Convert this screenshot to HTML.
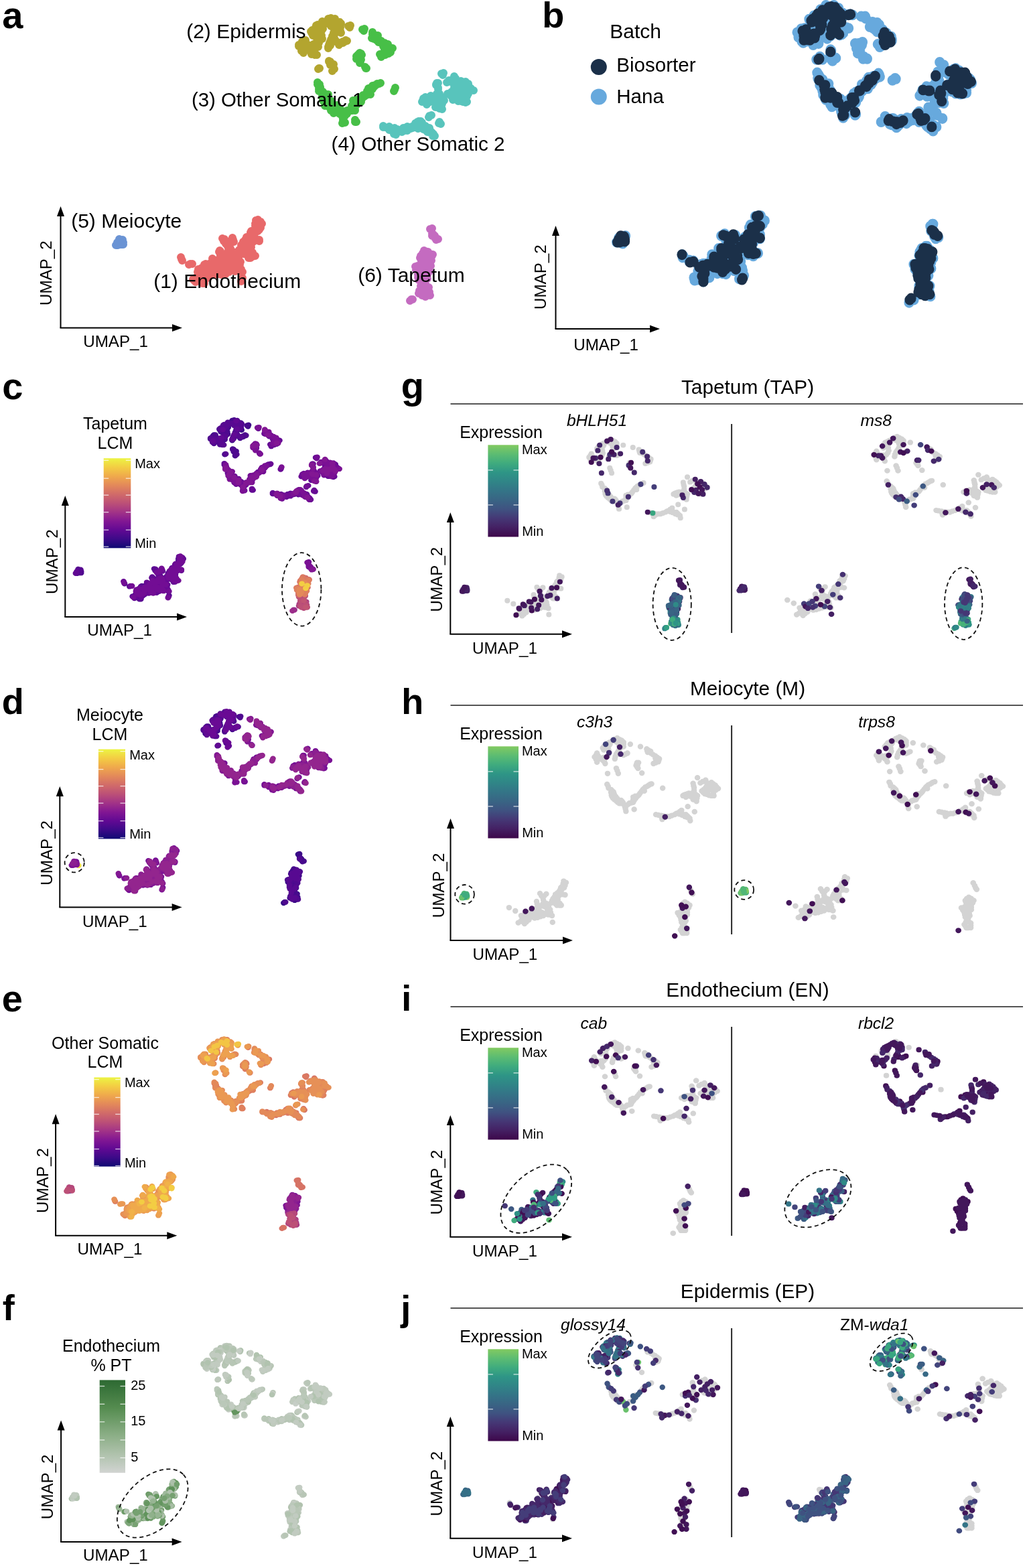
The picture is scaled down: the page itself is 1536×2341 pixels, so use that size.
<!DOCTYPE html>
<html><head><meta charset="utf-8"><title>Figure</title>
<style>html,body{margin:0;padding:0;background:#fff;}svg{display:block;}text{font-family:"Liberation Sans", sans-serif;fill:#000;}</style>
</head><body>
<svg width="1536" height="2341" viewBox="0 0 1536 2341">
<rect width="1536" height="2341" fill="#fff"/>
<g transform="matrix(1 0 0 1 0 0)" stroke-width="12" stroke-linecap="round" fill="none">
<path stroke="#b3a52f" d="M522 41h0M470 82h0M475 103h0M493 92h0M497 103h0M490 72h0M495 28h0M504 33h0M508 37h0M508 46h0M500 47h0M487 32h0M479 37h0M471 41h0M465 49h0M467 53h0M476 47h0M493 36h0M478 59h0M473 68h0M493 62h0M502 62h0M508 64h0M516 60h0M497 56h0M453 60h0M448 68h0M457 70h0M453 79h0M462 70h0M480 41h0M498 40h0M465 75h0M468 78h0M495 97h0M491 67h0M500 31h0M491 30h0M494 32h0M497 34h0M506 35h0M501 36h0M508 41h0M503 38h0M504 47h0M503 43h0M499 52h0M499 44h0M483 35h0M490 34h0M475 39h0M468 45h0M474 44h0M471 48h0M477 53h0M478 44h0M496 38h0M476 64h0M467 69h0M469 72h0M498 62h0M495 59h0M500 59h0M512 62h0M451 64h0M455 65h0M453 69h0M451 73h0M455 74h0M463 72h0M520 39h0M523 38h0M470 79h0M473 82h0M477 102h0M476 102h0M491 92h0M491 91h0M499 103h0M496 106h0M490 70h0M490 70h0M494 27h0M498 29h0M504 35h0M507 33h0M508 40h0M506 36h0M509 49h0M507 43h0M502 46h0M499 49h0M488 34h0M486 35h0M482 37h0M478 39h0M472 38h0M470 43h0M464 47h0M467 48h0M467 50h0M470 54h0M475 49h0M478 47h0M494 39h0M494 39h0M481 58h0M477 61h0M470 68h0M475 70h0M494 59h0M496 62h0M504 63h0M500 60h0M506 67h0M505 64h0M515 62h0M518 61h0M496 54h0M498 58h0M456 60h0M451 62h0M446 67h0M446 69h0M460 71h0M459 70h0M454 77h0M453 75h0M460 67h0M463 71h0M482 43h0M479 43h0M501 40h0M500 40h0M462 75h0M463 75h0M466 80h0M465 81h0M498 96h0M493 97h0M493 68h0M492 64h0M498 33h0M500 28h0M490 28h0M489 33h0M494 35h0M494 29h0M496 37h0M495 32h0M509 35h0M506 38h0M498 37h0M499 34h0M506 44h0M508 38h0M501 41h0M505 36h0M507 46h0M502 46h0M504 46h0M505 42h0M498 49h0M499 50h0M500 41h0M498 42h0M481 33h0M481 32h0M492 35h0M487 35h0M476 42h0M474 37h0M466 45h0M470 45h0M473 46h0M475 46h0M468 48h0M469 46h0M478 56h0M480 53h0M478 47h0M480 46h0M494 39h0M494 37h0M473 63h0M473 62h0M468 67h0M468 66h0M467 73h0M467 70h0M501 61h0M496 60h0M497 58h0M497 61h0M498 58h0M498 57h0M510 64h0M512 64h0M453 64h0M454 64h0M453 64h0M457 65h0M451 70h0M455 69h0M450 76h0M453 75h0M453 75h0M456 71h0M466 72h0M463 75h0"/>
<path stroke="#6a93d4" d="M175 362h0M183 358h0M180 365h0M178 357h0M173 366h0M184 365h0M179 360h0M184 362h0M176 366h0"/>
<path stroke="#c46bc0" d="M644 344h0M649 355h0M651 358h0M635 375h0M628 382h0M645 382h0M637 385h0M620 398h0M632 395h0M640 402h0M626 408h0M637 415h0M632 424h0M639 431h0M630 441h0M639 441h0M614 447h0M626 434h0M630 388h0M628 418h0M635 407h0M640 392h0M647 350h0M631 378h0M640 378h0M636 380h0M632 384h0M629 385h0M641 384h0M643 387h0M635 390h0M634 387h0M639 389h0M626 396h0M623 403h0M636 398h0M631 392h0M634 401h0M636 394h0M637 404h0M640 397h0M627 413h0M630 408h0M634 420h0M632 416h0M636 411h0M635 428h0M629 429h0M630 421h0M639 436h0M634 441h0M628 437h0M642 342h0M645 341h0M649 352h0M651 355h0M654 357h0M653 357h0M633 375h0M633 374h0M630 382h0M627 385h0M645 380h0M646 380h0M636 384h0M640 385h0M621 400h0M623 397h0M631 398h0M629 394h0M641 405h0M639 399h0M627 407h0M624 410h0M638 416h0M636 417h0M635 424h0M631 426h0M640 429h0M638 433h0M629 439h0M631 440h0M639 438h0M642 441h0M612 449h0M616 447h0M627 437h0M627 437h0M633 387h0M629 390h0M625 418h0M630 420h0M636 404h0M638 408h0M642 393h0M638 390h0M645 352h0M645 349h0M631 380h0M633 379h0M639 376h0M641 380h0M639 380h0M634 381h0M630 382h0M630 384h0M632 386h0M631 386h0M642 382h0M641 381h0M641 385h0M644 389h0M636 393h0M634 393h0M637 387h0M636 386h0M636 389h0M636 389h0M625 398h0M624 399h0M626 402h0M621 403h0M638 400h0M637 395h0M629 394h0M631 389h0M632 399h0M632 403h0M636 396h0M636 391h0M637 407h0M636 402h0M643 397h0M640 400h0M624 414h0M625 411h0M629 410h0M630 405h0M633 422h0M636 417h0M635 416h0M630 416h0M637 413h0M638 410h0M634 425h0M635 426h0M629 427h0M628 427h0M628 419h0M628 419h0M641 436h0M636 437h0M635 443h0M633 439h0M625 438h0M630 438h0"/>
<path stroke="#e8696a" d="M384 331h0M389 334h0M383 342h0M385 345h0M375 352h0M387 360h0M367 359h0M372 365h0M335 357h0M348 358h0M341 366h0M328 374h0M343 376h0M339 382h0M358 377h0M364 375h0M379 382h0M370 382h0M353 390h0M358 403h0M339 397h0M322 390h0M308 398h0M296 404h0M271 387h0M284 394h0M328 400h0M372 375h0M297 405h0M290 419h0M303 421h0M308 401h0M323 403h0M339 397h0M356 391h0M360 404h0M361 418h0M315 395h0M345 385h0M362 368h0M378 358h0M300 412h0M313 405h0M330 390h0M378 345h0M305 395h0M318 389h0M330 384h0M312 413h0M324 409h0M336 406h0M347 401h0M353 380h0M383 336h0M387 340h0M380 343h0M380 349h0M371 356h0M377 355h0M377 349h0M382 359h0M370 362h0M365 364h0M373 359h0M372 370h0M367 366h0M375 361h0M338 362h0M344 362h0M342 371h0M329 379h0M341 379h0M344 380h0M348 378h0M342 384h0M334 386h0M361 376h0M360 372h0M367 379h0M368 375h0M363 371h0M375 382h0M376 378h0M371 379h0M349 388h0M350 396h0M353 385h0M357 397h0M352 402h0M334 399h0M334 394h0M338 402h0M343 399h0M325 395h0M319 393h0M326 390h0M311 397h0M310 402h0M302 402h0M298 408h0M329 395h0M326 405h0M332 403h0M367 371h0M295 416h0M301 416h0M307 417h0M319 399h0M318 404h0M314 400h0M349 382h0M306 412h0M312 409h0M318 407h0M330 408h0M342 404h0M382 329h0M385 328h0M389 331h0M391 334h0M385 341h0M385 340h0M383 346h0M382 345h0M377 352h0M375 355h0M387 358h0M387 358h0M366 358h0M370 359h0M373 367h0M375 365h0M334 360h0M332 356h0M349 361h0M347 355h0M343 364h0M340 368h0M329 375h0M327 376h0M346 376h0M342 378h0M340 380h0M338 385h0M357 375h0M359 376h0M364 372h0M367 375h0M377 383h0M381 382h0M372 385h0M371 385h0M356 389h0M351 392h0M355 403h0M360 405h0M340 394h0M342 398h0M324 392h0M320 388h0M306 401h0M305 397h0M295 406h0M298 405h0M270 384h0M272 389h0M287 394h0M282 395h0M326 398h0M326 401h0M375 376h0M375 375h0M298 404h0M296 402h0M288 417h0M292 421h0M305 423h0M302 423h0M311 401h0M310 400h0M320 403h0M321 403h0M337 398h0M337 399h0M359 391h0M354 391h0M362 406h0M360 402h0M360 420h0M362 415h0M314 393h0M313 397h0M345 387h0M345 382h0M361 371h0M360 366h0M381 358h0M378 361h0M297 413h0M298 410h0M311 407h0M313 402h0M328 392h0M332 388h0M381 345h0M375 345h0M307 398h0M307 394h0M317 386h0M318 387h0M331 381h0M329 382h0M310 411h0M310 411h0M326 409h0M321 410h0M337 409h0M335 405h0M345 401h0M349 402h0M352 382h0M354 382h0M381 337h0M381 334h0M387 343h0M389 340h0M380 346h0M383 345h0M379 350h0M378 347h0M369 355h0M368 354h0M378 353h0M378 353h0M375 350h0M374 347h0M385 358h0M381 358h0M371 361h0M372 364h0M363 362h0M363 361h0M371 360h0M373 361h0M375 369h0M375 369h0M365 365h0M370 366h0M373 363h0M378 361h0M337 364h0M340 363h0M342 363h0M345 359h0M344 371h0M341 374h0M329 377h0M329 381h0M343 379h0M339 378h0M342 378h0M344 378h0M348 376h0M346 377h0M341 386h0M340 384h0M334 384h0M337 387h0M358 377h0M363 374h0M363 373h0M357 373h0M367 376h0M364 379h0M366 376h0M370 373h0M362 374h0M366 373h0M374 380h0M374 385h0M377 377h0M373 378h0M369 379h0M373 381h0M350 386h0M349 391h0M351 393h0M353 396h0M356 385h0M352 383h0M358 395h0M355 395h0M352 400h0M351 405h0M335 401h0M332 400h0M333 392h0M336 395h0M339 402h0M335 400h0M345 398h0M341 400h0M323 394h0M328 394h0M321 394h0M320 395h0M323 390h0M324 389h0M311 399h0M311 399h0M308 401h0M311 404h0M302 400h0M301 400h0M300 409h0M300 409h0M327 394h0M331 393h0M325 407h0M329 405h0M334 404h0M335 402h0M367 373h0M370 371h0M296 414h0M293 414h0M302 419h0M300 415h0M306 418h0M309 415h0M320 397h0M321 397h0M316 403h0M318 402h0M316 401h0M315 402h0M351 381h0M349 381h0M303 413h0M304 411h0M311 409h0M314 411h0M317 409h0M320 406h0M330 410h0M331 409h0M342 406h0M345 404h0"/>
<path stroke="#58c4bc" d="M661 112h0M678 117h0M667 123h0M690 122h0M652 124h0M654 133h0M704 135h0M678 133h0M688 134h0M676 146h0M685 149h0M695 150h0M693 140h0M631 150h0M643 145h0M650 152h0M661 150h0M659 160h0M641 173h0M628 181h0M655 184h0M637 190h0M643 196h0M614 190h0M603 194h0M586 192h0M575 190h0M588 200h0M629 191h0M635 194h0M645 198h0M646 203h0M659 162h0M683 127h0M670 140h0M698 128h0M680 141h0M594 195h0M620 187h0M637 147h0M637 153h0M645 151h0M652 158h0M655 145h0M672 120h0M680 122h0M687 124h0M694 125h0M653 129h0M654 139h0M699 138h0M701 132h0M683 134h0M680 130h0M674 137h0M679 137h0M691 137h0M686 131h0M693 131h0M684 138h0M680 147h0M673 143h0M678 143h0M690 150h0M682 145h0M694 145h0M634 148h0M640 146h0M644 148h0M649 145h0M655 151h0M651 155h0M652 149h0M660 155h0M656 154h0M658 148h0M656 159h0M628 186h0M624 184h0M640 193h0M633 190h0M608 192h0M617 188h0M598 194h0M580 191h0M587 196h0M590 193h0M591 197h0M624 189h0M640 196h0M675 140h0M641 149h0M659 110h0M662 109h0M678 114h0M680 117h0M670 122h0M669 122h0M688 122h0M688 121h0M654 124h0M651 127h0M654 131h0M654 131h0M702 134h0M707 135h0M678 135h0M681 133h0M687 137h0M685 134h0M676 149h0M674 143h0M687 148h0M684 151h0M697 152h0M695 153h0M696 140h0M692 142h0M632 147h0M630 152h0M643 143h0M645 144h0M650 149h0M653 152h0M659 152h0M663 150h0M660 163h0M660 163h0M644 172h0M640 175h0M625 181h0M630 183h0M656 182h0M658 185h0M639 191h0M635 188h0M642 198h0M641 195h0M613 192h0M616 191h0M602 191h0M604 195h0M589 191h0M584 193h0M572 188h0M572 190h0M591 201h0M591 200h0M630 190h0M628 188h0M633 192h0M637 196h0M647 200h0M645 200h0M649 203h0M648 203h0M656 162h0M657 162h0M681 128h0M681 129h0M673 139h0M668 140h0M700 129h0M699 125h0M678 143h0M680 138h0M593 193h0M592 197h0M620 189h0M620 184h0M636 150h0M635 145h0M640 153h0M637 156h0M642 152h0M643 149h0M650 160h0M652 155h0M653 147h0M657 143h0M676 119h0M670 120h0M682 124h0M683 121h0M686 122h0M686 122h0M695 122h0M693 123h0M651 127h0M651 126h0M656 140h0M652 140h0M699 140h0M697 136h0M699 132h0M703 132h0M682 136h0M684 136h0M678 131h0M678 128h0M674 140h0M676 137h0M678 140h0M681 139h0M689 138h0M689 136h0M683 130h0M683 129h0M694 129h0M694 129h0M683 139h0M682 136h0M683 147h0M678 146h0M674 142h0M675 145h0M676 142h0M676 141h0M688 151h0M691 152h0M685 145h0M685 144h0M692 144h0M697 144h0M632 149h0M636 148h0M640 148h0M642 148h0M642 149h0M645 145h0M652 145h0M649 148h0M656 149h0M655 153h0M653 155h0M649 153h0M651 146h0M652 146h0M660 153h0M658 155h0M656 156h0M654 155h0M658 145h0M660 148h0M653 160h0M657 158h0M631 187h0M626 187h0M623 182h0M621 185h0M638 194h0M641 191h0M632 193h0M636 192h0M608 189h0M608 195h0M619 187h0M615 189h0M596 194h0M600 197h0M581 189h0M581 194h0M588 193h0M590 196h0M593 193h0M589 191h0M592 196h0M589 195h0M624 187h0M624 192h0M642 198h0M638 197h0M674 139h0M677 142h0M643 150h0M638 148h0"/>
<path stroke="#47bf47" d="M543 46h0M556 51h0M558 58h0M564 56h0M565 60h0M574 66h0M582 72h0M580 78h0M570 82h0M575 76h0M536 80h0M539 80h0M534 86h0M538 92h0M546 102h0M474 126h0M477 134h0M482 137h0M487 142h0M489 148h0M483 149h0M493 161h0M499 166h0M507 165h0M511 174h0M513 183h0M520 166h0M528 164h0M528 153h0M538 150h0M530 179h0M548 137h0M553 132h0M560 128h0M566 125h0M551 140h0M589 134h0M495 156h0M503 160h0M486 155h0M515 170h0M533 156h0M542 145h0M557 55h0M560 54h0M561 57h0M569 63h0M578 69h0M574 71h0M581 75h0M575 80h0M535 83h0M537 86h0M536 89h0M476 130h0M485 140h0M482 143h0M488 145h0M485 146h0M486 149h0M492 152h0M488 152h0M484 152h0M496 164h0M498 160h0M489 158h0M503 166h0M501 163h0M509 169h0M505 162h0M512 178h0M524 165h0M518 168h0M528 158h0M530 160h0M532 151h0M530 154h0M535 153h0M540 148h0M550 135h0M545 141h0M557 130h0M563 126h0M541 44h0M544 43h0M556 48h0M559 52h0M560 57h0M559 57h0M562 56h0M562 55h0M567 60h0M565 63h0M574 64h0M574 64h0M581 70h0M586 72h0M580 80h0M583 78h0M569 85h0M567 81h0M576 79h0M574 73h0M537 79h0M534 82h0M540 82h0M538 83h0M536 86h0M532 88h0M539 89h0M537 94h0M545 100h0M547 102h0M474 123h0M477 126h0M476 136h0M479 134h0M483 140h0M483 140h0M490 141h0M486 144h0M486 148h0M491 150h0M484 146h0M486 150h0M495 162h0M490 159h0M498 169h0M497 166h0M507 167h0M509 166h0M510 171h0M512 175h0M515 183h0M511 184h0M518 165h0M518 167h0M530 165h0M530 164h0M529 151h0M527 150h0M536 148h0M539 152h0M532 182h0M530 182h0M551 137h0M550 137h0M550 132h0M551 132h0M559 129h0M558 130h0M568 124h0M563 125h0M553 141h0M552 137h0M588 136h0M590 131h0M494 154h0M493 158h0M503 162h0M503 157h0M485 158h0M484 153h0M518 170h0M515 173h0M530 157h0M531 154h0M540 147h0M542 142h0M555 57h0M559 53h0M564 53h0M558 53h0M562 60h0M563 56h0M568 61h0M569 61h0M579 66h0M577 67h0M572 69h0M572 69h0M583 75h0M579 76h0M575 82h0M573 78h0M532 84h0M537 84h0M536 88h0M538 88h0M534 89h0M534 87h0M476 133h0M478 130h0M484 142h0M487 142h0M481 145h0M481 142h0M486 144h0M486 144h0M486 143h0M486 143h0M485 150h0M484 147h0M495 151h0M490 151h0M489 150h0M490 153h0M483 151h0M482 150h0M494 165h0M496 166h0M500 160h0M501 160h0M488 157h0M492 158h0M501 167h0M506 165h0M501 166h0M503 165h0M507 170h0M510 166h0M508 163h0M505 165h0M512 176h0M512 180h0M526 165h0M522 164h0M516 166h0M518 166h0M528 156h0M525 158h0M529 162h0M528 160h0M532 149h0M535 152h0M527 155h0M532 153h0M538 153h0M533 154h0M539 145h0M537 148h0M548 136h0M552 133h0M544 144h0M547 142h0M556 128h0M556 133h0M565 125h0M560 127h0"/>
</g>
<text x="278.2" y="57.0" font-size="30">(2) Epidermis</text>
<text x="285.9" y="159.2" font-size="29.4">(3) Other Somatic 1</text>
<text x="494.6" y="225.1" font-size="29.7">(4) Other Somatic 2</text>
<text x="106.2" y="340.0" font-size="30">(5) Meiocyte</text>
<text x="229.2" y="430.0" font-size="30">(1) Endothecium</text>
<text x="534.2" y="421.0" font-size="30">(6) Tapetum</text>
<line x1="90.5" y1="489.4" x2="90.5" y2="322.0" stroke="#000" stroke-width="2"/>
<line x1="89.5" y1="489.4" x2="258.0" y2="489.4" stroke="#000" stroke-width="2"/>
<path d="M90.5,308.0 L85.0,323.0 L96.0,323.0 Z" fill="#000"/>
<path d="M272.0,489.4 L257.0,483.9 L257.0,494.9 Z" fill="#000"/>
<text x="124.2" y="518.0" font-size="24.2">UMAP_1</text>
<text x="76.7" y="456.0" font-size="24.2" transform="rotate(-90 76.7 456.0)">UMAP_2</text>
<g transform="matrix(0.994 0 0 1.037 749.7 -18)" stroke-width="15.29" stroke-linecap="round" fill="none">
<path stroke="#67a9dd" d="M521 38h0M467 82h0M472 103h0M493 89h0M496 105h0M488 73h0M496 28h0M501 36h0M506 34h0M510 44h0M501 46h0M484 29h0M480 36h0M472 40h0M467 50h0M468 53h0M478 46h0M490 35h0M476 59h0M474 70h0M496 60h0M503 62h0M510 67h0M517 57h0M498 60h0M451 60h0M445 68h0M454 66h0M450 77h0M464 67h0M480 44h0M501 38h0M464 78h0M465 76h0M493 97h0M490 63h0M499 31h0M492 31h0M495 29h0M499 37h0M505 34h0M502 33h0M506 39h0M500 35h0M501 46h0M505 44h0M497 51h0M497 46h0M483 35h0M487 33h0M478 36h0M471 45h0M474 41h0M474 50h0M476 52h0M480 44h0M494 36h0M479 66h0M469 71h0M469 71h0M495 60h0M497 62h0M503 63h0M511 60h0M449 62h0M458 67h0M454 71h0M452 76h0M457 74h0M465 71h0M523 38h0M526 39h0M467 76h0M475 80h0M481 103h0M477 99h0M494 93h0M494 90h0M501 101h0M495 104h0M488 69h0M493 69h0M494 30h0M501 29h0M505 32h0M505 29h0M505 40h0M506 35h0M509 51h0M507 41h0M504 46h0M501 52h0M489 34h0M487 35h0M482 40h0M481 42h0M473 42h0M468 40h0M461 45h0M468 50h0M465 52h0M468 56h0M473 52h0M478 51h0M492 38h0M493 37h0M483 54h0M477 58h0M471 68h0M478 72h0M492 57h0M498 61h0M504 66h0M498 57h0M507 68h0M502 65h0M512 65h0M520 58h0M493 56h0M497 59h0M454 58h0M449 59h0M443 64h0M445 71h0M460 68h0M456 68h0M456 77h0M452 79h0M462 67h0M466 70h0M483 47h0M482 45h0M500 39h0M498 37h0M460 73h0M465 78h0M464 78h0M465 78h0M496 100h0M493 95h0M492 67h0M491 64h0M496 33h0M498 25h0M486 25h0M487 33h0M495 36h0M497 29h0M499 35h0M496 29h0M511 36h0M508 35h0M498 40h0M501 35h0M508 45h0M505 36h0M499 43h0M506 37h0M507 43h0M503 46h0M505 43h0M503 39h0M499 47h0M502 50h0M500 42h0M499 43h0M478 31h0M480 33h0M489 33h0M489 36h0M476 41h0M471 40h0M469 48h0M470 48h0M473 44h0M478 44h0M466 49h0M466 48h0M480 58h0M483 53h0M474 46h0M479 44h0M493 42h0M496 39h0M476 64h0M471 61h0M472 67h0M468 65h0M465 75h0M470 68h0M501 59h0M499 63h0M498 61h0M498 62h0M500 57h0M499 55h0M513 61h0M511 63h0M456 62h0M452 64h0M451 61h0M460 65h0M454 74h0M453 66h0M449 73h0M451 76h0M455 74h0M456 70h0M463 71h0M460 75h0M546 44h0M555 51h0M561 61h0M561 53h0M568 60h0M570 66h0M585 74h0M578 75h0M570 83h0M576 77h0M535 80h0M541 78h0M535 85h0M536 92h0M543 99h0M475 125h0M478 130h0M482 141h0M490 142h0M487 152h0M481 146h0M494 160h0M500 169h0M504 164h0M512 172h0M515 183h0M523 165h0M526 162h0M526 156h0M535 148h0M531 182h0M547 135h0M550 129h0M560 131h0M567 128h0M550 138h0M591 131h0M494 155h0M501 157h0M485 158h0M518 168h0M535 158h0M539 145h0M560 53h0M563 50h0M563 59h0M566 60h0M576 71h0M573 70h0M582 73h0M573 78h0M536 86h0M540 82h0M536 92h0M475 128h0M485 143h0M484 145h0M490 146h0M484 145h0M483 147h0M490 149h0M488 150h0M487 156h0M493 161h0M499 160h0M489 159h0M505 168h0M498 166h0M510 168h0M503 161h0M510 181h0M523 164h0M518 166h0M529 162h0M530 162h0M535 148h0M528 152h0M536 156h0M542 147h0M552 138h0M545 142h0M556 128h0M561 127h0M539 41h0M545 41h0M554 50h0M556 49h0M560 58h0M557 58h0M561 55h0M560 56h0M567 63h0M564 61h0M572 61h0M574 67h0M584 70h0M582 72h0M583 77h0M582 78h0M567 85h0M564 81h0M579 77h0M577 76h0M534 82h0M537 82h0M538 84h0M537 85h0M534 84h0M532 87h0M537 91h0M534 94h0M542 102h0M548 102h0M473 122h0M476 127h0M475 132h0M479 132h0M485 140h0M483 137h0M490 138h0M486 141h0M483 149h0M492 147h0M483 149h0M488 153h0M497 160h0M490 162h0M495 171h0M494 165h0M504 169h0M511 163h0M513 169h0M512 174h0M513 180h0M512 187h0M520 162h0M519 166h0M531 165h0M527 168h0M528 153h0M531 150h0M537 148h0M541 148h0M530 183h0M530 183h0M547 134h0M551 136h0M553 130h0M552 129h0M558 127h0M556 131h0M566 125h0M561 128h0M551 138h0M554 139h0M586 133h0M590 130h0M493 157h0M491 161h0M503 162h0M500 159h0M486 161h0M482 154h0M519 172h0M514 171h0M533 159h0M528 156h0M540 149h0M540 139h0M552 56h0M560 55h0M562 54h0M560 54h0M563 63h0M566 53h0M567 62h0M571 60h0M577 65h0M578 68h0M575 69h0M574 71h0M585 76h0M577 77h0M578 80h0M571 81h0M530 80h0M538 85h0M538 85h0M537 90h0M536 86h0M537 90h0M474 130h0M481 132h0M486 143h0M484 139h0M479 143h0M477 140h0M488 144h0M489 144h0M487 140h0M486 145h0M486 151h0M486 144h0M493 148h0M492 154h0M489 150h0M487 153h0M485 149h0M481 148h0M494 163h0M493 168h0M502 161h0M500 159h0M485 159h0M490 156h0M501 166h0M504 165h0M502 167h0M502 164h0M509 171h0M507 166h0M508 160h0M507 164h0M511 178h0M509 178h0M525 165h0M521 161h0M518 163h0M515 165h0M530 158h0M523 159h0M527 162h0M527 162h0M532 150h0M532 153h0M529 158h0M533 154h0M536 155h0M535 156h0M540 146h0M535 149h0M548 138h0M552 131h0M544 145h0M549 145h0M557 130h0M556 136h0M565 123h0M563 127h0M662 112h0M678 118h0M667 122h0M688 123h0M654 121h0M653 130h0M703 132h0M677 135h0M686 132h0M679 146h0M687 148h0M693 152h0M694 139h0M629 153h0M644 147h0M649 151h0M658 152h0M661 159h0M640 172h0M624 183h0M653 183h0M637 191h0M642 199h0M611 192h0M605 191h0M587 188h0M578 191h0M585 197h0M631 190h0M638 196h0M648 198h0M647 206h0M662 159h0M683 129h0M673 140h0M696 125h0M677 141h0M594 195h0M623 184h0M637 147h0M639 152h0M648 148h0M653 155h0M656 148h0M676 120h0M683 119h0M687 123h0M693 125h0M655 127h0M654 140h0M697 140h0M701 130h0M686 135h0M679 129h0M674 138h0M676 139h0M691 134h0M682 129h0M694 132h0M687 138h0M681 149h0M674 141h0M678 145h0M688 146h0M685 146h0M697 147h0M632 147h0M639 145h0M647 145h0M646 142h0M656 154h0M647 154h0M655 152h0M659 152h0M654 152h0M655 149h0M659 156h0M626 183h0M622 186h0M637 195h0M635 192h0M609 193h0M620 187h0M600 191h0M581 193h0M586 197h0M593 193h0M590 198h0M626 187h0M639 197h0M674 140h0M644 151h0M657 107h0M663 111h0M678 117h0M681 116h0M673 121h0M670 124h0M686 119h0M687 122h0M657 121h0M653 130h0M652 134h0M656 134h0M699 134h0M705 137h0M676 136h0M680 131h0M689 139h0M683 136h0M675 149h0M677 143h0M687 145h0M681 152h0M697 151h0M692 149h0M695 137h0M694 139h0M631 147h0M627 155h0M643 143h0M647 144h0M651 151h0M651 149h0M657 149h0M663 153h0M663 166h0M661 162h0M647 170h0M641 178h0M624 180h0M633 187h0M652 180h0M661 188h0M636 193h0M636 191h0M639 200h0M642 194h0M615 189h0M614 188h0M599 189h0M605 192h0M586 188h0M582 196h0M575 185h0M569 193h0M592 201h0M593 200h0M627 188h0M630 189h0M636 191h0M635 194h0M646 198h0M643 203h0M652 200h0M650 201h0M655 160h0M656 165h0M684 125h0M683 126h0M671 143h0M670 139h0M696 132h0M696 125h0M676 144h0M678 140h0M590 190h0M593 197h0M617 190h0M623 185h0M633 152h0M637 142h0M638 156h0M637 152h0M642 154h0M641 151h0M648 159h0M648 155h0M653 145h0M659 146h0M677 118h0M667 122h0M682 125h0M683 118h0M684 120h0M685 125h0M692 124h0M689 124h0M651 128h0M653 128h0M654 139h0M650 138h0M697 141h0M695 137h0M696 134h0M702 132h0M682 135h0M686 135h0M677 130h0M680 131h0M677 137h0M679 140h0M678 140h0M681 136h0M689 135h0M692 138h0M684 132h0M685 126h0M692 130h0M694 132h0M681 139h0M685 135h0M684 144h0M682 146h0M674 142h0M672 142h0M676 141h0M673 142h0M689 152h0M688 153h0M685 145h0M684 142h0M693 143h0M693 143h0M630 150h0M635 151h0M641 146h0M645 147h0M641 148h0M642 143h0M653 143h0M648 149h0M658 151h0M657 155h0M653 157h0M652 151h0M647 148h0M652 150h0M660 155h0M658 154h0M655 158h0M653 155h0M657 147h0M660 148h0M651 158h0M658 155h0M630 189h0M629 185h0M626 178h0M621 184h0M640 195h0M642 191h0M631 192h0M635 195h0M608 187h0M607 195h0M622 190h0M614 190h0M595 195h0M598 195h0M583 189h0M583 195h0M591 196h0M587 195h0M593 191h0M590 192h0M596 197h0M589 197h0M625 184h0M626 193h0M640 198h0M637 198h0M677 140h0M674 140h0M640 147h0M639 150h0M177 359h0M185 357h0M179 363h0M175 360h0M172 366h0M181 368h0M182 360h0M182 358h0M179 364h0M386 329h0M392 334h0M381 341h0M383 344h0M375 354h0M385 359h0M371 358h0M370 365h0M334 354h0M350 357h0M339 364h0M325 375h0M340 377h0M337 385h0M357 379h0M362 374h0M378 385h0M373 383h0M352 388h0M356 406h0M338 395h0M320 393h0M308 398h0M298 403h0M272 386h0M281 392h0M327 401h0M373 374h0M295 402h0M288 417h0M301 420h0M309 403h0M321 401h0M340 398h0M355 392h0M358 407h0M362 416h0M318 397h0M342 382h0M360 367h0M375 357h0M298 414h0M315 403h0M331 389h0M380 347h0M302 397h0M315 387h0M332 382h0M314 410h0M323 411h0M334 403h0M346 404h0M355 382h0M383 333h0M386 340h0M378 345h0M381 351h0M372 359h0M377 353h0M376 348h0M381 356h0M371 360h0M365 363h0M372 357h0M370 370h0M369 367h0M373 363h0M338 363h0M342 361h0M340 368h0M327 380h0M338 378h0M343 378h0M345 381h0M339 385h0M335 384h0M360 373h0M356 375h0M368 382h0M367 373h0M360 373h0M373 380h0M378 381h0M373 381h0M348 385h0M349 395h0M352 387h0M353 398h0M354 403h0M337 399h0M332 392h0M335 403h0M343 402h0M322 395h0M320 389h0M329 392h0M310 398h0M310 400h0M303 405h0M296 407h0M330 394h0M323 403h0M335 406h0M370 375h0M297 413h0M302 415h0M311 417h0M318 398h0M315 402h0M314 397h0M348 383h0M306 413h0M310 407h0M319 404h0M328 405h0M340 403h0M380 329h0M385 328h0M388 328h0M394 335h0M387 338h0M386 338h0M382 344h0M383 347h0M379 349h0M374 352h0M385 356h0M387 361h0M368 358h0M373 357h0M372 369h0M377 362h0M336 363h0M329 357h0M349 363h0M350 356h0M341 364h0M340 365h0M326 377h0M327 375h0M345 373h0M342 379h0M343 377h0M336 385h0M359 371h0M362 378h0M364 369h0M367 378h0M374 382h0M384 382h0M369 384h0M372 384h0M352 390h0M348 392h0M351 400h0M358 403h0M338 395h0M345 401h0M325 393h0M322 389h0M305 399h0M308 401h0M294 408h0M298 406h0M270 384h0M271 388h0M287 393h0M281 394h0M322 401h0M325 401h0M373 373h0M373 377h0M301 402h0M297 399h0M289 421h0M294 420h0M302 423h0M301 422h0M308 399h0M308 400h0M321 406h0M319 405h0M338 395h0M339 398h0M356 391h0M355 394h0M361 407h0M360 403h0M356 419h0M363 414h0M314 391h0M310 400h0M348 384h0M347 381h0M359 369h0M358 368h0M381 359h0M379 361h0M299 411h0M300 412h0M313 411h0M311 402h0M326 389h0M333 390h0M385 343h0M373 341h0M303 398h0M305 397h0M315 384h0M321 385h0M332 380h0M329 383h0M312 411h0M313 408h0M323 410h0M324 407h0M336 412h0M336 403h0M343 401h0M347 404h0M351 385h0M354 379h0M384 335h0M384 333h0M387 345h0M391 340h0M381 348h0M385 344h0M381 348h0M382 346h0M366 358h0M371 352h0M375 351h0M375 351h0M377 353h0M371 345h0M387 355h0M379 357h0M368 364h0M374 361h0M361 362h0M364 359h0M371 358h0M373 364h0M373 373h0M377 367h0M364 362h0M370 366h0M372 359h0M379 362h0M339 367h0M341 363h0M342 366h0M344 358h0M348 368h0M344 372h0M328 375h0M326 383h0M346 376h0M338 379h0M341 382h0M346 381h0M349 379h0M347 379h0M343 385h0M340 386h0M335 384h0M337 385h0M358 378h0M363 372h0M366 373h0M358 376h0M364 378h0M365 381h0M369 373h0M372 375h0M360 372h0M365 375h0M373 377h0M377 386h0M377 379h0M371 380h0M369 377h0M372 380h0M348 386h0M347 392h0M349 391h0M350 397h0M354 384h0M353 382h0M358 394h0M353 394h0M354 399h0M352 408h0M338 402h0M333 399h0M335 391h0M336 398h0M336 403h0M335 403h0M344 400h0M341 400h0M324 395h0M324 396h0M323 396h0M318 392h0M320 387h0M324 386h0M313 399h0M313 399h0M312 404h0M308 403h0M298 404h0M299 398h0M303 410h0M299 406h0M330 396h0M329 391h0M325 406h0M329 406h0M336 402h0M335 399h0M368 373h0M369 369h0M295 415h0M294 414h0M301 421h0M299 416h0M308 415h0M307 418h0M322 397h0M322 395h0M318 400h0M316 399h0M318 404h0M316 400h0M352 378h0M350 377h0M302 411h0M303 411h0M313 408h0M311 413h0M316 405h0M321 404h0M327 410h0M331 411h0M344 403h0M348 407h0M643 343h0M649 358h0M651 361h0M636 372h0M626 385h0M643 385h0M638 389h0M624 399h0M631 395h0M642 399h0M624 405h0M634 415h0M633 424h0M639 428h0M627 441h0M638 442h0M612 450h0M628 437h0M628 385h0M625 418h0M632 407h0M640 392h0M645 349h0M629 377h0M640 381h0M639 380h0M633 385h0M631 383h0M638 383h0M641 390h0M635 388h0M636 388h0M637 389h0M623 397h0M625 402h0M636 401h0M634 391h0M631 399h0M637 391h0M635 402h0M639 400h0M629 413h0M632 410h0M635 417h0M635 418h0M637 410h0M639 429h0M626 432h0M633 423h0M641 436h0M636 443h0M626 441h0M646 340h0M647 340h0M647 349h0M650 355h0M655 359h0M655 359h0M636 378h0M630 375h0M629 383h0M629 382h0M642 377h0M645 381h0M635 382h0M643 386h0M618 398h0M623 398h0M629 399h0M632 392h0M644 404h0M641 399h0M627 407h0M624 413h0M640 414h0M632 415h0M635 427h0M630 424h0M642 429h0M641 436h0M626 440h0M635 439h0M640 437h0M643 444h0M611 453h0M618 449h0M627 439h0M628 439h0M632 384h0M631 387h0M626 414h0M632 421h0M638 403h0M637 411h0M644 395h0M641 391h0M644 350h0M647 351h0M628 381h0M631 381h0M638 372h0M640 383h0M637 379h0M632 380h0M627 380h0M629 388h0M630 389h0M634 387h0M641 379h0M641 381h0M642 383h0M647 389h0M637 391h0M631 395h0M636 390h0M634 383h0M638 390h0M639 386h0M626 401h0M625 401h0M629 404h0M620 405h0M636 402h0M637 397h0M627 393h0M631 389h0M633 399h0M632 402h0M638 398h0M638 393h0M639 410h0M638 403h0M640 398h0M641 398h0M625 416h0M623 409h0M630 413h0M629 406h0M635 421h0M637 415h0M632 415h0M632 413h0M635 411h0M637 409h0M632 427h0M637 428h0M626 429h0M628 427h0M629 421h0M627 419h0M639 439h0M638 440h0M638 440h0M630 439h0M627 438h0M627 437h0"/>
<path stroke="#1b3049" d="M475 103h0M493 92h0M504 33h0M508 37h0M500 47h0M487 32h0M479 37h0M471 41h0M465 49h0M478 59h0M502 62h0M498 40h0M506 35h0M501 36h0M508 41h0M503 38h0M504 47h0M503 43h0M499 52h0M483 35h0M490 34h0M475 39h0M468 45h0M474 44h0M477 53h0M469 72h0M498 62h0M495 59h0M453 69h0M520 39h0M523 38h0M476 102h0M494 27h0M498 29h0M504 35h0M506 36h0M509 49h0M507 43h0M499 49h0M488 34h0M486 35h0M478 39h0M470 43h0M464 47h0M475 49h0M494 39h0M494 39h0M477 61h0M470 68h0M494 59h0M506 67h0M496 54h0M456 60h0M451 62h0M459 70h0M453 75h0M482 43h0M501 40h0M462 75h0M493 68h0M498 33h0M500 28h0M490 28h0M489 33h0M494 29h0M506 38h0M506 44h0M508 38h0M502 46h0M505 42h0M499 50h0M498 42h0M481 32h0M487 35h0M476 42h0M474 37h0M466 45h0M473 46h0M469 46h0M478 56h0M480 53h0M478 47h0M480 46h0M494 39h0M494 37h0M468 66h0M501 61h0M497 61h0M498 57h0M455 69h0M580 78h0M513 183h0M530 179h0M553 132h0M486 155h0M575 80h0M485 140h0M492 152h0M528 158h0M550 135h0M545 141h0M557 130h0M574 64h0M581 70h0M583 78h0M576 79h0M574 73h0M483 140h0M483 140h0M484 146h0M512 175h0M511 184h0M536 148h0M551 137h0M551 132h0M493 158h0M503 157h0M485 158h0M518 170h0M515 173h0M572 69h0M583 75h0M579 76h0M575 82h0M573 78h0M476 133h0M485 150h0M495 151h0M490 151h0M488 157h0M503 165h0M505 165h0M526 165h0M525 158h0M529 162h0M537 148h0M547 142h0M556 133h0M560 127h0M690 122h0M704 135h0M678 133h0M676 146h0M685 149h0M586 192h0M629 191h0M683 127h0M670 140h0M698 128h0M680 141h0M672 120h0M699 138h0M680 130h0M691 137h0M678 143h0M682 145h0M656 154h0M658 148h0M633 190h0M598 194h0M580 191h0M590 193h0M680 117h0M688 122h0M681 133h0M687 137h0M674 143h0M687 148h0M684 151h0M632 147h0M659 152h0M660 163h0M660 163h0M625 181h0M635 188h0M602 191h0M630 190h0M628 188h0M645 200h0M681 128h0M673 139h0M668 140h0M678 143h0M593 193h0M686 122h0M686 122h0M695 122h0M651 127h0M651 126h0M684 136h0M676 137h0M678 140h0M681 139h0M689 138h0M694 129h0M683 139h0M682 136h0M678 146h0M674 142h0M675 145h0M676 142h0M691 152h0M685 145h0M685 144h0M640 148h0M642 148h0M623 182h0M581 189h0M592 196h0M674 139h0M175 362h0M183 358h0M180 365h0M178 357h0M173 366h0M184 365h0M179 360h0M184 362h0M176 366h0M375 352h0M387 360h0M335 357h0M348 358h0M341 366h0M343 376h0M339 382h0M379 382h0M370 382h0M322 390h0M308 398h0M328 400h0M323 403h0M361 418h0M345 385h0M330 390h0M378 345h0M318 389h0M380 343h0M380 349h0M377 355h0M377 349h0M370 362h0M342 371h0M344 380h0M368 375h0M376 378h0M353 385h0M338 402h0M343 399h0M325 395h0M329 395h0M382 329h0M385 328h0M382 345h0M377 352h0M332 356h0M349 361h0M347 355h0M340 368h0M329 375h0M357 375h0M377 383h0M381 382h0M342 398h0M270 384h0M287 394h0M282 395h0M296 402h0M302 423h0M310 400h0M337 399h0M354 391h0M360 420h0M345 382h0M375 345h0M318 387h0M335 405h0M345 401h0M352 382h0M387 343h0M380 346h0M378 347h0M369 355h0M381 358h0M363 362h0M375 369h0M365 365h0M345 359h0M329 377h0M342 378h0M348 376h0M334 384h0M363 374h0M357 373h0M370 373h0M362 374h0M373 381h0M350 386h0M349 391h0M352 383h0M351 405h0M332 400h0M321 394h0M311 399h0M302 400h0M301 400h0M331 393h0M302 419h0M300 415h0M321 397h0M318 402h0M351 381h0M304 411h0M331 409h0M649 355h0M635 375h0M645 382h0M637 385h0M620 398h0M632 395h0M632 424h0M630 441h0M639 441h0M614 447h0M626 434h0M635 407h0M640 392h0M647 350h0M640 378h0M632 384h0M629 385h0M643 387h0M634 387h0M636 398h0M631 392h0M636 394h0M637 404h0M627 413h0M632 416h0M636 411h0M639 436h0M649 352h0M654 357h0M633 375h0M627 385h0M646 380h0M636 384h0M640 385h0M631 398h0M629 394h0M641 405h0M624 410h0M635 424h0M640 429h0M629 439h0M642 441h0M612 449h0M627 437h0M625 418h0M630 420h0M642 393h0M645 349h0M633 379h0M639 376h0M634 381h0M630 382h0M630 384h0M632 386h0M641 385h0M644 389h0M637 387h0M636 389h0M636 389h0M624 399h0M626 402h0M621 403h0M629 394h0M632 399h0M636 396h0M640 400h0M624 414h0M625 411h0M630 405h0M633 422h0M636 417h0M634 425h0M629 427h0M628 427h0M636 437h0M635 443h0M625 438h0M630 438h0"/>
</g>
<text x="910.2" y="56.6" font-size="30">Batch</text>
<circle cx="893.8" cy="100" r="12" fill="#1b3049"/>
<circle cx="893.8" cy="144.5" r="12" fill="#67a9dd"/>
<text x="920.2" y="107.4" font-size="29.6">Biosorter</text>
<text x="920.2" y="154.3" font-size="29.6">Hana</text>
<line x1="829.5" y1="491.0" x2="829.5" y2="351.0" stroke="#000" stroke-width="2"/>
<line x1="828.5" y1="491.0" x2="971.0" y2="491.0" stroke="#000" stroke-width="2"/>
<path d="M829.5,337.0 L824.0,352.0 L835.0,352.0 Z" fill="#000"/>
<path d="M985.0,491.0 L970.0,485.5 L970.0,496.5 Z" fill="#000"/>
<text x="856.2" y="523.0" font-size="24.2">UMAP_1</text>
<text x="814.7" y="462.0" font-size="24.2" transform="rotate(-90 814.7 462.0)">UMAP_2</text>
<text x="3.2" y="42.0" font-size="56" font-weight="bold">a</text>
<text x="809.2" y="41.0" font-size="54" font-weight="bold">b</text>
<text x="3.2" y="595.5" font-size="56" font-weight="bold">c</text>
<text x="2.7" y="1066.0" font-size="54" font-weight="bold">d</text>
<text x="2.7" y="1509.5" font-size="56" font-weight="bold">e</text>
<text x="3.7" y="1971.0" font-size="54" font-weight="bold">f</text>
<text x="598.7" y="594.5" font-size="56" font-weight="bold">g</text>
<text x="599.2" y="1065.7" font-size="54" font-weight="bold">h</text>
<text x="599.2" y="1508.7" font-size="54" font-weight="bold">i</text>
<text x="598.2" y="1972.0" font-size="54" font-weight="bold">j</text>
<g transform="matrix(0.737 0 0 0.675 -14.5 608.9)" stroke-width="12" stroke-linecap="round" fill="none">
<path stroke="#330a84" d="M473 63h0M500 60h0M495 28h0M515 62h0M454 77h0M492 64h0M453 60h0M506 36h0M488 34h0M476 102h0M491 91h0M455 69h0M498 58h0M453 75h0M455 65h0M502 62h0M490 72h0M454 64h0"/>
<path stroke="#3c0a88" d="M507 33h0M455 74h0M491 30h0M506 38h0M499 50h0M473 46h0M494 32h0M467 53h0M523 38h0M494 37h0M499 49h0M478 44h0M505 36h0M492 35h0M496 37h0M498 42h0M509 49h0M495 59h0M497 34h0M496 60h0M489 33h0M498 49h0M453 64h0M508 46h0M470 68h0M522 41h0M494 29h0M482 43h0M508 37h0M469 46h0M487 35h0M451 64h0M457 65h0M510 64h0M475 46h0M176 366h0M470 79h0"/>
<path stroke="#460a8c" d="M498 96h0M503 38h0M475 70h0M497 56h0M504 35h0M490 28h0M463 75h0M482 37h0M500 40h0M498 37h0M496 106h0M499 34h0M507 46h0M512 64h0M470 45h0M478 56h0M499 52h0M446 69h0M462 75h0M466 80h0M475 103h0M493 97h0M470 43h0M503 43h0M465 75h0M507 43h0M480 46h0M520 39h0M506 67h0M480 53h0M478 47h0M481 58h0M467 73h0M495 32h0M501 36h0M508 38h0M495 97h0M505 42h0M479 43h0M464 47h0M451 62h0M487 32h0M457 70h0M471 41h0M494 27h0M494 39h0M504 47h0M498 57h0M467 48h0M496 62h0"/>
<path stroke="#4f098f" d="M478 59h0M184 365h0M500 41h0M470 82h0M504 63h0M475 49h0M469 72h0M498 33h0M512 62h0M463 75h0M505 64h0M483 35h0M499 44h0M453 64h0M516 60h0M501 40h0M465 81h0M470 54h0M508 40h0M493 92h0M502 46h0M491 92h0M518 61h0M478 47h0M497 103h0M508 41h0M456 60h0M184 362h0M496 54h0M476 47h0M465 49h0M362 415h0M474 37h0M467 50h0M375 382h0M326 390h0M502 46h0M348 376h0M385 340h0M381 358h0M498 58h0M318 402h0M371 385h0M477 53h0M493 62h0M325 395h0M460 67h0M312 413h0M446 67h0M307 417h0M475 39h0M378 361h0M310 411h0M353 385h0M302 402h0M329 381h0M307 394h0M453 75h0M323 390h0M509 35h0M323 394h0M345 387h0M460 71h0M341 366h0M380 346h0M372 365h0M498 62h0M377 349h0M480 41h0M320 403h0M337 399h0M320 397h0M499 103h0M453 79h0M477 61h0M322 390h0M363 374h0M329 395h0M330 390h0M500 28h0M459 70h0M324 392h0M380 349h0M473 68h0M335 405h0M497 58h0"/>
<path stroke="#570991" d="M344 378h0M320 406h0M508 64h0M353 396h0M381 334h0M354 382h0M376 378h0M302 423h0M473 82h0M318 407h0M493 68h0M309 415h0M307 398h0M311 407h0M381 337h0M293 414h0M367 376h0M179 360h0M382 359h0M338 385h0M468 48h0M183 358h0M338 362h0M463 72h0M468 78h0M296 404h0M350 396h0M494 35h0M344 371h0M385 341h0M466 45h0M481 33h0M334 360h0M476 42h0M451 70h0M318 387h0M328 392h0M340 363h0M282 395h0M332 356h0M313 405h0M319 393h0M180 365h0M331 381h0M383 345h0M272 389h0M500 59h0M506 44h0M337 398h0M479 37h0M497 61h0M370 366h0M504 33h0M481 32h0M329 377h0M357 397h0M385 345h0M379 382h0M311 404h0M453 69h0M308 398h0M501 41h0M302 419h0M474 44h0M496 38h0M448 68h0M321 403h0M486 35h0M493 36h0M297 413h0M477 102h0M462 70h0M500 31h0M368 375h0M468 67h0M490 70h0M368 354h0M332 403h0M312 409h0M504 46h0M311 401h0M456 71h0M472 38h0M301 416h0M466 72h0M341 374h0M450 76h0M345 382h0M490 34h0M360 366h0M467 69h0M351 393h0M375 375h0M336 406h0M391 334h0M360 405h0M352 382h0M305 423h0M314 393h0M352 400h0M316 403h0M494 39h0M498 40h0M342 384h0M350 386h0M380 343h0M453 75h0M501 61h0M378 358h0M468 45h0M305 395h0M367 379h0M491 67h0M371 356h0M325 407h0M494 39h0M178 357h0M473 62h0M326 405h0M344 362h0M385 358h0M467 70h0M357 375h0M375 376h0M288 417h0M366 373h0M321 397h0M478 39h0M366 376h0M463 71h0M476 64h0M506 35h0M358 403h0M310 402h0"/>
<path stroke="#610993" d="M358 395h0M494 59h0M490 70h0M353 380h0M371 361h0M335 357h0M370 382h0M468 66h0M329 375h0M387 343h0M451 73h0M378 353h0M471 48h0M374 380h0M500 47h0M344 380h0M331 393h0M498 29h0M560 128h0M651 155h0M658 185h0M308 401h0M676 119h0M565 63h0M501 160h0M300 415h0M507 165h0M306 401h0M335 402h0M375 361h0M362 374h0M175 362h0M608 189h0M543 46h0M331 409h0M337 409h0M326 398h0M311 399h0M630 190h0M640 148h0M530 157h0M567 81h0M624 192h0M345 401h0M648 203h0M584 193h0M292 421h0M691 137h0M670 120h0M699 132h0M334 404h0M539 89h0M686 122h0M640 193h0M603 194h0M687 148h0M315 395h0M581 70h0M340 368h0M339 378h0M377 355h0M364 372h0M638 194h0M520 166h0M640 196h0M373 367h0M647 200h0M678 143h0M173 366h0M686 122h0M295 416h0M566 125h0M308 401h0M339 382h0M591 200h0M479 134h0M328 394h0M319 399h0M339 397h0M300 409h0M495 156h0M650 152h0M311 397h0M347 401h0M518 168h0M654 155h0M357 373h0M314 411h0M659 110h0M345 398h0M684 151h0M375 369h0M592 196h0M476 130h0M626 187h0M509 166h0M677 142h0M489 150h0M515 170h0M678 131h0M342 378h0M335 401h0M682 124h0M327 376h0M586 72h0M490 153h0M650 160h0M681 128h0M530 182h0M516 166h0M652 145h0M580 80h0M342 371h0M334 386h0M594 195h0M371 360h0M387 360h0M334 399h0M562 55h0M375 355h0M653 160h0M474 123h0M674 143h0M572 188h0M631 187h0M342 406h0M698 128h0M512 180h0M624 187h0M620 187h0M548 136h0M332 400h0M676 137h0M508 163h0M361 371h0M360 404h0M348 358h0M574 73h0M375 350h0M652 124h0M563 126h0M575 80h0M699 125h0M355 403h0M589 134h0M551 140h0M688 122h0M590 193h0M356 385h0M704 135h0M329 405h0M370 373h0M642 198h0M574 64h0M558 53h0M382 329h0M653 129h0M532 182h0M305 397h0M641 191h0M632 149h0M375 365h0M318 389h0M359 376h0M518 165h0M695 153h0M337 387h0M329 379h0M359 391h0M673 139h0M335 400h0M371 379h0M333 392h0M572 190h0M589 191h0M688 151h0M683 121h0M351 381h0M602 191h0M375 369h0M321 410h0M487 142h0M558 58h0M303 421h0M349 388h0M542 142h0M373 361h0M683 130h0M316 401h0M375 352h0M643 145h0M363 373h0M589 191h0M341 379h0M485 140h0M678 117h0M569 85h0M486 148h0M663 150h0M565 125h0M298 408h0M381 358h0M343 364h0M645 151h0M302 400h0M558 130h0M351 392h0M481 142h0M593 193h0M389 331h0M328 374h0M652 158h0M487 142h0M574 71h0M628 186h0M699 138h0M613 192h0M474 126h0M563 125h0M638 197h0M697 152h0M651 127h0M680 130h0"/>
<path stroke="#690a94" d="M363 361h0M639 191h0M616 191h0M506 165h0M356 389h0M515 173h0M657 162h0M615 189h0M296 414h0M638 148h0M656 182h0M674 142h0M536 88h0M608 195h0M373 363h0M389 334h0M588 136h0M641 149h0M538 88h0M364 379h0M649 148h0M374 385h0M370 359h0M621 185h0M484 142h0M486 144h0M364 375h0M505 162h0M575 190h0M297 405h0M372 385h0M491 150h0M635 145h0M674 137h0M306 418h0M536 80h0M341 400h0M486 143h0M481 145h0M545 141h0M318 404h0M532 153h0M640 153h0M637 190h0M518 170h0M568 124h0M360 402h0M528 153h0M676 141h0M680 141h0M528 164h0M505 165h0M593 193h0M330 384h0M383 346h0M270 384h0M355 395h0M375 345h0M645 349h0M358 377h0M367 373h0M482 150h0M678 128h0M528 160h0M493 158h0M634 148h0M564 56h0M636 150h0M387 358h0M645 144h0M703 132h0M320 388h0M381 345h0M314 400h0M631 150h0M484 147h0M557 55h0M552 137h0M542 145h0M317 409h0M349 361h0M334 384h0M559 53h0M680 117h0M483 140h0M581 75h0M678 133h0M635 194h0M658 155h0M681 139h0M488 157h0M365 364h0M374 347h0M575 76h0M702 134h0M643 149h0M340 394h0M700 129h0M327 394h0M497 166h0M560 54h0M546 102h0M544 144h0M683 127h0M629 191h0M494 165h0M378 345h0M655 184h0M675 140h0M555 57h0M578 69h0M284 394h0M683 147h0M367 359h0M644 172h0M490 159h0M352 383h0M656 156h0M640 175h0M343 376h0M496 164h0M482 143h0M349 381h0M528 156h0M535 153h0M383 336h0M354 391h0M536 89h0M486 149h0M324 409h0M540 147h0M680 147h0M387 340h0M643 196h0M372 364h0M692 144h0M678 140h0M507 170h0M495 162h0M330 408h0M317 386h0M649 203h0M498 169h0M654 139h0M370 362h0M658 145h0M575 82h0M659 152h0M358 377h0M645 200h0M645 198h0M604 195h0M352 402h0M633 192h0M361 418h0M515 183h0M503 157h0M582 72h0M320 395h0M678 146h0M655 145h0M507 167h0M363 362h0M600 197h0M503 166h0M338 402h0M630 152h0M530 179h0M495 151h0M528 158h0M530 160h0M342 404h0M341 386h0M484 152h0"/>
<path stroke="#720d94" d="M492 158h0M687 137h0M367 371h0M346 376h0M363 371h0M551 132h0M360 372h0M617 188h0M306 412h0M628 188h0M651 146h0M645 341h0M366 358h0M383 342h0M360 420h0M693 140h0M329 382h0M641 195h0M656 159h0M509 169h0M649 355h0M377 383h0M557 130h0M650 149h0M326 401h0M303 413h0M643 150h0M620 189h0M642 148h0M385 328h0M537 84h0M569 61h0M365 365h0M373 381h0M384 331h0M548 137h0M304 411h0M681 129h0M362 406h0M345 359h0M656 140h0M534 86h0M531 154h0M563 56h0M676 142h0M572 69h0M527 150h0M321 394h0M644 148h0M337 364h0M676 149h0M501 167h0M697 144h0M367 375h0M348 378h0M591 201h0M324 389h0M656 154h0M552 133h0M498 160h0M696 140h0M369 379h0M510 171h0M633 190h0M533 156h0M300 409h0M586 192h0M346 377h0M342 378h0M328 400h0M310 411h0M336 395h0M545 100h0M370 371h0M367 366h0M330 410h0M529 151h0M550 132h0M301 400h0M361 376h0M649 352h0M658 148h0M574 66h0M345 404h0M538 150h0M701 132h0M625 181h0M624 184h0M295 406h0M382 345h0M477 134h0M590 196h0M512 178h0M651 355h0M537 148h0M632 147h0M662 109h0M339 397h0M646 203h0M313 402h0M377 352h0M641 173h0M510 166h0M342 398h0M349 382h0M311 409h0M389 340h0M673 143h0M683 139h0M685 149h0M535 83h0M362 368h0M287 394h0M572 69h0M315 402h0M644 344h0M596 194h0M562 56h0M483 140h0M645 352h0M387 358h0M598 194h0M556 133h0M271 387h0M381 382h0M290 419h0M683 134h0M657 158h0M378 361h0M300 412h0M373 378h0M379 350h0M536 86h0M296 402h0M496 166h0M678 143h0M323 403h0M484 153h0M501 166h0M636 192h0M553 141h0M356 391h0M298 404h0M569 63h0M378 353h0M567 60h0M694 125h0M657 143h0M298 410h0M340 380h0M630 183h0M298 405h0M326 409h0M676 146h0M313 397h0M568 61h0M342 363h0M654 124h0M649 145h0M351 405h0M581 194h0M488 145h0M685 145h0M682 136h0M570 82h0M373 359h0M653 357h0M349 391h0M343 379h0M343 399h0M334 394h0M484 146h0M372 370h0M369 355h0M310 400h0M377 377h0M311 399h0M668 140h0M339 402h0M488 152h0M372 375h0M624 189h0M349 402h0M340 384h0M347 355h0M511 174h0M642 152h0M332 388h0M661 112h0M353 390h0M378 347h0M690 150h0M345 385h0M655 153h0M536 148h0M632 193h0M560 127h0M608 192h0M561 57h0M695 150h0M623 182h0M643 143h0M535 152h0M695 122h0M690 122h0"/>
<path stroke="#7a1194" d="M642 342h0M660 155h0M544 43h0M565 60h0M512 176h0M560 57h0M539 145h0M534 82h0M530 164h0M534 87h0M500 160h0M532 149h0M645 145h0M556 128h0M689 138h0M652 155h0M694 145h0M518 167h0M590 131h0M501 163h0M669 122h0M524 165h0M692 142h0M489 158h0M637 196h0M486 144h0M503 162h0M685 144h0M636 148h0M547 102h0M661 150h0M654 131h0M537 86h0M534 89h0M547 142h0M559 129h0M660 163h0M688 134h0M691 152h0M583 75h0M655 151h0M637 153h0M680 138h0M490 151h0M660 153h0M573 78h0M559 57h0M694 129h0M628 181h0M654 131h0M683 129h0M672 120h0M556 51h0M511 184h0M551 137h0M687 124h0M477 126h0M486 150h0M538 153h0M659 160h0M530 165h0M685 134h0M653 152h0M529 162h0M642 149h0M537 94h0M588 200h0M652 149h0M659 162h0M525 158h0M564 53h0M574 64h0M553 132h0M637 147h0M675 145h0M581 189h0M679 137h0M538 92h0M485 146h0M635 188h0M592 197h0M588 193h0M550 135h0M489 148h0M591 197h0M559 52h0M532 88h0M492 152h0M686 131h0M652 140h0M493 161h0M527 155h0M707 135h0M541 44h0M637 156h0M680 122h0M482 137h0M577 67h0M499 166h0M589 195h0M490 141h0M483 151h0M579 66h0M694 129h0M540 82h0M576 79h0M656 149h0M537 79h0M670 140h0M674 140h0M485 158h0M478 130h0M486 155h0M647 350h0M579 76h0M688 121h0M486 144h0M640 146h0M681 133h0M539 80h0M513 183h0M485 150h0M670 122h0M649 153h0M614 190h0M653 155h0M532 151h0M583 78h0"/>
<path stroke="#821793" d="M526 165h0M556 48h0M667 123h0M693 131h0M587 196h0M674 139h0M652 146h0M539 152h0M540 148h0M660 163h0M486 143h0M693 123h0M522 164h0M550 137h0M699 140h0M483 149h0M682 136h0M651 127h0M689 136h0M678 114h0M678 135h0M654 133h0M620 184h0M476 136h0M530 154h0M580 78h0M697 136h0M518 166h0M684 136h0M684 138h0M538 83h0M494 154h0M503 165h0M660 148h0M476 133h0M580 191h0M532 84h0M533 154h0M656 162h0M642 198h0M654 357h0M619 187h0M653 147h0M512 175h0M651 126h0M503 160h0M682 145h0M562 60h0M651 358h0"/>
<path stroke="#9b2d8a" d="M614 447h0M612 449h0M616 447h0"/>
<path stroke="#a83a83" d="M630 416h0M634 441h0M626 434h0M632 424h0M640 429h0M625 438h0M628 419h0M634 425h0M633 439h0"/>
<path stroke="#af427f" d="M632 416h0M636 417h0M635 416h0M629 429h0M634 420h0M628 437h0M628 418h0"/>
<path stroke="#b5487b" d="M639 431h0M627 437h0M631 440h0M628 427h0M627 437h0M635 428h0M638 433h0M639 438h0M641 436h0M630 420h0M631 426h0M635 443h0M630 438h0M636 437h0"/>
<path stroke="#bc5077" d="M637 415h0M638 416h0M636 417h0M635 424h0M628 419h0M629 427h0M630 441h0M625 418h0M639 436h0M633 422h0M629 439h0M630 421h0M642 441h0"/>
<path stroke="#c15674" d="M635 426h0M639 441h0"/>
<path stroke="#cc646c" d="M636 380h0M636 411h0M624 414h0M631 386h0"/>
<path stroke="#d16b69" d="M635 375h0M629 385h0M640 378h0M629 390h0M638 400h0M639 380h0M626 396h0M641 381h0M630 382h0M645 380h0M624 410h0M637 404h0M630 384h0M624 399h0M642 382h0M631 378h0M638 410h0M634 401h0M640 397h0M633 375h0M639 376h0M643 397h0M631 398h0"/>
<path stroke="#d67365" d="M637 385h0M634 393h0M639 389h0M634 381h0M628 382h0M646 380h0M636 393h0M640 392h0M636 402h0M636 394h0M636 389h0M640 402h0M640 385h0M629 394h0M641 384h0M633 379h0"/>
<path stroke="#db7962" d="M630 388h0M623 397h0M637 407h0M636 396h0M620 398h0M632 384h0M634 387h0M641 385h0M643 387h0M638 408h0M641 380h0M633 374h0M625 398h0M632 386h0M640 400h0M636 384h0M623 403h0M632 395h0M625 411h0M632 403h0M627 385h0M629 394h0"/>
<path stroke="#df805e" d="M630 382h0M621 403h0M631 380h0M637 413h0M638 390h0M637 395h0M629 410h0M632 399h0M636 398h0M621 400h0M641 405h0M633 387h0M635 407h0M645 382h0M631 392h0M644 389h0M636 391h0M636 404h0"/>
<path stroke="#e3895a" d="M630 408h0M627 413h0M637 387h0M636 386h0M630 405h0M636 389h0M626 408h0M635 390h0M626 402h0M627 407h0"/>
<path stroke="#f3cd43" d="M639 399h0M642 393h0M631 389h0"/>
</g>
<defs><linearGradient id="cb1" x1="0" y1="1" x2="0" y2="0"><stop offset="0.0" stop-color="#0f0a73"/><stop offset="0.1" stop-color="#3c0a88"/><stop offset="0.2" stop-color="#610993"/><stop offset="0.3" stop-color="#821793"/><stop offset="0.4" stop-color="#a23387"/><stop offset="0.5" stop-color="#bc5077"/><stop offset="0.6" stop-color="#d16b69"/><stop offset="0.7" stop-color="#e3895a"/><stop offset="0.8" stop-color="#efa94c"/><stop offset="0.9" stop-color="#f3cd43"/><stop offset="1.0" stop-color="#ecf443"/></linearGradient></defs>
<rect x="154.7" y="684.2" width="40.6" height="134.1" fill="url(#cb1)"/>
<line x1="154.7" y1="687.3" x2="162.2" y2="687.3" stroke="rgba(255,255,255,0.75)" stroke-width="1.3"/>
<line x1="187.8" y1="687.3" x2="195.3" y2="687.3" stroke="rgba(255,255,255,0.75)" stroke-width="1.3"/>
<line x1="154.7" y1="714.2" x2="162.2" y2="714.2" stroke="rgba(255,255,255,0.75)" stroke-width="1.3"/>
<line x1="187.8" y1="714.2" x2="195.3" y2="714.2" stroke="rgba(255,255,255,0.75)" stroke-width="1.3"/>
<line x1="154.7" y1="739.2" x2="162.2" y2="739.2" stroke="rgba(255,255,255,0.75)" stroke-width="1.3"/>
<line x1="187.8" y1="739.2" x2="195.3" y2="739.2" stroke="rgba(255,255,255,0.75)" stroke-width="1.3"/>
<line x1="154.7" y1="764.7" x2="162.2" y2="764.7" stroke="rgba(255,255,255,0.75)" stroke-width="1.3"/>
<line x1="187.8" y1="764.7" x2="195.3" y2="764.7" stroke="rgba(255,255,255,0.75)" stroke-width="1.3"/>
<line x1="154.7" y1="791.2" x2="162.2" y2="791.2" stroke="rgba(255,255,255,0.75)" stroke-width="1.3"/>
<line x1="187.8" y1="791.2" x2="195.3" y2="791.2" stroke="rgba(255,255,255,0.75)" stroke-width="1.3"/>
<line x1="154.7" y1="816.2" x2="162.2" y2="816.2" stroke="rgba(255,255,255,0.75)" stroke-width="1.3"/>
<line x1="187.8" y1="816.2" x2="195.3" y2="816.2" stroke="rgba(255,255,255,0.75)" stroke-width="1.3"/>
<text x="172.0" y="640.7" font-size="25" text-anchor="middle">Tapetum</text>
<text x="172.0" y="670.4" font-size="25" text-anchor="middle">LCM</text>
<text x="201.2" y="698.5" font-size="20">Max</text>
<text x="201.2" y="818.0" font-size="20">Min</text>
<line x1="97.3" y1="921.0" x2="97.3" y2="754.0" stroke="#000" stroke-width="2"/>
<line x1="96.3" y1="921.0" x2="265.0" y2="921.0" stroke="#000" stroke-width="2"/>
<path d="M97.3,740.0 L91.8,755.0 L102.8,755.0 Z" fill="#000"/>
<path d="M279.0,921.0 L264.0,915.5 L264.0,926.5 Z" fill="#000"/>
<text x="130.2" y="949.0" font-size="24.2">UMAP_1</text>
<text x="86.2" y="887.0" font-size="24.2" transform="rotate(-90 86.2 887.0)">UMAP_2</text>
<ellipse cx="450.2" cy="879.9" rx="29.2" ry="54.7" fill="none" stroke="#111" stroke-width="1.8" stroke-dasharray="6 4.5"/>
<ellipse cx="117.3" cy="1292.2" rx="4.33" ry="4.07" fill="#f1e145"/>
<g transform="matrix(0.721 0 0 0.678 -17.9 1043.7)" stroke-width="12" stroke-linecap="round" fill="none">
<path stroke="#280a7f" d="M638 400h0"/>
<path stroke="#330a84" d="M638 433h0M630 420h0M621 403h0M637 407h0M625 411h0M633 379h0M632 386h0M639 436h0M639 380h0M640 397h0M645 380h0M640 429h0M621 400h0M634 381h0M630 382h0M636 411h0M637 387h0M612 449h0M630 408h0M629 439h0M642 342h0M641 381h0M631 380h0M637 404h0M645 349h0M635 443h0M640 392h0M638 416h0"/>
<path stroke="#3c0a88" d="M639 438h0M634 401h0M634 420h0M641 436h0M649 355h0M629 427h0M632 395h0M638 408h0M631 398h0M614 447h0M639 441h0M644 389h0M645 341h0M635 407h0M644 344h0M628 419h0M651 355h0M632 403h0M649 352h0M629 429h0M625 438h0M630 388h0M632 424h0M635 426h0M635 428h0M634 387h0M636 384h0M629 410h0M469 46h0M633 439h0M632 384h0M478 39h0M450 76h0M480 53h0M490 70h0"/>
<path stroke="#460a8c" d="M642 393h0M635 424h0M633 374h0M635 375h0M498 58h0M460 67h0M629 385h0M498 57h0M446 67h0M494 59h0M477 102h0M499 44h0M498 42h0M472 38h0M483 35h0M633 375h0M463 75h0M628 437h0M634 393h0M481 58h0M494 39h0M476 42h0M453 69h0M497 103h0M627 385h0M635 416h0M505 42h0M627 413h0M636 389h0M456 71h0M453 60h0M643 387h0M630 405h0M498 40h0M489 33h0M634 441h0M636 404h0M470 54h0M455 65h0M628 382h0M637 413h0M470 82h0M471 41h0M639 431h0M480 46h0M636 402h0M506 67h0M631 440h0M481 32h0M623 397h0M499 49h0M633 422h0M453 64h0M640 400h0M653 357h0M654 357h0M462 75h0M630 416h0M475 70h0M493 92h0M627 407h0M631 386h0M504 47h0M634 425h0M474 37h0M477 61h0M470 43h0M635 390h0M479 37h0M470 79h0M462 70h0M625 398h0M631 378h0M632 416h0M507 43h0M630 382h0M647 350h0M473 68h0M478 44h0M468 66h0M476 64h0M626 434h0M494 39h0M479 43h0M494 35h0M465 49h0M651 358h0M629 394h0M631 426h0M468 48h0M508 46h0M636 393h0M451 73h0"/>
<path stroke="#4f098f" d="M636 391h0M501 40h0M645 382h0M639 399h0M641 384h0M522 41h0M520 39h0M626 402h0M646 380h0M456 60h0M482 43h0M616 447h0M460 71h0M640 402h0M504 63h0M629 394h0M463 71h0M638 410h0M641 385h0M507 46h0M626 408h0M627 437h0M469 72h0M487 32h0M475 39h0M620 398h0M636 396h0M490 70h0M467 50h0M509 49h0M628 419h0M491 67h0M503 43h0M493 62h0M638 390h0M645 352h0M500 59h0M639 376h0M467 70h0M523 38h0M482 37h0M636 398h0M509 35h0M630 441h0M471 48h0M498 62h0M457 65h0M467 48h0M624 414h0M623 403h0M631 389h0M642 441h0M463 75h0M488 34h0M475 103h0M641 405h0M490 72h0M493 97h0M641 380h0M629 390h0M518 61h0M504 35h0M451 62h0M496 38h0M501 36h0M446 69h0M632 399h0M478 47h0M636 417h0M628 418h0M503 38h0M640 385h0"/>
<path stroke="#570991" d="M625 418h0M637 385h0M639 389h0M502 46h0M628 427h0M473 82h0M642 382h0M630 438h0M631 392h0M474 44h0M497 58h0M480 41h0M626 396h0M498 58h0M636 386h0M627 437h0M512 64h0M496 62h0M637 415h0M490 28h0M453 75h0M453 79h0M633 387h0M506 35h0M643 397h0M624 410h0M455 69h0M636 394h0M636 380h0M497 61h0M630 421h0M508 38h0M505 64h0M468 45h0M500 47h0M624 399h0M466 72h0M495 97h0M473 62h0M512 62h0M465 81h0M636 389h0M470 45h0M636 437h0M491 30h0M630 384h0M640 378h0M637 395h0M636 417h0M510 64h0M508 41h0M448 68h0M454 64h0M463 72h0M508 40h0M490 34h0M502 62h0M467 69h0M466 45h0M499 34h0"/>
<path stroke="#610993" d="M492 64h0M501 41h0M506 38h0M487 35h0M500 41h0M467 73h0M457 70h0M470 68h0M505 36h0M476 102h0M508 64h0M499 103h0M500 28h0M473 46h0M495 59h0M455 74h0M508 37h0M451 70h0M496 60h0M515 62h0M498 29h0M494 37h0M464 47h0M498 33h0M498 37h0M478 59h0M504 33h0M493 36h0M494 39h0M499 52h0M506 44h0M506 36h0M453 75h0M476 47h0M454 77h0M453 75h0M497 34h0"/>
<path stroke="#690a94" d="M516 60h0M453 64h0M468 78h0M500 40h0M494 29h0M478 47h0M473 63h0M468 67h0M497 56h0M494 32h0M459 70h0M501 61h0M491 92h0M481 33h0M496 37h0M493 68h0M451 64h0M500 31h0M495 28h0M478 56h0M502 46h0M495 32h0M467 53h0M475 46h0M466 80h0M465 75h0M507 33h0M491 91h0M504 46h0M496 106h0M499 50h0M486 35h0M494 27h0M492 35h0M498 49h0M475 49h0M496 54h0M498 96h0M477 53h0M500 60h0"/>
<path stroke="#720d94" d="M379 382h0M539 145h0M652 140h0M321 394h0M694 129h0M372 365h0M385 341h0M538 150h0M638 148h0M313 402h0M326 398h0M694 129h0M344 362h0M545 100h0M377 352h0M302 402h0M659 160h0M544 144h0M577 67h0M532 151h0M296 414h0M602 191h0M530 160h0M687 137h0M673 143h0M297 405h0M569 61h0M311 399h0M659 152h0M635 194h0M551 137h0M321 410h0M643 150h0M337 387h0M704 135h0M556 128h0M694 145h0M387 340h0M344 378h0M489 150h0M662 109h0M335 400h0M697 152h0M572 188h0M332 403h0M635 145h0M364 379h0M346 377h0M367 359h0M349 382h0M676 119h0M624 184h0M306 418h0M551 132h0M333 392h0M385 328h0M306 412h0M685 145h0M538 92h0M486 144h0M531 154h0M359 376h0M649 148h0M360 402h0M529 162h0M703 132h0M551 140h0M686 131h0M684 136h0M642 152h0M362 415h0M512 180h0M485 146h0M363 361h0M284 394h0M698 128h0M385 345h0M490 159h0M620 187h0M678 146h0M501 163h0M313 397h0M574 66h0M674 139h0M347 355h0M387 360h0M530 182h0M316 401h0M316 403h0M358 395h0M378 358h0M697 144h0M598 194h0M486 144h0M340 394h0M378 353h0M701 132h0M672 120h0M582 72h0M644 172h0M527 155h0M559 57h0M645 145h0M332 356h0M678 143h0M550 132h0M303 413h0M375 361h0M303 421h0M367 376h0M352 382h0M373 378h0M683 127h0M488 145h0M692 144h0M653 152h0M308 401h0M587 196h0M584 193h0M632 147h0M536 89h0M342 384h0M620 189h0M486 149h0M342 398h0M565 125h0M352 400h0M512 175h0M507 165h0M572 69h0M678 114h0M518 170h0M301 416h0M490 141h0M583 75h0M655 153h0M532 182h0M292 421h0M365 365h0M557 130h0M381 345h0M518 167h0M330 410h0M310 411h0M594 195h0M653 129h0M483 149h0M344 371h0M540 147h0M183 358h0M324 392h0M633 192h0M653 160h0M370 371h0M354 382h0M652 149h0M391 334h0M661 150h0M373 363h0M310 402h0M499 166h0M638 197h0M488 152h0M337 364h0M684 138h0M512 178h0M690 150h0M635 188h0M572 190h0M547 102h0M377 349h0M538 88h0M326 390h0"/>
<path stroke="#7a1194" d="M381 358h0M359 391h0M318 387h0M702 134h0M685 134h0M340 384h0M385 340h0M638 194h0M688 122h0M474 126h0M700 129h0M580 191h0M525 158h0M689 138h0M682 145h0M342 378h0M581 194h0M683 121h0M372 375h0M337 409h0M637 147h0M681 133h0M660 155h0M680 117h0M382 345h0M497 166h0M342 404h0M576 79h0M573 78h0M558 58h0M377 355h0M670 122h0M515 183h0M654 139h0M589 134h0M272 389h0M658 145h0M340 380h0M528 156h0M349 361h0M325 395h0M483 151h0M302 419h0M588 200h0M555 57h0M363 374h0M498 169h0M656 162h0M329 405h0M378 353h0M536 148h0M657 143h0M645 198h0M321 397h0M361 376h0M298 410h0M282 395h0M343 379h0M314 400h0M655 184h0M351 381h0M642 148h0M345 382h0M341 400h0M348 378h0M686 122h0M674 140h0M539 89h0M353 380h0M591 201h0M345 404h0M290 419h0M298 404h0M646 203h0M651 126h0M558 130h0M383 342h0M683 139h0M590 196h0M640 175h0M680 130h0M690 122h0M695 150h0M511 184h0M600 197h0M528 158h0M329 381h0M477 134h0M574 64h0M615 189h0M652 146h0M326 405h0M485 150h0M574 71h0M695 153h0M360 420h0M496 166h0M567 81h0M556 51h0M530 179h0M495 162h0M560 54h0M630 190h0M592 196h0M173 366h0M581 189h0M596 194h0M550 137h0M360 404h0M340 363h0M586 192h0M636 148h0M634 148h0M574 73h0M518 168h0M176 366h0M380 346h0M640 146h0M562 60h0M624 192h0M184 365h0M619 187h0M326 409h0M657 162h0M383 336h0M340 368h0M375 365h0M513 183h0M488 157h0M640 148h0M680 122h0M293 414h0M339 382h0M307 394h0M654 124h0M637 196h0M353 385h0M707 135h0M366 373h0M387 358h0M358 377h0M489 158h0M512 176h0M365 364h0M645 144h0M503 160h0M660 153h0M560 127h0M334 386h0M485 140h0M640 196h0M356 385h0M370 382h0M651 127h0M655 151h0M479 134h0M381 337h0M673 139h0M298 405h0M374 380h0M593 193h0M496 164h0M362 374h0M371 360h0M630 152h0M487 142h0M378 361h0M346 376h0M563 56h0M300 415h0M357 375h0M328 400h0M377 377h0M652 124h0M304 411h0M320 403h0M559 53h0M271 387h0M692 142h0"/>
<path stroke="#821793" d="M345 385h0M326 401h0M345 359h0M328 392h0M538 83h0M536 86h0M509 169h0M586 72h0M320 395h0M643 196h0M311 404h0M537 94h0M678 133h0M656 140h0M372 370h0M660 163h0M370 373h0M373 359h0M487 142h0M568 61h0M683 147h0M678 131h0M651 146h0M320 397h0M351 392h0M184 362h0M308 398h0M682 136h0M536 80h0M348 358h0M318 389h0M591 200h0M339 378h0M685 144h0M604 195h0M650 152h0M312 409h0M384 331h0M537 86h0M353 396h0M650 149h0M317 409h0M389 340h0M608 195h0M687 124h0M320 388h0M308 401h0M314 393h0M643 143h0M345 401h0M569 63h0M341 374h0M341 379h0M699 125h0M369 379h0M686 122h0M670 120h0M537 84h0M556 133h0M382 359h0M590 193h0M656 182h0M657 158h0M375 355h0M588 193h0M530 157h0M566 125h0M368 354h0M553 132h0M564 56h0M372 364h0M338 385h0M339 397h0M375 345h0M358 377h0M511 174h0M541 44h0M684 151h0M522 164h0M655 145h0M323 390h0M484 153h0M371 361h0M370 366h0M357 397h0M533 154h0M676 141h0M629 191h0M575 76h0M381 334h0M335 401h0M342 406h0M682 136h0M314 411h0M539 152h0M656 156h0M305 397h0M639 191h0M508 163h0M699 140h0M349 402h0M345 387h0M654 155h0M178 357h0M681 128h0M474 123h0M624 189h0M362 406h0M520 166h0M321 403h0M653 147h0M681 129h0M626 187h0M645 200h0M548 137h0M649 153h0M373 361h0M516 166h0M591 197h0M529 151h0M688 151h0M485 158h0M532 84h0M300 409h0M328 374h0M625 181h0M493 158h0M375 376h0M367 379h0M270 384h0M674 137h0M621 185h0M358 403h0M669 122h0M544 43h0M387 358h0M318 402h0M318 404h0M324 409h0M498 160h0M374 385h0M366 358h0M623 182h0M297 413h0M563 126h0M486 144h0M642 149h0M593 193h0M636 150h0M518 166h0M332 388h0M580 80h0M613 192h0M641 195h0M490 151h0M375 369h0M180 365h0M486 150h0"/>
<path stroke="#8b1f90" d="M652 155h0M510 166h0M654 133h0M649 145h0M557 55h0M309 415h0M375 369h0M535 83h0M337 399h0M389 331h0M476 136h0M642 198h0M565 63h0M486 143h0M575 190h0M503 166h0M580 78h0M319 393h0M336 406h0M552 133h0M483 140h0M351 405h0M548 136h0M688 121h0M660 148h0M501 160h0M533 156h0M537 79h0M342 363h0M614 190h0M380 349h0M676 142h0M490 153h0M325 407h0M628 188h0M334 360h0M330 408h0M367 375h0M287 394h0M674 142h0M652 145h0M484 147h0M311 397h0M337 398h0M631 187h0M562 56h0M524 165h0M552 137h0M375 350h0M503 165h0M679 137h0M368 375h0M494 165h0M482 143h0M589 191h0M675 145h0M608 192h0M645 151h0M343 399h0M361 418h0M329 377h0M336 395h0M371 356h0M348 376h0M562 55h0M647 200h0M542 145h0M530 164h0M564 53h0M364 375h0M345 398h0M632 193h0M656 159h0M691 152h0M379 350h0M693 140h0M695 122h0M310 400h0M477 126h0M503 162h0M342 378h0M535 152h0M507 170h0M342 371h0M563 125h0M569 85h0M356 389h0M633 190h0M643 145h0M476 133h0M370 359h0M654 131h0M317 386h0M528 153h0M329 375h0M305 395h0M620 184h0M526 165h0M560 128h0M335 402h0M360 372h0M330 384h0M680 147h0M349 391h0M536 88h0M696 140h0M494 154h0M318 407h0M503 157h0M616 191h0M372 385h0M636 192h0M335 405h0M366 376h0M296 404h0M674 143h0M553 141h0M389 334h0M660 163h0M547 142h0M334 404h0M341 366h0M323 403h0M350 396h0M344 380h0M338 402h0M675 140h0M323 394h0M175 362h0M567 60h0M678 117h0M374 347h0M676 146h0M352 402h0M637 190h0M378 347h0M339 397h0M670 140h0M659 110h0M658 155h0M353 390h0M559 52h0M632 149h0M329 379h0M310 411h0M355 395h0M678 143h0M486 155h0M350 386h0M653 155h0M360 366h0M357 373h0M476 130h0M295 416h0M332 400h0M375 382h0M363 373h0M534 86h0M510 171h0M311 409h0M305 423h0M528 160h0M663 150h0M650 160h0M334 399h0M575 80h0M543 46h0M631 150h0M301 400h0M530 165h0M375 352h0M376 378h0M352 383h0M383 346h0M624 187h0M382 329h0M489 148h0M589 191h0M540 148h0M302 400h0M369 355h0M550 135h0M492 152h0M179 360h0M378 361h0M288 417h0"/>
<path stroke="#93258e" d="M667 123h0M307 417h0M532 88h0M681 139h0M367 371h0M355 403h0M640 153h0M327 394h0M387 343h0M575 82h0M371 385h0M334 384h0M676 149h0M534 89h0M538 153h0M339 402h0M361 371h0M535 153h0M378 345h0M574 64h0M481 142h0M492 158h0M642 198h0M482 137h0M641 149h0M319 399h0M603 194h0M617 188h0M699 138h0M537 148h0M515 173h0M367 366h0M699 132h0M381 382h0M676 137h0M693 131h0M481 145h0M495 156h0M579 76h0M364 372h0M331 409h0M697 136h0M295 406h0M539 80h0M482 150h0M315 402h0M558 53h0M343 364h0M668 140h0M685 149h0M589 195h0M306 401h0M338 362h0M682 124h0M581 75h0M329 395h0M377 383h0M637 156h0M493 161h0M542 142h0M579 66h0M370 362h0M327 376h0M380 343h0M331 393h0M590 131h0M312 413h0M320 406h0M313 405h0M375 375h0M546 102h0M680 138h0M501 166h0M356 391h0M307 398h0M354 391h0M570 82h0M641 173h0M651 127h0M315 395h0M341 386h0M661 112h0M568 124h0M652 158h0M501 167h0M509 166h0M506 165h0M630 183h0M500 160h0M583 78h0M495 151h0M349 381h0M540 82h0M334 394h0M484 152h0M385 358h0M640 193h0M528 164h0M691 137h0M532 149h0M311 407h0M578 69h0M486 143h0M561 57h0M678 128h0M383 345h0M362 368h0M659 162h0M373 367h0M360 405h0M689 136h0M381 358h0M484 146h0M300 412h0M478 130h0M300 409h0M683 130h0M311 399h0M347 401h0M296 402h0M351 393h0M581 70h0M367 373h0M507 167h0M349 388h0M628 181h0M637 153h0M302 423h0M505 162h0M648 203h0M322 390h0M484 142h0M556 48h0M687 148h0M643 149h0M654 131h0M518 165h0M530 154h0M483 140h0M658 148h0M588 136h0M545 141h0M608 189h0M656 149h0M678 140h0M298 408h0M656 154h0M641 191h0M649 203h0M527 150h0M693 123h0M572 69h0M311 401h0M329 382h0M363 362h0M565 60h0M560 57h0M371 379h0M683 134h0M658 185h0M486 148h0M343 376h0M688 134h0M331 381h0M363 371h0M532 153h0M628 186h0M328 394h0M330 390h0M324 389h0M678 135h0M644 148h0M515 170h0M680 141h0M505 165h0M592 197h0M491 150h0M373 381h0M651 155h0M694 125h0M559 129h0M335 357h0M677 142h0M534 87h0M534 82h0M683 129h0"/>
</g>
<defs><linearGradient id="cb2" x1="0" y1="1" x2="0" y2="0"><stop offset="0.0" stop-color="#0f0a73"/><stop offset="0.1" stop-color="#3c0a88"/><stop offset="0.2" stop-color="#610993"/><stop offset="0.3" stop-color="#821793"/><stop offset="0.4" stop-color="#a23387"/><stop offset="0.5" stop-color="#bc5077"/><stop offset="0.6" stop-color="#d16b69"/><stop offset="0.7" stop-color="#e3895a"/><stop offset="0.8" stop-color="#efa94c"/><stop offset="0.9" stop-color="#f3cd43"/><stop offset="1.0" stop-color="#ecf443"/></linearGradient></defs>
<rect x="146.9" y="1118.6" width="40.1" height="133.8" fill="url(#cb2)"/>
<line x1="146.9" y1="1121.7" x2="154.4" y2="1121.7" stroke="rgba(255,255,255,0.75)" stroke-width="1.3"/>
<line x1="179.5" y1="1121.7" x2="187.0" y2="1121.7" stroke="rgba(255,255,255,0.75)" stroke-width="1.3"/>
<line x1="146.9" y1="1148.6" x2="154.4" y2="1148.6" stroke="rgba(255,255,255,0.75)" stroke-width="1.3"/>
<line x1="179.5" y1="1148.6" x2="187.0" y2="1148.6" stroke="rgba(255,255,255,0.75)" stroke-width="1.3"/>
<line x1="146.9" y1="1173.6" x2="154.4" y2="1173.6" stroke="rgba(255,255,255,0.75)" stroke-width="1.3"/>
<line x1="179.5" y1="1173.6" x2="187.0" y2="1173.6" stroke="rgba(255,255,255,0.75)" stroke-width="1.3"/>
<line x1="146.9" y1="1199.1" x2="154.4" y2="1199.1" stroke="rgba(255,255,255,0.75)" stroke-width="1.3"/>
<line x1="179.5" y1="1199.1" x2="187.0" y2="1199.1" stroke="rgba(255,255,255,0.75)" stroke-width="1.3"/>
<line x1="146.9" y1="1225.6" x2="154.4" y2="1225.6" stroke="rgba(255,255,255,0.75)" stroke-width="1.3"/>
<line x1="179.5" y1="1225.6" x2="187.0" y2="1225.6" stroke="rgba(255,255,255,0.75)" stroke-width="1.3"/>
<line x1="146.9" y1="1250.6" x2="154.4" y2="1250.6" stroke="rgba(255,255,255,0.75)" stroke-width="1.3"/>
<line x1="179.5" y1="1250.6" x2="187.0" y2="1250.6" stroke="rgba(255,255,255,0.75)" stroke-width="1.3"/>
<text x="164.0" y="1075.6" font-size="25" text-anchor="middle">Meiocyte</text>
<text x="164.0" y="1104.8" font-size="25" text-anchor="middle">LCM</text>
<text x="193.2" y="1134.0" font-size="20">Max</text>
<text x="193.2" y="1252.0" font-size="20">Min</text>
<line x1="89.3" y1="1354.5" x2="89.3" y2="1188.0" stroke="#000" stroke-width="2"/>
<line x1="88.3" y1="1354.5" x2="257.6" y2="1354.5" stroke="#000" stroke-width="2"/>
<path d="M89.3,1174.0 L83.8,1189.0 L94.8,1189.0 Z" fill="#000"/>
<path d="M271.6,1354.5 L256.6,1349.0 L256.6,1360.0 Z" fill="#000"/>
<text x="122.9" y="1383.7" font-size="24.2">UMAP_1</text>
<text x="78.2" y="1321.7" font-size="24.2" transform="rotate(-90 78.2 1321.7)">UMAP_2</text>
<ellipse cx="111.2" cy="1287.8" rx="14.6" ry="14.6" fill="none" stroke="#111" stroke-width="1.8" stroke-dasharray="6 4.5"/>
<g transform="matrix(0.732 0 0 0.67 -27.1 1533.2)" stroke-width="12" stroke-linecap="round" fill="none">
<path stroke="#280a7f" d="M180 365h0"/>
<path stroke="#720d94" d="M631 380h0M629 394h0M637 407h0M621 403h0M620 398h0M636 380h0M633 374h0M640 397h0M637 387h0M641 381h0M633 379h0M636 393h0M639 376h0M625 411h0"/>
<path stroke="#7a1194" d="M629 385h0M640 392h0M633 387h0M630 384h0M642 393h0M631 389h0M644 389h0M632 386h0M636 402h0M638 410h0M641 380h0M624 399h0M634 401h0M638 408h0M626 408h0M636 384h0M630 382h0M638 390h0"/>
<path stroke="#821793" d="M637 395h0M630 382h0M636 386h0M623 403h0M637 413h0M643 397h0M639 389h0M636 404h0M642 382h0M641 384h0M624 410h0M627 407h0M632 395h0M643 387h0M641 385h0M621 400h0M635 375h0M636 389h0M630 405h0M636 398h0"/>
<path stroke="#8b1f90" d="M637 385h0M631 378h0M640 378h0M631 386h0M631 398h0M630 408h0M640 402h0M629 390h0M623 397h0M635 407h0M630 388h0M636 394h0M641 405h0M632 403h0M635 390h0M636 396h0M632 384h0M646 380h0M634 387h0M636 389h0M639 380h0M640 385h0M628 382h0M627 413h0M634 393h0M636 391h0"/>
<path stroke="#93258e" d="M633 375h0M636 411h0M629 394h0M625 398h0M638 400h0M624 414h0M640 400h0M627 385h0M626 396h0M634 381h0M645 380h0M626 402h0M637 404h0M645 382h0M639 399h0M629 410h0M632 399h0M631 392h0"/>
<path stroke="#a23387" d="M629 439h0M635 424h0M636 417h0M641 436h0"/>
<path stroke="#a83a83" d="M635 428h0M631 440h0M636 437h0M628 419h0M642 441h0M627 437h0M633 422h0M629 427h0M640 429h0M632 424h0"/>
<path stroke="#af427f" d="M628 419h0M635 416h0M635 426h0M629 429h0M638 433h0M630 416h0M625 438h0M176 366h0M179 360h0M634 420h0M636 417h0M625 418h0M630 441h0M630 421h0M639 431h0M633 439h0"/>
<path stroke="#b5487b" d="M638 416h0M639 441h0M630 438h0M637 415h0M639 436h0M628 418h0M628 427h0M632 416h0M183 358h0M628 437h0M627 437h0M184 362h0M178 357h0"/>
<path stroke="#bc5077" d="M630 420h0M626 434h0M173 366h0M639 438h0M634 425h0M634 441h0M631 426h0M635 443h0M175 362h0M184 365h0"/>
<path stroke="#d67365" d="M644 344h0M649 355h0M651 358h0M614 447h0M647 350h0M642 342h0M645 341h0M649 352h0M651 355h0M654 357h0M653 357h0M612 449h0M616 447h0M645 352h0M645 349h0M691 137h0M686 122h0M638 148h0M704 135h0M693 123h0M656 156h0M682 136h0M693 140h0M662 109h0M623 182h0M683 139h0M620 184h0M678 140h0M699 140h0M654 131h0M640 193h0M658 185h0M637 153h0M633 192h0M637 156h0M649 153h0M645 198h0M616 191h0M684 136h0M646 203h0M600 197h0M670 120h0M632 147h0M643 149h0M695 153h0M656 182h0M630 183h0M645 144h0M682 145h0M581 189h0M678 114h0M649 203h0M584 193h0M656 149h0M674 139h0M653 160h0"/>
<path stroke="#db7962" d="M685 144h0M630 152h0M608 195h0M692 142h0M551 140h0M658 148h0M655 153h0M560 57h0M693 131h0M484 142h0M669 122h0M486 150h0M676 146h0M621 185h0M659 110h0M688 122h0M505 162h0M696 140h0M579 76h0M658 155h0M476 130h0M510 166h0M538 150h0M537 94h0M552 133h0M548 137h0M639 191h0M654 139h0M567 60h0M655 151h0M568 124h0M640 148h0M537 79h0M575 82h0M539 89h0M697 136h0M503 165h0M543 46h0M576 79h0M624 184h0M540 82h0M559 57h0M559 129h0M674 143h0M572 69h0M563 56h0M657 158h0M635 145h0M580 80h0M683 134h0M589 195h0M524 165h0M532 182h0M651 127h0M551 137h0M479 134h0M530 164h0M586 72h0M486 144h0M624 192h0M528 153h0M588 136h0M547 142h0M533 156h0M641 191h0M652 149h0M501 167h0M642 149h0M642 152h0M620 187h0M483 140h0M678 131h0M640 196h0M518 167h0M574 66h0M635 194h0M484 152h0M490 151h0M652 145h0M673 139h0M645 200h0M680 138h0M539 152h0M573 78h0M562 60h0M624 189h0M482 137h0M651 155h0M575 76h0M680 141h0M539 145h0M631 150h0M695 150h0M556 51h0M681 133h0M578 69h0M542 145h0M661 112h0M557 55h0M575 80h0M501 163h0M545 141h0M568 61h0M544 144h0M593 193h0M486 143h0M547 102h0M272 389h0M656 162h0"/>
<path stroke="#df805e" d="M682 124h0M659 162h0M695 122h0M586 192h0M565 125h0M563 125h0M509 169h0M516 166h0M590 196h0M530 179h0M636 192h0M644 148h0M572 190h0M635 188h0M588 193h0M589 191h0M654 133h0M676 141h0M484 146h0M651 146h0M681 129h0M526 165h0M656 140h0M643 145h0M657 143h0M690 150h0M300 412h0M685 149h0M565 60h0M686 131h0M518 165h0M681 139h0M679 137h0M512 178h0M534 89h0M659 160h0M534 86h0M537 86h0M602 191h0M557 130h0M529 162h0M574 73h0M530 182h0M551 132h0M296 414h0M678 146h0M532 149h0M580 191h0M574 71h0M636 150h0M642 148h0M538 83h0M697 144h0M587 196h0M638 194h0M569 61h0M559 53h0M689 136h0M703 132h0M522 164h0M581 75h0M535 153h0M577 67h0M553 141h0M535 83h0M653 155h0M498 160h0M651 126h0M642 198h0M645 145h0M682 136h0M532 88h0M512 175h0M650 152h0M697 152h0M650 160h0M593 193h0M530 165h0M532 151h0M648 203h0M536 148h0M483 140h0M494 154h0M290 419h0M677 142h0M489 150h0M702 134h0M591 200h0M478 130h0M668 140h0M538 92h0M453 75h0M495 97h0M676 137h0M498 29h0M500 28h0M678 133h0M502 46h0M465 75h0M474 126h0M581 70h0M699 138h0M652 140h0M619 187h0M528 160h0M620 189h0M539 80h0M468 48h0M629 191h0M528 156h0M532 84h0M476 64h0M590 193h0M476 133h0M475 70h0M515 62h0M501 41h0M530 160h0M494 39h0M482 143h0M468 67h0M614 190h0M552 137h0M468 45h0M480 53h0M560 54h0M653 147h0M497 166h0M604 195h0M674 137h0M642 198h0M496 38h0M462 70h0M467 73h0M558 53h0M561 57h0M477 134h0M634 148h0M516 60h0M481 33h0M512 180h0M528 164h0"/>
<path stroke="#e3895a" d="M680 117h0M534 82h0M633 190h0M533 154h0M518 168h0M624 187h0M477 126h0M536 86h0M473 82h0M678 143h0M562 55h0M518 61h0M683 127h0M589 191h0M296 402h0M501 166h0M688 134h0M590 131h0M495 59h0M683 130h0M575 190h0M490 72h0M688 121h0M486 155h0M550 137h0M534 87h0M572 188h0M556 48h0M660 148h0M493 161h0M482 150h0M493 68h0M670 122h0M453 75h0M675 140h0M479 37h0M494 165h0M515 173h0M653 129h0M477 61h0M453 64h0M501 61h0M494 39h0M485 150h0M678 143h0M487 32h0M515 183h0M643 143h0M463 71h0M446 67h0M660 155h0M690 122h0M490 34h0M500 59h0M640 175h0M483 151h0M466 45h0M515 170h0M656 159h0M500 47h0M475 49h0M473 62h0M530 154h0M694 129h0M589 134h0M508 64h0M492 152h0M470 43h0M581 194h0M694 129h0M685 134h0M654 124h0M560 128h0M483 35h0M505 165h0M536 89h0M451 70h0M491 67h0M470 68h0M684 138h0M490 159h0M548 136h0M271 387h0M292 421h0M569 85h0M640 153h0M649 148h0M330 384h0M652 158h0M375 375h0M643 196h0M302 400h0M474 123h0M332 400h0M588 200h0M465 49h0M641 195h0M508 37h0M478 47h0M678 117h0M591 201h0M507 165h0M574 64h0M674 140h0M680 122h0M481 58h0M694 145h0M651 127h0M298 404h0M473 46h0M637 190h0M687 148h0M700 129h0M486 144h0M349 381h0M476 136h0M453 75h0M350 386h0M501 160h0M340 363h0M596 194h0M357 373h0M661 150h0M495 28h0M643 150h0M495 162h0M356 391h0M490 141h0M504 35h0M323 403h0M660 163h0M698 128h0M565 63h0M640 146h0M637 147h0M344 380h0M303 421h0M647 200h0M503 162h0M494 35h0M355 403h0M583 75h0M375 350h0M328 392h0M370 382h0M598 194h0M490 28h0M356 389h0M654 131h0M518 166h0M368 375h0M362 368h0M360 372h0M638 197h0M351 405h0M326 398h0M496 106h0M653 152h0M657 162h0M331 381h0M381 334h0M498 169h0M694 125h0M492 35h0M493 97h0M513 183h0M476 47h0M518 170h0M501 40h0M613 192h0M550 132h0M508 163h0M490 70h0M512 62h0M383 336h0M498 42h0M499 34h0M378 361h0M502 62h0M338 402h0M487 142h0M645 151h0M632 193h0M353 380h0M375 376h0M691 152h0M389 340h0M650 149h0M448 68h0M511 174h0M378 358h0M670 140h0M637 196h0M499 44h0M345 387h0M496 60h0M383 345h0M492 158h0M486 148h0M368 354h0M686 122h0M628 186h0M326 401h0M300 415h0M334 399h0M683 147h0M329 379h0"/>
<path stroke="#e69057" d="M371 379h0M381 358h0M372 370h0M353 385h0M608 189h0M370 366h0M356 385h0M343 379h0M689 138h0M538 88h0M546 102h0M692 144h0M334 394h0M496 54h0M504 47h0M360 404h0M538 153h0M503 160h0M346 376h0M323 394h0M305 395h0M699 125h0M506 36h0M536 80h0M507 43h0M507 167h0M454 77h0M497 34h0M603 194h0M377 352h0M652 124h0M476 102h0M499 103h0M663 150h0M358 377h0M468 78h0M326 405h0M457 65h0M683 121h0M497 61h0M544 43h0M463 72h0M489 148h0M628 181h0M360 366h0M468 66h0M308 401h0M659 152h0M494 59h0M313 402h0M300 409h0M485 158h0M499 50h0M531 154h0M675 145h0M303 413h0M654 155h0M342 363h0M366 373h0M608 192h0M580 78h0M335 357h0M312 409h0M707 135h0M496 164h0M352 400h0M455 74h0M500 60h0M471 48h0M687 124h0M563 126h0M334 384h0M486 149h0M684 151h0M489 158h0M380 343h0M506 67h0M375 369h0M579 66h0M329 377h0M465 81h0M363 371h0M564 56h0M270 384h0M592 197h0M456 60h0M687 137h0M467 48h0M367 373h0M485 146h0M296 404h0M504 46h0M284 394h0M349 391h0M314 393h0M479 43h0M316 401h0M667 123h0M558 130h0M555 57h0M314 400h0M492 64h0M379 382h0M674 142h0M311 397h0M486 143h0M617 188h0M505 36h0M478 44h0M336 406h0M556 128h0M550 135h0M660 153h0M507 33h0M329 382h0M649 145h0M506 44h0M373 381h0M493 92h0M315 395h0M373 378h0M685 145h0M509 166h0M349 388h0M481 142h0M542 142h0M301 400h0M317 409h0M503 166h0M701 132h0M672 120h0M656 154h0M652 146h0M478 39h0M476 42h0M540 148h0M451 73h0M680 147h0M456 71h0M457 70h0M453 79h0M498 49h0M683 129h0M591 197h0M340 380h0M453 69h0M520 166h0M497 58h0M673 143h0M387 343h0M328 394h0M353 396h0M474 37h0M676 142h0M470 79h0M525 158h0M681 128h0M493 158h0M631 187h0M358 377h0M655 184h0M660 163h0M330 410h0M318 389h0M484 153h0M341 400h0M676 149h0M566 125h0M334 386h0M594 195h0M295 406h0M328 400h0M572 69h0M375 361h0M676 119h0M496 166h0M377 349h0M626 187h0M529 151h0M359 376h0M288 417h0M486 35h0M339 397h0M498 37h0M381 337h0M628 188h0M562 56h0M345 398h0M337 364h0M293 414h0M374 347h0M361 371h0M678 128h0M644 172h0M655 145h0M678 135h0M453 64h0M658 145h0M318 387h0M495 151h0M630 190h0M560 127h0M389 334h0M625 181h0M592 196h0M641 149h0M306 418h0M446 69h0M483 149h0M460 67h0M632 149h0M373 361h0M699 132h0M680 130h0M615 189h0M504 33h0M564 53h0M320 397h0"/>
<path stroke="#ea9953" d="M506 165h0M641 173h0M530 157h0M464 47h0M652 155h0M527 150h0M329 381h0M570 82h0M326 409h0M496 62h0M511 184h0M481 145h0M360 420h0M636 148h0M378 353h0M477 53h0M361 376h0M463 75h0M487 142h0M537 148h0M688 151h0M382 345h0M497 56h0M362 374h0M496 37h0M527 155h0M353 390h0M473 63h0M378 347h0M384 331h0M381 358h0M532 153h0M512 64h0M499 166h0M311 409h0M385 328h0M491 150h0M367 366h0M498 62h0M498 57h0M537 84h0M298 410h0M345 382h0M451 62h0M385 345h0M339 378h0M495 32h0M508 40h0M497 103h0M494 27h0M478 47h0M298 405h0M455 69h0M569 63h0M512 176h0M335 400h0M491 91h0M553 132h0M495 156h0M450 76h0M324 389h0M503 157h0M478 59h0M453 60h0M583 78h0M556 133h0M311 401h0M287 394h0M494 39h0M310 400h0M367 379h0M481 32h0M510 171h0M297 405h0M498 58h0M375 355h0M490 153h0M365 364h0M375 365h0M486 144h0M505 42h0M485 140h0M363 361h0M307 394h0M295 416h0M298 408h0M472 38h0M470 54h0M377 383h0M567 81h0M500 160h0M363 374h0M325 395h0M463 75h0M488 145h0M484 147h0M372 375h0M371 360h0M541 44h0M354 382h0M469 72h0M367 371h0M360 402h0M371 385h0M488 152h0M318 402h0M318 407h0M371 356h0M509 49h0M341 366h0M536 88h0M372 364h0M522 41h0M467 70h0M558 58h0M378 353h0M509 35h0M508 38h0M363 373h0M540 147h0M320 403h0M501 36h0M340 384h0M340 394h0M498 40h0M454 64h0M491 30h0M297 413h0M324 409h0M506 38h0M488 157h0M321 397h0M319 399h0M545 100h0M582 72h0M528 158h0M490 70h0M302 419h0M559 52h0M345 404h0M507 170h0M467 50h0M491 92h0M506 35h0M535 152h0M498 33h0M489 33h0M477 102h0M331 409h0M385 340h0M574 64h0M380 349h0M282 395h0M475 46h0M364 375h0M339 397h0M343 364h0M466 72h0M351 381h0M364 379h0M374 385h0M301 416h0M366 376h0M470 45h0M352 382h0M312 413h0M335 405h0"/>
<path stroke="#eda150" d="M324 392h0M377 377h0M505 64h0M328 374h0M482 37h0M467 69h0M327 376h0M382 359h0M307 398h0M500 41h0M370 371h0M508 41h0M378 361h0M319 393h0M339 382h0M370 362h0M502 46h0M471 41h0M308 401h0M350 396h0M507 46h0M482 43h0M382 329h0M311 404h0M504 63h0M385 341h0M325 407h0M510 64h0M487 35h0M323 390h0M310 411h0M372 385h0M508 46h0M494 37h0M503 43h0M475 103h0M375 369h0M499 52h0M318 404h0M309 415h0M361 418h0M305 397h0M363 362h0M473 68h0M494 32h0M470 82h0M341 374h0M503 38h0M387 340h0M306 401h0M314 411h0M480 46h0M498 58h0M302 402h0M462 75h0M311 399h0M342 384h0M349 402h0M493 62h0M338 362h0M345 401h0M378 345h0M316 403h0M357 375h0M455 65h0M499 49h0M313 405h0M469 46h0M466 80h0M338 385h0M498 96h0M383 342h0M387 358h0M364 372h0M494 29h0M367 376h0M354 391h0M475 39h0M300 409h0M451 64h0M342 406h0M334 360h0M337 409h0M369 355h0M362 415h0M337 398h0M302 423h0M335 402h0M321 403h0M345 359h0M342 404h0M349 361h0M375 352h0M335 401h0M389 331h0M330 390h0M366 358h0M349 382h0"/>
<path stroke="#efa94c" d="M336 395h0M310 411h0M327 394h0M332 356h0M329 405h0M365 365h0M381 382h0M322 390h0M367 375h0M307 417h0M341 386h0M332 388h0M391 334h0M360 405h0M342 371h0M370 373h0M321 410h0M355 395h0M311 399h0M340 368h0M359 391h0M320 388h0M347 355h0M342 398h0M381 345h0M329 395h0M385 358h0M317 386h0M308 398h0M373 359h0M320 395h0M329 375h0M313 397h0M351 392h0M341 379h0M371 361h0M333 392h0M373 367h0M344 371h0M348 376h0M330 408h0M337 399h0M334 404h0M362 406h0M320 406h0M376 378h0M373 363h0M304 411h0M339 402h0M377 355h0M310 402h0M375 345h0M383 346h0M358 395h0M331 393h0M311 407h0M343 376h0M315 402h0M380 346h0M337 387h0M357 397h0"/>
<path stroke="#f1b249" d="M332 403h0M342 378h0M370 359h0M379 350h0M347 401h0M305 423h0M321 394h0M358 403h0M342 378h0M306 412h0"/>
<path stroke="#f3c544" d="M467 53h0M493 36h0M480 41h0M500 31h0M474 44h0M520 39h0M523 38h0M488 34h0M460 71h0M459 70h0M500 40h0M478 56h0"/>
<path stroke="#f3cd43" d="M387 360h0M367 359h0M372 365h0M348 358h0M345 385h0M344 362h0M348 378h0M375 382h0M352 402h0M343 399h0M326 390h0M387 358h0M344 378h0M346 377h0M374 380h0M369 379h0M351 393h0M352 383h0"/>
</g>
<defs><linearGradient id="cb3" x1="0" y1="1" x2="0" y2="0"><stop offset="0.0" stop-color="#0f0a73"/><stop offset="0.1" stop-color="#3c0a88"/><stop offset="0.2" stop-color="#610993"/><stop offset="0.3" stop-color="#821793"/><stop offset="0.4" stop-color="#a23387"/><stop offset="0.5" stop-color="#bc5077"/><stop offset="0.6" stop-color="#d16b69"/><stop offset="0.7" stop-color="#e3895a"/><stop offset="0.8" stop-color="#efa94c"/><stop offset="0.9" stop-color="#f3cd43"/><stop offset="1.0" stop-color="#ecf443"/></linearGradient></defs>
<rect x="140.4" y="1608.5" width="39.3" height="133.1" fill="url(#cb3)"/>
<line x1="140.4" y1="1611.6" x2="147.9" y2="1611.6" stroke="rgba(255,255,255,0.75)" stroke-width="1.3"/>
<line x1="172.2" y1="1611.6" x2="179.7" y2="1611.6" stroke="rgba(255,255,255,0.75)" stroke-width="1.3"/>
<line x1="140.4" y1="1638.5" x2="147.9" y2="1638.5" stroke="rgba(255,255,255,0.75)" stroke-width="1.3"/>
<line x1="172.2" y1="1638.5" x2="179.7" y2="1638.5" stroke="rgba(255,255,255,0.75)" stroke-width="1.3"/>
<line x1="140.4" y1="1663.5" x2="147.9" y2="1663.5" stroke="rgba(255,255,255,0.75)" stroke-width="1.3"/>
<line x1="172.2" y1="1663.5" x2="179.7" y2="1663.5" stroke="rgba(255,255,255,0.75)" stroke-width="1.3"/>
<line x1="140.4" y1="1689.0" x2="147.9" y2="1689.0" stroke="rgba(255,255,255,0.75)" stroke-width="1.3"/>
<line x1="172.2" y1="1689.0" x2="179.7" y2="1689.0" stroke="rgba(255,255,255,0.75)" stroke-width="1.3"/>
<line x1="140.4" y1="1715.5" x2="147.9" y2="1715.5" stroke="rgba(255,255,255,0.75)" stroke-width="1.3"/>
<line x1="172.2" y1="1715.5" x2="179.7" y2="1715.5" stroke="rgba(255,255,255,0.75)" stroke-width="1.3"/>
<line x1="140.4" y1="1740.5" x2="147.9" y2="1740.5" stroke="rgba(255,255,255,0.75)" stroke-width="1.3"/>
<line x1="172.2" y1="1740.5" x2="179.7" y2="1740.5" stroke="rgba(255,255,255,0.75)" stroke-width="1.3"/>
<text x="157.0" y="1565.5" font-size="25" text-anchor="middle">Other Somatic</text>
<text x="157.0" y="1594.0" font-size="25" text-anchor="middle">LCM</text>
<text x="185.9" y="1623.0" font-size="20">Max</text>
<text x="185.9" y="1742.7" font-size="20">Min</text>
<line x1="83.1" y1="1844.8" x2="83.1" y2="1677.2" stroke="#000" stroke-width="2"/>
<line x1="82.1" y1="1844.8" x2="250.3" y2="1844.8" stroke="#000" stroke-width="2"/>
<path d="M83.1,1663.2 L77.6,1678.2 L88.6,1678.2 Z" fill="#000"/>
<path d="M264.3,1844.8 L249.3,1839.3 L249.3,1850.3 Z" fill="#000"/>
<text x="115.6" y="1872.8" font-size="24.2">UMAP_1</text>
<text x="71.6" y="1810.9" font-size="24.2" transform="rotate(-90 71.6 1810.9)">UMAP_2</text>
<g transform="matrix(0.721 0 0 0.675 -17.9 1990.5)" stroke-width="12" stroke-linecap="round" fill="none">
<path stroke="#a1ba9e" d="M311 407h0M374 385h0"/>
<path stroke="#c1cbbf" d="M473 46h0M494 37h0M564 56h0M645 151h0M680 147h0M699 140h0M660 148h0M634 393h0"/>
<path stroke="#679762" d="M361 418h0M378 345h0M297 413h0"/>
<path stroke="#a4bba0" d="M330 408h0"/>
<path stroke="#7fa67a" d="M345 385h0"/>
<path stroke="#7ba476" d="M362 406h0M381 334h0M379 350h0M325 407h0M334 404h0M302 419h0"/>
<path stroke="#c4cdc4" d="M472 38h0"/>
<path stroke="#a6bca2" d="M363 374h0"/>
<path stroke="#a7bda4" d="M356 389h0M345 359h0M358 377h0"/>
<path stroke="#bcc8bb" d="M506 44h0M453 75h0M624 192h0"/>
<path stroke="#9bb797" d="M367 366h0M340 394h0M306 401h0M313 402h0M317 386h0M387 343h0M381 358h0"/>
<path stroke="#5f925a" d="M389 340h0M320 406h0"/>
<path stroke="#b4c4b2" d="M522 41h0M487 32h0M478 59h0M493 62h0M453 60h0M448 68h0M508 41h0M500 59h0M504 35h0M486 35h0M504 63h0M446 67h0M493 68h0M481 32h0M466 45h0M469 46h0M477 134h0M528 153h0M560 54h0M501 163h0M509 169h0M518 168h0M535 153h0M547 102h0M568 124h0M503 162h0M555 57h0M536 88h0M526 165h0M655 151h0M658 148h0M700 129h0M635 145h0M184 362h0M636 398h0M636 411h0M635 428h0M633 374h0M624 410h0M638 416h0M640 429h0M630 420h0M625 398h0"/>
<path stroke="#699964" d="M328 374h0M340 380h0"/>
<path stroke="#8bae86" d="M360 372h0M383 346h0M381 358h0"/>
<path stroke="#b5c5b3" d="M504 33h0M477 102h0M502 46h0M512 64h0M495 156h0M486 149h0M528 158h0M536 148h0M579 76h0M533 154h0M684 138h0M681 133h0M656 140h0M688 151h0M641 191h0M640 378h0M629 385h0M646 380h0M630 384h0M629 410h0"/>
<path stroke="#61945c" d="M375 361h0M385 341h0M337 409h0M345 401h0M339 378h0M344 378h0"/>
<path stroke="#77a172" d="M340 368h0"/>
<path stroke="#92b28d" d="M329 382h0M381 337h0M375 350h0M351 393h0M308 401h0"/>
<path stroke="#c0cbbf" d="M498 40h0M499 44h0M460 71h0M480 53h0M574 71h0M496 164h0M530 164h0M661 112h0M670 140h0M663 150h0M697 144h0M653 160h0M596 194h0M178 357h0M628 418h0M636 380h0M628 419h0"/>
<path stroke="#a2ba9e" d="M372 365h0M321 397h0"/>
<path stroke="#84aa7f" d="M357 375h0M324 392h0M374 347h0"/>
<path stroke="#659660" d="M308 401h0M295 406h0M373 361h0M373 381h0M317 409h0"/>
<path stroke="#a8bea6" d="M318 387h0"/>
<path stroke="#c4ccc3" d="M565 60h0M498 169h0M530 157h0M568 61h0M678 117h0M649 145h0M625 181h0M600 197h0M644 344h0M630 382h0M639 399h0M640 400h0M630 438h0"/>
<path stroke="#6a9965" d="M377 349h0M344 380h0M307 417h0M360 405h0M359 391h0M362 415h0M334 384h0"/>
<path stroke="#95b490" d="M367 359h0"/>
<path stroke="#94b390" d="M358 377h0M341 379h0M316 403h0"/>
<path stroke="#c6cdc5" d="M457 65h0M456 71h0M466 72h0M687 124h0M683 130h0M629 394h0"/>
<path stroke="#93b38f" d="M358 403h0M350 396h0M323 394h0"/>
<path stroke="#afc2ad" d="M523 38h0M491 92h0M510 64h0M507 165h0M482 143h0M530 160h0M552 137h0M564 53h0M486 144h0M503 165h0M522 164h0M527 155h0M594 195h0M642 198h0M670 120h0M682 136h0M173 366h0M327 394h0M635 407h0M629 390h0M636 396h0"/>
<path stroke="#b9c7b7" d="M468 78h0M499 52h0M483 35h0M470 43h0M494 39h0M496 54h0M496 37h0M550 135h0M586 72h0M537 79h0M483 140h0M590 131h0M518 170h0M688 134h0M643 196h0M603 194h0M691 137h0M675 140h0M654 131h0M702 134h0M659 152h0M660 163h0M616 191h0M637 196h0M681 128h0M632 149h0M649 148h0M655 153h0M581 194h0M590 196h0"/>
<path stroke="#b2c3af" d="M496 106h0M490 70h0M500 41h0M539 89h0M637 147h0M690 150h0M640 175h0M371 385h0M378 347h0M630 382h0M630 416h0"/>
<path stroke="#c2cbc0" d="M546 102h0M682 145h0M620 398h0"/>
<path stroke="#bcc8ba" d="M475 103h0M495 28h0M496 38h0M508 40h0M488 34h0M477 61h0M470 68h0M451 62h0M500 28h0M581 75h0M538 83h0M490 141h0M486 150h0M563 125h0M496 166h0M508 163h0M629 191h0M640 193h0M641 149h0M660 163h0M658 185h0M602 191h0M628 188h0M652 155h0M657 143h0M674 142h0M651 358h0M645 352h0M632 386h0"/>
<path stroke="#c7cec7" d="M497 103h0M459 70h0M574 64h0M530 165h0M487 142h0M548 136h0M683 134h0M640 153h0M685 145h0M592 196h0M634 401h0M637 387h0"/>
<path stroke="#a5bca2" d="M362 368h0M370 371h0M330 410h0"/>
<path stroke="#64965f" d="M348 378h0"/>
<path stroke="#77a272" d="M282 395h0M343 379h0M303 413h0"/>
<path stroke="#83a97e" d="M348 358h0M378 361h0M342 378h0"/>
<path stroke="#acc0aa" d="M329 381h0"/>
<path stroke="#a1ba9d" d="M375 352h0M338 385h0M296 402h0M356 385h0"/>
<path stroke="#b0c2ae" d="M465 75h0M465 81h0M487 35h0M478 47h0M453 64h0M541 44h0M559 52h0M477 126h0M559 129h0M678 143h0M658 155h0M288 417h0M369 355h0M309 415h0M630 441h0M636 417h0M636 393h0M632 403h0"/>
<path stroke="#8daf88" d="M381 382h0"/>
<path stroke="#85ab80" d="M295 416h0M377 383h0"/>
<path stroke="#b7c5b5" d="M481 33h0M642 382h0"/>
<path stroke="#b6c5b5" d="M491 150h0M640 196h0"/>
<path stroke="#c6cec5" d="M470 79h0M453 75h0M463 75h0M468 48h0M498 57h0M551 140h0M488 145h0M562 56h0M565 63h0M503 157h0M486 143h0M505 165h0M667 123h0M634 148h0M633 190h0M633 192h0M683 121h0M589 195h0"/>
<path stroke="#b6c5b4" d="M479 37h0M501 36h0M498 62h0M506 36h0M479 43h0M505 36h0M475 46h0M454 64h0M451 70h0M520 166h0M486 155h0M575 80h0M488 152h0M532 151h0M569 61h0M485 150h0M512 180h0M532 153h0M690 122h0M652 124h0M678 133h0M693 131h0M678 143h0M643 143h0M658 145h0M608 189h0M632 395h0M632 424h0M631 378h0M632 384h0M639 389h0M629 429h0M636 404h0M641 436h0M636 437h0"/>
<path stroke="#bac7b9" d="M465 49h0M557 55h0M525 158h0M547 142h0M692 144h0M649 355h0M651 355h0"/>
<path stroke="#81a87c" d="M383 342h0M380 349h0"/>
<path stroke="#7aa475" d="M378 358h0M328 392h0"/>
<path stroke="#c4ccc2" d="M534 86h0M637 153h0M628 382h0"/>
<path stroke="#a6bda3" d="M313 405h0M366 373h0"/>
<path stroke="#9cb898" d="M304 411h0"/>
<path stroke="#bfcabe" d="M516 60h0M451 64h0M453 64h0M563 56h0M529 162h0M591 197h0M654 124h0M639 191h0M591 201h0M645 200h0M675 145h0M183 358h0M641 384h0M638 433h0M631 440h0M638 408h0M637 407h0"/>
<path stroke="#9fb99b" d="M368 354h0M363 362h0M306 418h0M349 381h0"/>
<path stroke="#aec1ac" d="M334 386h0M326 405h0M336 395h0"/>
<path stroke="#9db899" d="M325 395h0M327 376h0M345 382h0M348 376h0M314 411h0"/>
<path stroke="#c4cdc3" d="M476 64h0M520 39h0M475 70h0M494 35h0M495 32h0M507 46h0M492 35h0M558 58h0M562 55h0M583 78h0M532 88h0M515 183h0M551 137h0M485 158h0M562 60h0M482 150h0M656 159h0M598 194h0M688 122h0M180 365h0M176 366h0M645 382h0M636 417h0"/>
<path stroke="#98b594" d="M385 340h0M335 400h0"/>
<path stroke="#8fb08a" d="M342 398h0"/>
<path stroke="#a4bca1" d="M339 382h0M332 388h0M335 402h0"/>
<path stroke="#c7cec6" d="M504 47h0M495 59h0M512 62h0M478 39h0M460 67h0M468 66h0M497 58h0M543 46h0M589 134h0M542 145h0M545 141h0M544 43h0M567 60h0M481 142h0M501 160h0M501 166h0M556 133h0M565 125h0M694 145h0M587 196h0M641 195h0M636 150h0M642 152h0M681 139h0M636 148h0M631 187h0M642 198h0M638 148h0M653 357h0M624 414h0"/>
<path stroke="#a7bda3" d="M318 407h0"/>
<path stroke="#b5c4b3" d="M508 46h0M691 152h0"/>
<path stroke="#b7c6b6" d="M491 67h0M628 181h0M656 149h0M588 193h0"/>
<path stroke="#b1c2af" d="M515 62h0"/>
<path stroke="#8caf87" d="M334 394h0M360 366h0M373 378h0"/>
<path stroke="#729f6d" d="M305 397h0M352 382h0M332 400h0"/>
<path stroke="#6d9b68" d="M353 390h0M326 390h0M332 403h0M306 412h0M315 402h0M351 381h0"/>
<path stroke="#75a070" d="M368 375h0M353 385h0M337 399h0M375 345h0"/>
<path stroke="#7ca577" d="M356 391h0M387 340h0M344 362h0M360 402h0M326 409h0M311 399h0M331 393h0"/>
<path stroke="#8caf88" d="M370 382h0"/>
<path stroke="#60935b" d="M363 371h0M366 376h0"/>
<path stroke="#a6bda2" d="M320 403h0"/>
<path stroke="#6f9d6a" d="M375 355h0M354 391h0M323 390h0M311 399h0"/>
<path stroke="#b0c2ad" d="M503 38h0M499 103h0M505 64h0M478 56h0M473 63h0M548 137h0M576 79h0M534 87h0M507 170h0M588 200h0M683 127h0M572 188h0M681 129h0M686 122h0M678 131h0M581 189h0M677 142h0M360 404h0M629 439h0M636 389h0M636 391h0M638 410h0"/>
<path stroke="#bcc9bb" d="M467 50h0M454 77h0M498 42h0M575 82h0M537 84h0M486 144h0M535 152h0M635 188h0M635 375h0"/>
<path stroke="#9ab696" d="M312 413h0M376 378h0M298 405h0M321 394h0M329 405h0"/>
<path stroke="#c5cdc4" d="M497 56h0M453 79h0M490 34h0M474 44h0M507 43h0M482 43h0M490 28h0M506 38h0M498 37h0M455 69h0M503 160h0M515 170h0M476 130h0M485 140h0M540 148h0M563 126h0M581 70h0M483 140h0M532 182h0M484 153h0M540 147h0M559 53h0M573 78h0M490 151h0M501 167h0M676 146h0M655 184h0M694 125h0M656 154h0M628 186h0M580 191h0M670 122h0M674 143h0M644 172h0M647 200h0M682 124h0M683 147h0M640 148h0M645 341h0M636 384h0M631 426h0M644 389h0M638 400h0"/>
<path stroke="#5e9159" d="M373 367h0"/>
<path stroke="#89ad84" d="M370 359h0M302 423h0"/>
<path stroke="#739f6e" d="M330 384h0M385 328h0"/>
<path stroke="#8fb18a" d="M345 387h0M378 353h0M340 363h0M302 400h0"/>
<path stroke="#63955e" d="M322 390h0M370 362h0M360 420h0M310 411h0M363 361h0M296 414h0"/>
<path stroke="#c0cabe" d="M500 60h0M498 58h0M538 92h0M489 148h0M655 145h0M659 110h0M685 144h0M636 192h0M626 434h0M630 405h0M628 419h0"/>
<path stroke="#92b28e" d="M301 416h0M314 400h0"/>
<path stroke="#bbc8b9" d="M497 34h0M468 45h0M507 33h0M463 75h0M556 51h0M479 134h0M551 132h0M558 130h0M531 154h0M680 122h0M640 146h0M572 190h0M678 128h0M642 148h0M637 415h0M639 441h0M630 388h0M636 394h0M642 441h0M634 425h0"/>
<path stroke="#a2bb9f" d="M372 370h0M334 399h0M380 346h0"/>
<path stroke="#b2c3b0" d="M475 39h0M469 72h0M494 39h0M494 39h0M535 83h0M503 166h0M486 144h0M507 167h0M494 154h0M583 75h0M481 145h0M516 166h0M532 149h0M552 133h0M654 133h0M685 149h0M644 148h0M652 149h0M613 192h0M651 146h0M652 146h0M375 382h0M349 388h0M367 376h0M636 386h0"/>
<path stroke="#bdc9bc" d="M471 41h0M473 82h0M509 49h0M478 47h0M493 97h0M539 80h0M569 85h0M698 128h0M624 189h0M653 152h0M593 193h0M695 122h0M652 145h0M615 189h0M637 385h0M631 398h0M612 449h0M627 437h0M633 379h0"/>
<path stroke="#b8c6b7" d="M505 42h0M532 84h0M614 190h0M662 109h0"/>
<path stroke="#9fb99c" d="M342 378h0M324 389h0"/>
<path stroke="#b6c5b3" d="M534 89h0"/>
<path stroke="#5e9259" d="M511 174h0M512 178h0M510 171h0M512 175h0M515 173h0M512 176h0M387 360h0M353 380h0M380 343h0M310 400h0M307 394h0"/>
<path stroke="#7ea679" d="M290 419h0M342 384h0M334 360h0M367 375h0M326 398h0M371 361h0M364 379h0M345 398h0"/>
<path stroke="#bdc9bb" d="M457 70h0M494 27h0M474 37h0M470 45h0M473 62h0M493 161h0M498 160h0M560 57h0M545 100h0M506 165h0M518 166h0M637 190h0M653 129h0M676 141h0M649 153h0M626 187h0M638 194h0M614 447h0M627 437h0M625 418h0M639 376h0M633 422h0"/>
<path stroke="#96b492" d="M341 374h0M346 377h0M345 404h0"/>
<path stroke="#79a374" d="M323 403h0M298 410h0M331 381h0M321 410h0M383 345h0M377 377h0M355 395h0M328 394h0M367 373h0"/>
<path stroke="#c2cbc1" d="M621 185h0M628 427h0"/>
<path stroke="#9cb798" d="M324 409h0M371 356h0M329 395h0"/>
<path stroke="#9eb99a" d="M385 345h0M343 399h0"/>
<path stroke="#6b9a66" d="M332 356h0M375 376h0"/>
<path stroke="#b3c4b1" d="M470 82h0M508 64h0M498 29h0M502 46h0M467 70h0M559 57h0M574 64h0M495 162h0M550 132h0M588 136h0M489 150h0M483 151h0M492 158h0M645 198h0M584 193h0M657 162h0M643 150h0M639 431h0M630 408h0M632 416h0M649 352h0M627 407h0M635 424h0M633 439h0"/>
<path stroke="#aabfa7" d="M303 421h0M336 406h0M338 362h0M385 358h0"/>
<path stroke="#a2bb9e" d="M321 403h0"/>
<path stroke="#9ab695" d="M371 379h0"/>
<path stroke="#6a9a65" d="M342 363h0"/>
<path stroke="#74a06f" d="M312 409h0M329 375h0M374 380h0M335 401h0"/>
<path stroke="#8db088" d="M375 375h0M349 402h0"/>
<path stroke="#749f6f" d="M302 402h0"/>
<path stroke="#b9c7b8" d="M474 126h0M474 123h0M538 88h0M676 149h0M630 183h0M629 427h0"/>
<path stroke="#98b593" d="M300 409h0"/>
<path stroke="#b5c4b2" d="M463 71h0"/>
<path stroke="#9eb89a" d="M298 408h0M319 399h0M342 404h0M378 361h0"/>
<path stroke="#709d6b" d="M364 375h0M339 397h0M375 369h0M370 366h0"/>
<path stroke="#7fa77a" d="M292 421h0M320 395h0"/>
<path stroke="#7aa375" d="M340 384h0"/>
<path stroke="#93b38e" d="M351 405h0"/>
<path stroke="#8aae85" d="M326 401h0M310 411h0M344 371h0"/>
<path stroke="#90b18c" d="M337 398h0M300 415h0"/>
<path stroke="#b3c3b1" d="M625 438h0"/>
<path stroke="#becabd" d="M508 37h0M455 74h0M494 59h0M518 61h0M498 58h0M483 149h0M538 150h0M533 156h0M511 184h0M530 182h0M490 153h0M680 141h0M632 147h0M645 144h0M651 127h0M651 126h0M626 396h0M631 389h0M643 397h0"/>
<path stroke="#6e9c69" d="M318 389h0"/>
<path stroke="#689863" d="M284 394h0M318 404h0M311 401h0M341 400h0"/>
<path stroke="#87ac82" d="M339 397h0M297 405h0M377 355h0M375 365h0"/>
<path stroke="#88ad83" d="M361 371h0M375 369h0"/>
<path stroke="#adc0aa" d="M329 379h0M382 345h0M370 373h0M300 409h0M311 409h0"/>
<path stroke="#b7c6b5" d="M490 72h0M467 53h0M502 62h0M471 48h0M490 70h0M506 67h0M513 183h0M530 179h0M536 89h0M492 152h0M530 154h0M542 142h0M558 53h0M494 165h0M510 166h0M539 145h0M672 120h0M669 122h0M656 182h0M676 137h0M694 129h0M694 129h0M676 142h0M656 156h0M635 390h0M640 385h0M634 381h0M641 381h0M636 389h0"/>
<path stroke="#adc1ab" d="M350 386h0"/>
<path stroke="#b4c4b1" d="M492 64h0M476 136h0M484 146h0M673 139h0M699 132h0M637 413h0"/>
<path stroke="#9db89a" d="M270 384h0"/>
<path stroke="#bec9bc" d="M476 102h0M456 60h0M499 166h0M500 160h0M624 184h0M687 137h0M685 134h0M657 158h0M608 195h0M626 408h0"/>
<path stroke="#c5cdc5" d="M504 46h0M480 46h0M467 73h0M529 151h0M683 129h0"/>
<path stroke="#abbfa8" d="M387 358h0M314 393h0M358 395h0"/>
<path stroke="#c3ccc2" d="M476 47h0M462 70h0M478 44h0M482 37h0M466 80h0M497 61h0M487 142h0M553 132h0M537 86h0M567 81h0M537 94h0M577 67h0M572 69h0M556 128h0M693 140h0M631 150h0M699 138h0M617 188h0M678 114h0M680 117h0M707 135h0M592 197h0M697 136h0M683 139h0M654 155h0M623 182h0M633 375h0M642 393h0"/>
<path stroke="#b3c3b0" d="M462 75h0M509 166h0M518 165h0M686 131h0M620 189h0M689 136h0M627 385h0"/>
<path stroke="#86ab81" d="M343 376h0M359 376h0"/>
<path stroke="#a8bea5" d="M379 382h0M364 372h0M320 397h0"/>
<path stroke="#99b695" d="M383 336h0M363 373h0M369 379h0"/>
<path stroke="#7da578" d="M347 401h0M351 392h0M355 403h0"/>
<path stroke="#82a97d" d="M316 401h0M342 406h0"/>
<path stroke="#78a273" d="M343 364h0M305 423h0M318 402h0"/>
<path stroke="#95b491" d="M357 397h0"/>
<path stroke="#80a77b" d="M389 334h0M271 387h0M372 364h0"/>
<path stroke="#729e6d" d="M335 357h0"/>
<path stroke="#93b28e" d="M296 404h0"/>
<path stroke="#669761" d="M346 376h0M372 385h0M329 377h0M353 396h0"/>
<path stroke="#bbc8ba" d="M498 33h0M453 75h0M544 144h0M673 143h0M695 153h0M682 136h0M653 155h0M593 193h0M647 350h0M631 380h0M641 380h0"/>
<path stroke="#bfcabd" d="M500 31h0M503 43h0M464 47h0M501 40h0M489 33h0M557 130h0M518 167h0M553 141h0M695 150h0M641 173h0M697 152h0M630 152h0M591 200h0M699 125h0M620 184h0M693 123h0M619 187h0M623 403h0M626 402h0M625 411h0"/>
<path stroke="#afc1ac" d="M354 382h0M378 353h0"/>
<path stroke="#c6cec6" d="M538 153h0M637 156h0M634 387h0M623 397h0M641 385h0"/>
<path stroke="#62945d" d="M328 400h0M330 390h0M362 374h0"/>
<path stroke="#bec9bd" d="M463 72h0M582 72h0M566 125h0M574 73h0M484 147h0M661 150h0M679 137h0M175 362h0M634 420h0"/>
<path stroke="#8eb089" d="M311 397h0M352 383h0"/>
<path stroke="#c0cabf" d="M477 53h0M451 73h0M496 62h0M674 137h0M674 139h0M645 349h0M624 399h0M637 395h0"/>
<path stroke="#b1c2ae" d="M491 30h0M470 54h0M446 69h0M500 40h0M539 152h0M643 145h0M653 147h0M319 393h0M347 355h0M640 397h0M645 380h0"/>
<path stroke="#5d9158" d="M300 412h0M389 331h0M381 345h0M293 414h0M331 409h0"/>
<path stroke="#bac7b8" d="M493 36h0M450 76h0M574 66h0M575 76h0M482 137h0M569 63h0M534 82h0M528 160h0M659 160h0M620 187h0M651 127h0M650 160h0M703 132h0M678 146h0M640 402h0M643 387h0M633 387h0M638 390h0M621 403h0M636 402h0"/>
<path stroke="#679862" d="M349 361h0M313 397h0"/>
<path stroke="#b8c6b6" d="M480 41h0M506 35h0M453 69h0M494 29h0M509 35h0M499 34h0M501 41h0M501 61h0M528 164h0M560 128h0M484 152h0M540 82h0M527 150h0M493 158h0M572 69h0M476 133h0M495 151h0M537 148h0M575 190h0M635 194h0M652 158h0M651 155h0M654 131h0M687 148h0M604 195h0M589 191h0M649 203h0M680 138h0M643 149h0M652 140h0M678 140h0M632 193h0M589 191h0M640 392h0M634 441h0M654 357h0M616 447h0M629 394h0M632 399h0"/>
<path stroke="#b1c3af" d="M494 32h0M455 65h0M508 38h0M498 49h0M499 50h0M476 42h0M468 67h0M536 80h0M578 69h0M485 146h0M556 48h0M490 159h0M497 166h0M550 137h0M579 66h0M478 130h0M660 155h0M678 135h0M684 151h0M692 142h0M650 149h0M630 190h0M674 140h0M689 138h0M660 153h0M184 365h0M365 364h0M373 359h0M382 329h0M377 352h0M287 394h0M337 364h0M333 392h0M630 421h0M639 436h0M628 437h0M621 400h0M641 405h0M639 380h0"/>
<path stroke="#6c9b67" d="M357 373h0"/>
<path stroke="#a3bba0" d="M373 363h0M352 400h0"/>
<path stroke="#c3ccc1" d="M495 97h0M489 158h0M684 136h0"/>
<path stroke="#b8c7b7" d="M498 96h0M648 203h0"/>
<path stroke="#a0ba9d" d="M366 358h0M311 404h0"/>
<path stroke="#94b38f" d="M298 404h0"/>
<path stroke="#aec1ab" d="M341 366h0M310 402h0M387 358h0M335 405h0M349 391h0M301 400h0"/>
<path stroke="#85aa80" d="M371 360h0"/>
<path stroke="#97b593" d="M308 398h0M342 371h0M352 402h0M338 402h0M320 388h0M272 389h0"/>
<path stroke="#c2ccc1" d="M467 69h0M580 78h0M570 82h0M561 57h0M505 162h0M560 127h0M704 135h0M650 152h0M590 193h0M688 121h0M676 119h0M686 122h0M642 149h0M645 145h0M638 197h0M631 392h0M642 342h0M635 426h0"/>
<path stroke="#64955f" d="M361 376h0"/>
<path stroke="#88ac83" d="M372 375h0"/>
<path stroke="#abc0a8" d="M384 331h0"/>
<path stroke="#719e6c" d="M305 395h0M367 379h0M391 334h0M341 386h0"/>
<path stroke="#bac8b9" d="M496 60h0M486 148h0M488 157h0M654 139h0M656 162h0M624 187h0"/>
<path stroke="#90b18b" d="M339 402h0"/>
<path stroke="#a9bea6" d="M367 371h0M337 387h0"/>
<path stroke="#76a171" d="M315 395h0M382 359h0M349 382h0M307 398h0M365 365h0"/>
<path stroke="#c1cbc0" d="M493 92h0M500 47h0M473 68h0M491 91h0M499 49h0M467 48h0M475 49h0M481 58h0M524 165h0M580 80h0M536 86h0M484 142h0M486 143h0M528 156h0M586 192h0M646 203h0M659 162h0M701 132h0M680 130h0M608 192h0M696 140h0M668 140h0M179 360h0M637 404h0M627 413h0M639 438h0M631 386h0M635 416h0M635 443h0"/>
</g>
<ellipse cx="350.5" cy="2108.6" rx="4.33" ry="4.05" fill="#64955f"/>
<defs><linearGradient id="cb4" x1="0" y1="1" x2="0" y2="0"><stop offset="0.0" stop-color="#d2d4d2"/><stop offset="0.1" stop-color="#c0cbbf"/><stop offset="0.2" stop-color="#afc2ac"/><stop offset="0.3" stop-color="#9eb89a"/><stop offset="0.4" stop-color="#8caf87"/><stop offset="0.5" stop-color="#7aa375"/><stop offset="0.6" stop-color="#679862"/><stop offset="0.7" stop-color="#558c50"/><stop offset="0.8" stop-color="#488046"/><stop offset="0.9" stop-color="#3a753c"/><stop offset="1.0" stop-color="#2d6932"/></linearGradient></defs>
<rect x="148.7" y="2060.4" width="38.3" height="138.5" fill="url(#cb4)"/>
<line x1="148.7" y1="2069.5" x2="156.2" y2="2069.5" stroke="rgba(255,255,255,0.75)" stroke-width="1.3"/>
<line x1="179.5" y1="2069.5" x2="187.0" y2="2069.5" stroke="rgba(255,255,255,0.75)" stroke-width="1.3"/>
<line x1="148.7" y1="2096.3" x2="156.2" y2="2096.3" stroke="rgba(255,255,255,0.75)" stroke-width="1.3"/>
<line x1="179.5" y1="2096.3" x2="187.0" y2="2096.3" stroke="rgba(255,255,255,0.75)" stroke-width="1.3"/>
<line x1="148.7" y1="2122.8" x2="156.2" y2="2122.8" stroke="rgba(255,255,255,0.75)" stroke-width="1.3"/>
<line x1="179.5" y1="2122.8" x2="187.0" y2="2122.8" stroke="rgba(255,255,255,0.75)" stroke-width="1.3"/>
<line x1="148.7" y1="2149.9" x2="156.2" y2="2149.9" stroke="rgba(255,255,255,0.75)" stroke-width="1.3"/>
<line x1="179.5" y1="2149.9" x2="187.0" y2="2149.9" stroke="rgba(255,255,255,0.75)" stroke-width="1.3"/>
<line x1="148.7" y1="2176.5" x2="156.2" y2="2176.5" stroke="rgba(255,255,255,0.75)" stroke-width="1.3"/>
<line x1="179.5" y1="2176.5" x2="187.0" y2="2176.5" stroke="rgba(255,255,255,0.75)" stroke-width="1.3"/>
<text x="166.0" y="2017.7" font-size="25" text-anchor="middle">Endothecium</text>
<text x="166.0" y="2046.9" font-size="25" text-anchor="middle">% PT</text>
<text x="195.2" y="2075.0" font-size="20">25</text>
<text x="195.2" y="2127.8" font-size="20">15</text>
<text x="195.2" y="2181.8" font-size="20">5</text>
<line x1="91.1" y1="2302.0" x2="91.1" y2="2134.5" stroke="#000" stroke-width="2"/>
<line x1="90.1" y1="2302.0" x2="257.6" y2="2302.0" stroke="#000" stroke-width="2"/>
<path d="M91.1,2120.5 L85.6,2135.5 L96.6,2135.5 Z" fill="#000"/>
<path d="M271.6,2302.0 L256.6,2296.5 L256.6,2307.5 Z" fill="#000"/>
<text x="124.0" y="2330.1" font-size="24.2">UMAP_1</text>
<text x="78.9" y="2268.2" font-size="24.2" transform="rotate(-90 78.9 2268.2)">UMAP_2</text>
<ellipse cx="227.7" cy="2244.5" rx="63.0" ry="38.0" fill="none" stroke="#111" stroke-width="1.8" stroke-dasharray="6 4.5" transform="rotate(-43 227.7 2244.5)"/>
<line x1="672.5" y1="602.9" x2="1527.0" y2="602.9" stroke="#555" stroke-width="2"/>
<text x="1116.0" y="588.1" font-size="29.8" text-anchor="middle">Tapetum (TAP)</text>
<line x1="1092.1" y1="633.0" x2="1092.1" y2="945.0" stroke="#2a2a2a" stroke-width="2"/>
<text x="891.0" y="635.7" font-size="24.6" text-anchor="middle"><tspan font-style="italic">bHLH51</tspan></text>
<text x="1307.7" y="635.7" font-size="24.6" text-anchor="middle"><tspan font-style="italic">ms8</tspan></text>
<defs><linearGradient id="cb5" x1="0" y1="1" x2="0" y2="0"><stop offset="0.0" stop-color="#3d074a"/><stop offset="0.1" stop-color="#442063"/><stop offset="0.2" stop-color="#453775"/><stop offset="0.3" stop-color="#3f5281"/><stop offset="0.4" stop-color="#396484"/><stop offset="0.5" stop-color="#347487"/><stop offset="0.6" stop-color="#308587"/><stop offset="0.7" stop-color="#2e9586"/><stop offset="0.8" stop-color="#3fab7e"/><stop offset="0.9" stop-color="#5cbc72"/><stop offset="1.0" stop-color="#82ca61"/></linearGradient></defs>
<rect x="728.4" y="664.3" width="45.6" height="137.2" fill="url(#cb5)"/>
<line x1="728.4" y1="701.9" x2="735.9" y2="701.9" stroke="rgba(255,255,255,0.75)" stroke-width="1.3"/>
<line x1="766.5" y1="701.9" x2="774.0" y2="701.9" stroke="rgba(255,255,255,0.75)" stroke-width="1.3"/>
<line x1="728.4" y1="753.9" x2="735.9" y2="753.9" stroke="rgba(255,255,255,0.75)" stroke-width="1.3"/>
<line x1="766.5" y1="753.9" x2="774.0" y2="753.9" stroke="rgba(255,255,255,0.75)" stroke-width="1.3"/>
<text x="748.0" y="653.8" font-size="25" text-anchor="middle">Expression</text>
<text x="778.9" y="677.6" font-size="20">Max</text>
<text x="779.2" y="799.9" font-size="20">Min</text>
<line x1="672.3" y1="946.7" x2="672.3" y2="779.0" stroke="#000" stroke-width="2"/>
<line x1="671.3" y1="946.7" x2="840.0" y2="946.7" stroke="#000" stroke-width="2"/>
<path d="M672.3,765.0 L666.8,780.0 L677.8,780.0 Z" fill="#000"/>
<path d="M854.0,946.7 L839.0,941.2 L839.0,952.2 Z" fill="#000"/>
<text x="705.1" y="975.6" font-size="24.2">UMAP_1</text>
<text x="660.1" y="913.5" font-size="24.2" transform="rotate(-90 660.1 913.5)">UMAP_2</text>
<g transform="matrix(0.689 0 0 0.671 570.6 637.1)" stroke-width="11.8" stroke-linecap="round" fill="none">
<path stroke="#d3d3d3" d="M522 41h0M493 92h0M497 103h0M504 33h0M508 37h0M500 47h0M479 37h0M465 49h0M476 47h0M493 36h0M478 59h0M508 64h0M453 60h0M448 68h0M480 41h0M498 40h0M465 75h0M468 78h0M495 97h0M491 67h0M500 31h0M491 30h0M494 32h0M497 34h0M506 35h0M501 36h0M508 41h0M503 38h0M504 47h0M503 43h0M499 52h0M499 44h0M483 35h0M490 34h0M475 39h0M468 45h0M474 44h0M471 48h0M477 53h0M478 44h0M496 38h0M476 64h0M467 69h0M469 72h0M498 62h0M495 59h0M500 59h0M512 62h0M451 64h0M455 65h0M453 69h0M451 73h0M455 74h0M463 72h0M543 46h0M556 51h0M558 58h0M565 60h0M582 72h0M580 78h0M570 82h0M536 80h0M474 126h0M477 134h0M482 137h0M483 149h0M493 161h0M507 165h0M513 183h0M520 166h0M528 164h0M528 153h0M538 150h0M530 179h0M548 137h0M553 132h0M566 125h0M551 140h0M495 156h0M503 160h0M486 155h0M542 145h0M557 55h0M560 54h0M561 57h0M569 63h0M578 69h0M574 71h0M581 75h0M575 80h0M535 83h0M537 86h0M536 89h0M476 130h0M485 140h0M482 143h0M488 145h0M485 146h0M486 149h0M492 152h0M488 152h0M484 152h0M496 164h0M498 160h0M489 158h0M503 166h0M501 163h0M509 169h0M505 162h0M512 178h0M524 165h0M518 168h0M528 158h0M530 160h0M532 151h0M530 154h0M535 153h0M540 148h0M550 135h0M545 141h0M557 130h0M563 126h0M661 112h0M667 123h0M652 124h0M654 133h0M678 133h0M631 150h0M643 145h0M661 150h0M659 160h0M641 173h0M628 181h0M655 184h0M637 190h0M643 196h0M614 190h0M603 194h0M588 200h0M629 191h0M635 194h0M645 198h0M646 203h0M659 162h0M594 195h0M620 187h0M637 147h0M637 153h0M645 151h0M655 145h0M672 120h0M680 122h0M687 124h0M694 125h0M653 129h0M654 139h0M699 138h0M701 132h0M683 134h0M680 130h0M674 137h0M679 137h0M691 137h0M686 131h0M693 131h0M684 138h0M680 147h0M673 143h0M678 143h0M690 150h0M682 145h0M694 145h0M634 148h0M640 146h0M644 148h0M649 145h0M655 151h0M651 155h0M652 149h0M660 155h0M656 154h0M658 148h0M656 159h0M628 186h0M624 184h0M640 193h0M633 190h0M608 192h0M617 188h0M598 194h0M580 191h0M587 196h0M590 193h0M591 197h0M624 189h0M640 196h0M675 140h0M641 149h0M384 331h0M389 334h0M383 342h0M375 352h0M387 360h0M372 365h0M335 357h0M348 358h0M328 374h0M339 382h0M370 382h0M353 390h0M358 403h0M339 397h0M271 387h0M284 394h0M328 400h0M372 375h0M303 421h0M308 401h0M356 391h0M360 404h0M361 418h0M315 395h0M362 368h0M300 412h0M313 405h0M330 390h0M378 345h0M312 413h0M347 401h0M353 380h0M383 336h0M387 340h0M380 343h0M380 349h0M371 356h0M377 355h0M377 349h0M382 359h0M370 362h0M365 364h0M373 359h0M372 370h0M367 366h0M375 361h0M338 362h0M344 362h0M342 371h0M329 379h0M341 379h0M344 380h0M348 378h0M342 384h0M334 386h0M361 376h0M360 372h0M367 379h0M368 375h0M363 371h0M375 382h0M376 378h0M371 379h0M349 388h0M350 396h0M353 385h0M357 397h0M352 402h0M334 399h0M334 394h0M338 402h0M343 399h0M325 395h0M319 393h0M326 390h0M311 397h0M310 402h0M302 402h0M298 408h0M329 395h0M326 405h0M332 403h0M367 371h0M295 416h0M301 416h0M307 417h0M319 399h0M318 404h0M314 400h0M349 382h0M306 412h0M312 409h0M318 407h0M330 408h0M342 404h0"/>
<path stroke="#347487" d="M630 441h0M640 392h0M639 389h0M640 397h0M627 385h0M624 410h0M629 439h0M629 390h0M642 393h0M630 384h0M641 385h0M624 414h0M633 422h0M629 427h0"/>
<path stroke="#2f9b84" d="M635 426h0M628 427h0M641 436h0"/>
<path stroke="#47b17a" d="M630 438h0"/>
<path stroke="#3f5281" d="M635 375h0M637 385h0M636 380h0M627 407h0M639 376h0M641 380h0"/>
<path stroke="#43457c" d="M630 382h0M636 389h0M632 399h0M632 403h0M636 402h0M637 413h0M628 419h0"/>
<path stroke="#317f87" d="M637 415h0M614 447h0M626 434h0M638 390h0M631 386h0M636 389h0M624 399h0M621 403h0M625 411h0M629 410h0M635 443h0"/>
<path stroke="#308587" d="M640 402h0M638 416h0M642 441h0M612 449h0M631 380h0M630 416h0"/>
<path stroke="#45286a" d="M475 103h0M508 46h0M471 41h0M467 53h0M462 70h0M574 66h0M575 76h0M546 102h0M704 135h0M676 146h0M698 128h0M652 158h0M175 362h0M180 365h0M184 362h0M176 366h0M651 358h0M629 385h0M623 403h0M653 357h0M646 380h0M621 400h0M641 405h0M645 349h0M626 402h0M635 416h0M638 410h0M628 419h0"/>
<path stroke="#52b776" d="M625 438h0"/>
<path stroke="#376985" d="M636 398h0M634 401h0M636 404h0M636 393h0M630 405h0"/>
<path stroke="#443d79" d="M560 128h0M589 134h0M645 382h0M636 394h0M632 416h0M631 398h0M636 391h0"/>
<path stroke="#453775" d="M489 148h0M499 166h0M515 170h0M628 382h0M630 388h0M636 411h0M630 421h0M639 399h0M630 420h0"/>
<path stroke="#38a680" d="M586 192h0M627 437h0"/>
<path stroke="#3d5882" d="M631 378h0M632 384h0M637 404h0M633 374h0M636 417h0M637 387h0M637 407h0"/>
<path stroke="#453070" d="M493 62h0M564 56h0M534 86h0M487 142h0M533 156h0M632 424h0M640 378h0M641 384h0M634 387h0M639 380h0M644 389h0M636 386h0"/>
<path stroke="#337987" d="M632 395h0M643 387h0M626 396h0M634 420h0M639 436h0M633 387h0M633 379h0M632 386h0M642 382h0M634 425h0"/>
<path stroke="#442063" d="M470 82h0M490 72h0M502 62h0M516 60h0M511 174h0M678 117h0M690 122h0M695 150h0M650 152h0M680 141h0M183 358h0M184 365h0M179 360h0M343 376h0M358 377h0M364 375h0M379 382h0M308 398h0M336 406h0M649 355h0M645 341h0M649 352h0M645 352h0M640 400h0"/>
<path stroke="#356f86" d="M639 441h0M635 407h0M631 392h0M636 384h0M640 385h0M631 440h0M634 381h0M641 381h0M625 398h0"/>
<path stroke="#32a083" d="M640 429h0M639 438h0M616 447h0"/>
<path stroke="#414b7f" d="M628 418h0M630 382h0M631 389h0"/>
<path stroke="#3b5d83" d="M626 408h0M630 408h0M635 428h0M634 441h0M633 375h0M623 397h0M635 424h0M625 418h0M638 400h0M636 417h0"/>
<path stroke="#5cbc72" d="M638 433h0"/>
<path stroke="#400f53" d="M473 68h0M497 56h0M453 79h0M539 80h0M688 134h0M683 127h0M670 140h0M297 405h0M290 419h0M378 358h0M330 384h0M324 409h0"/>
<path stroke="#43175b" d="M495 28h0M487 32h0M457 70h0M538 92h0M685 149h0M693 140h0M575 190h0M178 357h0M173 366h0M385 345h0M367 359h0M341 366h0M322 390h0M296 404h0M323 403h0M339 397h0M345 385h0M305 395h0M318 389h0M644 344h0M647 350h0M642 342h0M651 355h0M654 357h0"/>
<path stroke="#396484" d="M620 398h0M635 390h0M627 413h0M628 437h0M645 380h0M629 394h0M638 408h0M634 393h0M637 395h0M629 394h0M643 397h0"/>
<path stroke="#2f8a87" d="M639 431h0M631 426h0M627 437h0M636 396h0"/>
<path stroke="#3fab7e" d="M629 429h0M633 439h0"/>
<path stroke="#2e9586" d="M636 437h0"/>
</g>
<g transform="matrix(0.731 0 0 0.68 977.2 632.7)" stroke-width="11.8" stroke-linecap="round" fill="none">
<path stroke="#d3d3d3" d="M522 41h0M470 82h0M475 103h0M493 92h0M497 103h0M490 72h0M495 28h0M504 33h0M508 37h0M500 47h0M479 37h0M471 41h0M467 53h0M476 47h0M493 36h0M478 59h0M473 68h0M493 62h0M497 56h0M453 60h0M453 79h0M498 40h0M468 78h0M495 97h0M491 67h0M500 31h0M491 30h0M494 32h0M497 34h0M506 35h0M501 36h0M508 41h0M503 38h0M504 47h0M503 43h0M499 52h0M499 44h0M483 35h0M490 34h0M475 39h0M468 45h0M474 44h0M471 48h0M477 53h0M478 44h0M496 38h0M476 64h0M467 69h0M469 72h0M498 62h0M495 59h0M500 59h0M512 62h0M451 64h0M455 65h0M453 69h0M451 73h0M455 74h0M463 72h0M564 56h0M574 66h0M582 72h0M575 76h0M534 86h0M538 92h0M546 102h0M474 126h0M482 137h0M487 142h0M489 148h0M483 149h0M511 174h0M513 183h0M520 166h0M528 164h0M528 153h0M538 150h0M553 132h0M560 128h0M566 125h0M551 140h0M589 134h0M495 156h0M486 155h0M542 145h0M557 55h0M560 54h0M561 57h0M569 63h0M578 69h0M574 71h0M581 75h0M575 80h0M535 83h0M537 86h0M536 89h0M476 130h0M485 140h0M482 143h0M488 145h0M485 146h0M486 149h0M492 152h0M488 152h0M484 152h0M496 164h0M498 160h0M489 158h0M503 166h0M501 163h0M509 169h0M505 162h0M512 178h0M524 165h0M518 168h0M528 158h0M530 160h0M532 151h0M530 154h0M535 153h0M540 148h0M550 135h0M545 141h0M557 130h0M563 126h0M661 112h0M678 117h0M667 123h0M690 122h0M652 124h0M654 133h0M704 135h0M676 146h0M685 149h0M695 150h0M631 150h0M643 145h0M650 152h0M661 150h0M659 160h0M641 173h0M628 181h0M655 184h0M637 190h0M643 196h0M614 190h0M603 194h0M586 192h0M575 190h0M588 200h0M629 191h0M646 203h0M659 162h0M683 127h0M698 128h0M680 141h0M645 151h0M652 158h0M655 145h0M672 120h0M680 122h0M687 124h0M694 125h0M653 129h0M654 139h0M699 138h0M701 132h0M683 134h0M680 130h0M674 137h0M679 137h0M691 137h0M686 131h0M693 131h0M684 138h0M680 147h0M673 143h0M678 143h0M690 150h0M682 145h0M694 145h0M634 148h0M640 146h0M644 148h0M649 145h0M655 151h0M651 155h0M652 149h0M660 155h0M656 154h0M658 148h0M656 159h0M628 186h0M624 184h0M640 193h0M633 190h0M608 192h0M617 188h0M598 194h0M580 191h0M587 196h0M590 193h0M591 197h0M624 189h0M640 196h0M675 140h0M641 149h0M389 334h0M383 342h0M385 345h0M387 360h0M367 359h0M372 365h0M348 358h0M328 374h0M343 376h0M339 382h0M358 377h0M370 382h0M339 397h0M308 398h0M296 404h0M271 387h0M284 394h0M372 375h0M297 405h0M290 419h0M303 421h0M356 391h0M360 404h0M345 385h0M362 368h0M378 358h0M300 412h0M330 390h0M378 345h0M318 389h0M312 413h0M324 409h0M336 406h0M353 380h0M383 336h0M387 340h0M380 343h0M380 349h0M371 356h0M377 355h0M377 349h0M382 359h0M370 362h0M365 364h0M373 359h0M372 370h0M367 366h0M375 361h0M338 362h0M344 362h0M342 371h0M329 379h0M341 379h0M344 380h0M348 378h0M342 384h0M334 386h0M361 376h0M360 372h0M367 379h0M368 375h0M363 371h0M375 382h0M376 378h0M371 379h0M349 388h0M350 396h0M353 385h0M357 397h0M352 402h0M334 399h0M334 394h0M338 402h0M343 399h0M325 395h0M319 393h0M326 390h0M311 397h0M310 402h0M302 402h0M298 408h0M329 395h0M326 405h0M332 403h0M367 371h0M295 416h0M301 416h0M307 417h0M319 399h0M318 404h0M314 400h0M349 382h0M306 412h0M312 409h0M318 407h0M330 408h0M342 404h0"/>
<path stroke="#38a680" d="M640 429h0"/>
<path stroke="#443d79" d="M530 179h0M335 357h0M364 375h0M328 400h0M305 395h0M620 398h0M640 402h0M640 392h0M629 385h0M634 387h0M640 397h0M630 421h0M633 374h0M631 380h0M644 389h0M626 402h0M636 391h0M637 413h0"/>
<path stroke="#3fab7e" d="M626 434h0M612 449h0"/>
<path stroke="#43175b" d="M508 46h0M487 32h0M465 49h0M502 62h0M462 70h0M480 41h0M465 75h0M556 51h0M688 134h0M670 140h0M594 195h0M620 187h0M175 362h0M178 357h0M184 365h0M184 362h0M308 401h0M330 384h0M644 344h0M649 355h0M647 350h0M642 342h0M649 352h0M645 352h0"/>
<path stroke="#356f86" d="M632 424h0M614 447h0M630 388h0M628 418h0M639 389h0M636 411h0M630 382h0M629 394h0M630 382h0M642 382h0M636 386h0M637 395h0"/>
<path stroke="#32a083" d="M633 439h0"/>
<path stroke="#2e9086" d="M642 441h0M627 437h0M629 427h0"/>
<path stroke="#2e9586" d="M639 441h0M639 436h0"/>
<path stroke="#43457c" d="M543 46h0M315 395h0M347 401h0"/>
<path stroke="#308587" d="M628 382h0M637 415h0M628 437h0M627 437h0M639 380h0M634 381h0M631 386h0M637 407h0M636 402h0M630 405h0"/>
<path stroke="#2f9b84" d="M639 438h0M641 436h0"/>
<path stroke="#442063" d="M516 60h0M457 70h0M536 80h0M477 134h0M678 133h0M637 153h0M180 365h0M179 360h0M341 366h0M353 390h0M361 418h0M651 358h0M645 341h0M627 407h0M645 349h0M638 410h0"/>
<path stroke="#453070" d="M580 78h0M493 161h0M384 331h0M379 382h0M323 403h0M640 378h0M637 404h0M653 357h0M627 385h0M638 408h0M642 393h0M632 403h0M634 425h0"/>
<path stroke="#45286a" d="M558 58h0M570 82h0M539 80h0M507 165h0M503 160h0M693 140h0M635 194h0M645 198h0M183 358h0M173 366h0M176 366h0M358 403h0M313 405h0M635 375h0M626 408h0M635 407h0M635 390h0M651 355h0M654 357h0M636 384h0M635 424h0"/>
<path stroke="#376985" d="M631 378h0M626 396h0M623 403h0M621 400h0M636 393h0M638 400h0M629 394h0M630 438h0"/>
<path stroke="#2f8a87" d="M632 395h0M630 441h0M636 398h0M627 413h0M629 439h0M616 447h0M638 390h0M636 389h0M621 403h0M628 419h0M635 443h0"/>
<path stroke="#3b5d83" d="M515 170h0M636 380h0M625 418h0"/>
<path stroke="#52b776" d="M635 428h0M625 438h0"/>
<path stroke="#3f5281" d="M634 420h0M640 385h0M636 404h0"/>
<path stroke="#347487" d="M641 384h0M629 429h0M634 441h0M631 398h0M633 379h0M641 385h0M624 414h0M633 422h0M635 426h0"/>
<path stroke="#47b17a" d="M639 431h0M631 440h0M636 437h0"/>
<path stroke="#396484" d="M634 401h0M623 397h0M638 433h0M630 420h0M625 398h0M643 397h0M629 410h0"/>
<path stroke="#400f53" d="M508 64h0M448 68h0M565 60h0M637 147h0M339 397h0"/>
<path stroke="#337987" d="M645 380h0M646 380h0M639 399h0M624 410h0M631 426h0M624 399h0M630 416h0M628 427h0"/>
<path stroke="#3d5882" d="M548 137h0M645 382h0M636 394h0M633 387h0M636 396h0M628 419h0"/>
<path stroke="#317f87" d="M632 384h0M630 408h0M641 405h0M636 417h0M629 390h0M641 380h0M632 386h0M632 399h0M640 400h0"/>
<path stroke="#414b7f" d="M499 166h0M533 156h0M643 387h0M632 416h0M633 375h0M630 384h0M636 389h0M631 389h0M636 417h0"/>
<path stroke="#453775" d="M375 352h0M322 390h0M637 385h0M631 392h0M638 416h0M639 376h0M641 381h0M634 393h0M637 387h0M625 411h0M635 416h0"/>
</g>
<line x1="672.5" y1="1052.9" x2="1527.0" y2="1052.9" stroke="#555" stroke-width="2"/>
<text x="1116.0" y="1038.1" font-size="29.8" text-anchor="middle">Meiocyte (M)</text>
<line x1="1092.1" y1="1083.0" x2="1092.1" y2="1395.0" stroke="#2a2a2a" stroke-width="2"/>
<text x="887.6" y="1085.7" font-size="24.6" text-anchor="middle"><tspan font-style="italic">c3h3</tspan></text>
<text x="1308.5" y="1085.7" font-size="24.6" text-anchor="middle"><tspan font-style="italic">trps8</tspan></text>
<defs><linearGradient id="cb6" x1="0" y1="1" x2="0" y2="0"><stop offset="0.0" stop-color="#3d074a"/><stop offset="0.1" stop-color="#442063"/><stop offset="0.2" stop-color="#453775"/><stop offset="0.3" stop-color="#3f5281"/><stop offset="0.4" stop-color="#396484"/><stop offset="0.5" stop-color="#347487"/><stop offset="0.6" stop-color="#308587"/><stop offset="0.7" stop-color="#2e9586"/><stop offset="0.8" stop-color="#3fab7e"/><stop offset="0.9" stop-color="#5cbc72"/><stop offset="1.0" stop-color="#82ca61"/></linearGradient></defs>
<rect x="728.4" y="1114.3" width="45.6" height="137.2" fill="url(#cb6)"/>
<line x1="728.4" y1="1151.9" x2="735.9" y2="1151.9" stroke="rgba(255,255,255,0.75)" stroke-width="1.3"/>
<line x1="766.5" y1="1151.9" x2="774.0" y2="1151.9" stroke="rgba(255,255,255,0.75)" stroke-width="1.3"/>
<line x1="728.4" y1="1203.9" x2="735.9" y2="1203.9" stroke="rgba(255,255,255,0.75)" stroke-width="1.3"/>
<line x1="766.5" y1="1203.9" x2="774.0" y2="1203.9" stroke="rgba(255,255,255,0.75)" stroke-width="1.3"/>
<text x="748.0" y="1103.8" font-size="25" text-anchor="middle">Expression</text>
<text x="778.9" y="1127.6" font-size="20">Max</text>
<text x="779.2" y="1249.9" font-size="20">Min</text>
<line x1="672.5" y1="1403.9" x2="672.5" y2="1235.9" stroke="#000" stroke-width="2"/>
<line x1="671.5" y1="1403.9" x2="841.0" y2="1403.9" stroke="#000" stroke-width="2"/>
<path d="M672.5,1221.9 L667.0,1236.9 L678.0,1236.9 Z" fill="#000"/>
<path d="M855.0,1403.9 L840.0,1398.4 L840.0,1409.4 Z" fill="#000"/>
<text x="705.5" y="1432.5" font-size="24.2">UMAP_1</text>
<text x="663.4" y="1370.3" font-size="24.2" transform="rotate(-90 663.4 1370.3)">UMAP_2</text>
<g transform="matrix(0.721 0 0 0.705 564.5 1082.2)" stroke-width="11.8" stroke-linecap="round" fill="none">
<path stroke="#d3d3d3" d="M522 41h0M470 82h0M475 103h0M493 92h0M497 103h0M490 72h0M495 28h0M504 33h0M508 37h0M508 46h0M479 37h0M465 49h0M467 53h0M476 47h0M493 36h0M493 62h0M508 64h0M516 60h0M497 56h0M453 60h0M448 68h0M457 70h0M453 79h0M462 70h0M480 41h0M498 40h0M465 75h0M468 78h0M495 97h0M491 67h0M500 31h0M491 30h0M494 32h0M497 34h0M506 35h0M501 36h0M508 41h0M503 38h0M504 47h0M503 43h0M499 52h0M499 44h0M483 35h0M490 34h0M475 39h0M468 45h0M474 44h0M471 48h0M477 53h0M478 44h0M496 38h0M476 64h0M467 69h0M469 72h0M498 62h0M495 59h0M500 59h0M512 62h0M451 64h0M455 65h0M453 69h0M451 73h0M455 74h0M463 72h0M543 46h0M556 51h0M558 58h0M564 56h0M565 60h0M574 66h0M582 72h0M580 78h0M570 82h0M575 76h0M536 80h0M539 80h0M534 86h0M538 92h0M546 102h0M474 126h0M477 134h0M482 137h0M487 142h0M489 148h0M483 149h0M493 161h0M499 166h0M507 165h0M511 174h0M513 183h0M520 166h0M528 164h0M528 153h0M538 150h0M530 179h0M548 137h0M553 132h0M560 128h0M566 125h0M551 140h0M589 134h0M495 156h0M503 160h0M486 155h0M515 170h0M533 156h0M542 145h0M557 55h0M560 54h0M561 57h0M569 63h0M578 69h0M574 71h0M581 75h0M575 80h0M535 83h0M537 86h0M536 89h0M476 130h0M485 140h0M482 143h0M488 145h0M485 146h0M486 149h0M492 152h0M488 152h0M484 152h0M496 164h0M498 160h0M489 158h0M503 166h0M501 163h0M509 169h0M505 162h0M512 178h0M524 165h0M518 168h0M528 158h0M530 160h0M532 151h0M530 154h0M535 153h0M540 148h0M550 135h0M545 141h0M557 130h0M563 126h0M661 112h0M678 117h0M667 123h0M690 122h0M652 124h0M654 133h0M704 135h0M678 133h0M688 134h0M676 146h0M685 149h0M695 150h0M693 140h0M631 150h0M643 145h0M650 152h0M661 150h0M659 160h0M641 173h0M628 181h0M655 184h0M637 190h0M643 196h0M614 190h0M603 194h0M586 192h0M575 190h0M588 200h0M629 191h0M635 194h0M645 198h0M646 203h0M659 162h0M683 127h0M670 140h0M698 128h0M680 141h0M620 187h0M637 147h0M637 153h0M645 151h0M652 158h0M655 145h0M672 120h0M680 122h0M687 124h0M694 125h0M653 129h0M654 139h0M699 138h0M701 132h0M683 134h0M680 130h0M674 137h0M679 137h0M691 137h0M686 131h0M693 131h0M684 138h0M680 147h0M673 143h0M678 143h0M690 150h0M682 145h0M694 145h0M634 148h0M640 146h0M644 148h0M649 145h0M655 151h0M651 155h0M652 149h0M660 155h0M656 154h0M658 148h0M656 159h0M628 186h0M624 184h0M640 193h0M633 190h0M608 192h0M617 188h0M598 194h0M580 191h0M587 196h0M590 193h0M591 197h0M624 189h0M640 196h0M675 140h0M641 149h0M384 331h0M389 334h0M383 342h0M385 345h0M375 352h0M387 360h0M367 359h0M372 365h0M335 357h0M348 358h0M341 366h0M328 374h0M343 376h0M339 382h0M358 377h0M364 375h0M379 382h0M370 382h0M353 390h0M358 403h0M339 397h0M322 390h0M308 398h0M296 404h0M271 387h0M284 394h0M328 400h0M372 375h0M297 405h0M290 419h0M303 421h0M308 401h0M323 403h0M339 397h0M356 391h0M360 404h0M361 418h0M315 395h0M345 385h0M362 368h0M378 358h0M300 412h0M313 405h0M330 390h0M378 345h0M330 384h0M312 413h0M324 409h0M336 406h0M347 401h0M353 380h0M383 336h0M387 340h0M380 343h0M380 349h0M371 356h0M377 355h0M377 349h0M382 359h0M370 362h0M365 364h0M373 359h0M372 370h0M367 366h0M375 361h0M338 362h0M344 362h0M342 371h0M329 379h0M341 379h0M344 380h0M348 378h0M342 384h0M334 386h0M361 376h0M360 372h0M367 379h0M368 375h0M363 371h0M375 382h0M376 378h0M371 379h0M349 388h0M350 396h0M353 385h0M357 397h0M352 402h0M334 399h0M334 394h0M338 402h0M343 399h0M325 395h0M319 393h0M326 390h0M311 397h0M310 402h0M302 402h0M298 408h0M329 395h0M326 405h0M332 403h0M367 371h0M295 416h0M301 416h0M307 417h0M319 399h0M318 404h0M314 400h0M349 382h0M306 412h0M312 409h0M318 407h0M330 408h0M342 404h0M651 358h0M635 375h0M645 382h0M620 398h0M632 395h0M640 402h0M626 408h0M637 415h0M632 424h0M630 441h0M639 441h0M626 434h0M628 418h0M640 392h0M647 350h0M631 378h0M640 378h0M636 380h0M632 384h0M629 385h0M641 384h0M643 387h0M635 390h0M634 387h0M639 389h0M626 396h0M623 403h0M636 398h0M631 392h0M634 401h0M636 394h0M637 404h0M640 397h0M627 413h0M630 408h0M634 420h0M632 416h0M636 411h0M635 428h0M629 429h0M630 421h0M639 436h0M634 441h0M628 437h0"/>
<path stroke="#82ca61" d="M184 365h0"/>
<path stroke="#443d79" d="M487 32h0"/>
<path stroke="#442063" d="M500 47h0M594 195h0"/>
<path stroke="#45286a" d="M502 62h0"/>
<path stroke="#52b776" d="M178 357h0M176 366h0"/>
<path stroke="#453070" d="M478 59h0"/>
<path stroke="#38a680" d="M175 362h0M180 365h0"/>
<path stroke="#47b17a" d="M183 358h0"/>
<path stroke="#6ac16c" d="M173 366h0"/>
<path stroke="#3fab7e" d="M179 360h0M184 362h0"/>
<path stroke="#43175b" d="M473 68h0M305 395h0M318 389h0M644 344h0M639 431h0M630 388h0"/>
<path stroke="#400f53" d="M649 355h0M628 382h0M637 385h0M614 447h0M635 407h0"/>
<path stroke="#43457c" d="M471 41h0"/>
</g>
<g transform="matrix(0.737 0 0 0.69 978.1 1080.8)" stroke-width="11.8" stroke-linecap="round" fill="none">
<path stroke="#d3d3d3" d="M522 41h0M470 82h0M475 103h0M493 92h0M497 103h0M490 72h0M495 28h0M504 33h0M508 37h0M508 46h0M487 32h0M471 41h0M465 49h0M476 47h0M493 36h0M478 59h0M493 62h0M508 64h0M516 60h0M497 56h0M448 68h0M457 70h0M453 79h0M462 70h0M480 41h0M465 75h0M468 78h0M495 97h0M491 67h0M500 31h0M491 30h0M494 32h0M497 34h0M506 35h0M501 36h0M508 41h0M503 38h0M504 47h0M503 43h0M499 52h0M499 44h0M483 35h0M490 34h0M475 39h0M468 45h0M474 44h0M471 48h0M477 53h0M478 44h0M496 38h0M476 64h0M467 69h0M469 72h0M498 62h0M495 59h0M500 59h0M512 62h0M451 64h0M455 65h0M453 69h0M451 73h0M455 74h0M463 72h0M543 46h0M556 51h0M564 56h0M565 60h0M574 66h0M582 72h0M580 78h0M570 82h0M575 76h0M536 80h0M539 80h0M534 86h0M538 92h0M546 102h0M474 126h0M477 134h0M482 137h0M487 142h0M489 148h0M493 161h0M499 166h0M507 165h0M513 183h0M520 166h0M528 164h0M538 150h0M530 179h0M548 137h0M553 132h0M560 128h0M566 125h0M551 140h0M589 134h0M503 160h0M486 155h0M515 170h0M533 156h0M542 145h0M557 55h0M560 54h0M561 57h0M569 63h0M578 69h0M574 71h0M581 75h0M575 80h0M535 83h0M537 86h0M536 89h0M476 130h0M485 140h0M482 143h0M488 145h0M485 146h0M486 149h0M492 152h0M488 152h0M484 152h0M496 164h0M498 160h0M489 158h0M503 166h0M501 163h0M509 169h0M505 162h0M512 178h0M524 165h0M518 168h0M528 158h0M530 160h0M532 151h0M530 154h0M535 153h0M540 148h0M550 135h0M545 141h0M557 130h0M563 126h0M661 112h0M690 122h0M652 124h0M654 133h0M704 135h0M678 133h0M676 146h0M685 149h0M695 150h0M693 140h0M631 150h0M643 145h0M661 150h0M659 160h0M641 173h0M628 181h0M655 184h0M637 190h0M643 196h0M603 194h0M586 192h0M575 190h0M588 200h0M645 198h0M646 203h0M659 162h0M670 140h0M698 128h0M680 141h0M594 195h0M620 187h0M637 153h0M645 151h0M652 158h0M655 145h0M672 120h0M680 122h0M687 124h0M694 125h0M653 129h0M654 139h0M699 138h0M701 132h0M683 134h0M680 130h0M674 137h0M679 137h0M691 137h0M686 131h0M693 131h0M684 138h0M680 147h0M673 143h0M678 143h0M690 150h0M682 145h0M694 145h0M634 148h0M640 146h0M644 148h0M649 145h0M655 151h0M651 155h0M652 149h0M660 155h0M656 154h0M658 148h0M656 159h0M628 186h0M624 184h0M640 193h0M633 190h0M608 192h0M617 188h0M598 194h0M580 191h0M587 196h0M590 193h0M591 197h0M624 189h0M640 196h0M675 140h0M641 149h0M384 331h0M389 334h0M375 352h0M387 360h0M372 365h0M335 357h0M348 358h0M341 366h0M328 374h0M343 376h0M339 382h0M358 377h0M364 375h0M370 382h0M353 390h0M358 403h0M339 397h0M322 390h0M308 398h0M296 404h0M284 394h0M328 400h0M372 375h0M297 405h0M290 419h0M308 401h0M323 403h0M339 397h0M356 391h0M360 404h0M361 418h0M315 395h0M345 385h0M362 368h0M378 358h0M300 412h0M330 390h0M378 345h0M305 395h0M330 384h0M312 413h0M324 409h0M336 406h0M347 401h0M353 380h0M383 336h0M387 340h0M380 343h0M380 349h0M371 356h0M377 355h0M377 349h0M382 359h0M370 362h0M365 364h0M373 359h0M372 370h0M367 366h0M375 361h0M338 362h0M344 362h0M342 371h0M329 379h0M341 379h0M344 380h0M348 378h0M342 384h0M334 386h0M361 376h0M360 372h0M367 379h0M368 375h0M363 371h0M375 382h0M376 378h0M371 379h0M349 388h0M350 396h0M353 385h0M357 397h0M352 402h0M334 399h0M334 394h0M338 402h0M343 399h0M325 395h0M319 393h0M326 390h0M311 397h0M310 402h0M302 402h0M298 408h0M329 395h0M326 405h0M332 403h0M367 371h0M295 416h0M301 416h0M307 417h0M319 399h0M318 404h0M314 400h0M349 382h0M306 412h0M312 409h0M318 407h0M330 408h0M342 404h0M644 344h0M649 355h0M651 358h0M635 375h0M628 382h0M645 382h0M637 385h0M620 398h0M632 395h0M640 402h0M626 408h0M637 415h0M632 424h0M639 431h0M630 441h0M639 441h0M626 434h0M630 388h0M628 418h0M635 407h0M640 392h0M647 350h0M631 378h0M640 378h0M636 380h0M632 384h0M629 385h0M641 384h0M643 387h0M635 390h0M634 387h0M639 389h0M626 396h0M623 403h0M636 398h0M631 392h0M634 401h0M636 394h0M637 404h0M640 397h0M627 413h0M630 408h0M634 420h0M632 416h0M636 411h0M635 428h0M629 429h0M630 421h0M639 436h0M634 441h0M628 437h0"/>
<path stroke="#400f53" d="M500 47h0M473 68h0M558 58h0M511 174h0M528 153h0M495 156h0M678 117h0M688 134h0M629 191h0M637 147h0M379 382h0M318 389h0"/>
<path stroke="#5cbc72" d="M183 358h0M173 366h0"/>
<path stroke="#76c667" d="M176 366h0"/>
<path stroke="#3fab7e" d="M184 365h0"/>
<path stroke="#82ca61" d="M184 362h0"/>
<path stroke="#43175b" d="M479 37h0M467 53h0M502 62h0M453 60h0M498 40h0M483 149h0M667 123h0M650 152h0M614 190h0M635 194h0M683 127h0M383 342h0M385 345h0M367 359h0M271 387h0M303 421h0M313 405h0M614 447h0"/>
<path stroke="#6ac16c" d="M175 362h0"/>
<path stroke="#47b17a" d="M179 360h0"/>
<path stroke="#52b776" d="M180 365h0M178 357h0"/>
</g>
<line x1="672.5" y1="1502.9" x2="1527.0" y2="1502.9" stroke="#555" stroke-width="2"/>
<text x="1116.0" y="1488.1" font-size="29.8" text-anchor="middle">Endothecium (EN)</text>
<line x1="1092.1" y1="1533.0" x2="1092.1" y2="1845.0" stroke="#2a2a2a" stroke-width="2"/>
<text x="886.3" y="1535.7" font-size="24.6" text-anchor="middle"><tspan font-style="italic">cab</tspan></text>
<text x="1307.6" y="1535.7" font-size="24.6" text-anchor="middle"><tspan font-style="italic">rbcl2</tspan></text>
<defs><linearGradient id="cb7" x1="0" y1="1" x2="0" y2="0"><stop offset="0.0" stop-color="#3d074a"/><stop offset="0.1" stop-color="#442063"/><stop offset="0.2" stop-color="#453775"/><stop offset="0.3" stop-color="#3f5281"/><stop offset="0.4" stop-color="#396484"/><stop offset="0.5" stop-color="#347487"/><stop offset="0.6" stop-color="#308587"/><stop offset="0.7" stop-color="#2e9586"/><stop offset="0.8" stop-color="#3fab7e"/><stop offset="0.9" stop-color="#5cbc72"/><stop offset="1.0" stop-color="#82ca61"/></linearGradient></defs>
<rect x="728.4" y="1564.3" width="45.6" height="137.2" fill="url(#cb7)"/>
<line x1="728.4" y1="1601.9" x2="735.9" y2="1601.9" stroke="rgba(255,255,255,0.75)" stroke-width="1.3"/>
<line x1="766.5" y1="1601.9" x2="774.0" y2="1601.9" stroke="rgba(255,255,255,0.75)" stroke-width="1.3"/>
<line x1="728.4" y1="1653.9" x2="735.9" y2="1653.9" stroke="rgba(255,255,255,0.75)" stroke-width="1.3"/>
<line x1="766.5" y1="1653.9" x2="774.0" y2="1653.9" stroke="rgba(255,255,255,0.75)" stroke-width="1.3"/>
<text x="748.0" y="1553.8" font-size="25" text-anchor="middle">Expression</text>
<text x="778.9" y="1577.6" font-size="20">Max</text>
<text x="779.2" y="1699.9" font-size="20">Min</text>
<line x1="672.3" y1="1846.7" x2="672.3" y2="1679.0" stroke="#000" stroke-width="2"/>
<line x1="671.3" y1="1846.7" x2="840.0" y2="1846.7" stroke="#000" stroke-width="2"/>
<path d="M672.3,1665.0 L666.8,1680.0 L677.8,1680.0 Z" fill="#000"/>
<path d="M854.0,1846.7 L839.0,1841.2 L839.0,1852.2 Z" fill="#000"/>
<text x="705.1" y="1875.6" font-size="24.2">UMAP_1</text>
<text x="660.1" y="1813.5" font-size="24.2" transform="rotate(-90 660.1 1813.5)">UMAP_2</text>
<g transform="matrix(0.732 0 0 0.68 555.3 1537.2)" stroke-width="11.8" stroke-linecap="round" fill="none">
<path stroke="#d3d3d3" d="M522 41h0M470 82h0M475 103h0M497 103h0M490 72h0M495 28h0M504 33h0M508 37h0M508 46h0M500 47h0M467 53h0M476 47h0M493 36h0M473 68h0M493 62h0M508 64h0M453 60h0M453 79h0M462 70h0M480 41h0M498 40h0M465 75h0M468 78h0M495 97h0M491 67h0M500 31h0M491 30h0M494 32h0M497 34h0M506 35h0M501 36h0M508 41h0M503 38h0M504 47h0M503 43h0M499 52h0M499 44h0M483 35h0M490 34h0M475 39h0M468 45h0M474 44h0M471 48h0M477 53h0M478 44h0M496 38h0M476 64h0M467 69h0M469 72h0M498 62h0M495 59h0M500 59h0M512 62h0M451 64h0M455 65h0M453 69h0M451 73h0M455 74h0M463 72h0M543 46h0M556 51h0M558 58h0M565 60h0M582 72h0M570 82h0M575 76h0M534 86h0M538 92h0M546 102h0M477 134h0M482 137h0M487 142h0M483 149h0M493 161h0M499 166h0M507 165h0M511 174h0M520 166h0M528 164h0M528 153h0M538 150h0M530 179h0M548 137h0M560 128h0M566 125h0M551 140h0M495 156h0M486 155h0M515 170h0M533 156h0M542 145h0M557 55h0M560 54h0M561 57h0M569 63h0M578 69h0M574 71h0M581 75h0M575 80h0M535 83h0M537 86h0M536 89h0M476 130h0M485 140h0M482 143h0M488 145h0M485 146h0M486 149h0M492 152h0M488 152h0M484 152h0M496 164h0M498 160h0M489 158h0M503 166h0M501 163h0M509 169h0M505 162h0M512 178h0M524 165h0M518 168h0M528 158h0M530 160h0M532 151h0M530 154h0M535 153h0M540 148h0M550 135h0M545 141h0M557 130h0M563 126h0M661 112h0M678 117h0M667 123h0M652 124h0M704 135h0M688 134h0M695 150h0M631 150h0M643 145h0M661 150h0M659 160h0M628 181h0M655 184h0M643 196h0M614 190h0M603 194h0M586 192h0M575 190h0M588 200h0M629 191h0M635 194h0M645 198h0M646 203h0M659 162h0M683 127h0M670 140h0M680 141h0M620 187h0M637 153h0M645 151h0M652 158h0M655 145h0M672 120h0M680 122h0M687 124h0M694 125h0M653 129h0M654 139h0M699 138h0M701 132h0M683 134h0M680 130h0M674 137h0M679 137h0M691 137h0M686 131h0M693 131h0M684 138h0M680 147h0M673 143h0M678 143h0M690 150h0M682 145h0M694 145h0M634 148h0M640 146h0M644 148h0M649 145h0M655 151h0M651 155h0M652 149h0M660 155h0M656 154h0M658 148h0M656 159h0M628 186h0M624 184h0M640 193h0M633 190h0M608 192h0M617 188h0M598 194h0M580 191h0M587 196h0M590 193h0M591 197h0M624 189h0M640 196h0M675 140h0M641 149h0M649 355h0M651 358h0M635 375h0M628 382h0M632 395h0M640 402h0M626 408h0M632 424h0M630 441h0M639 441h0M614 447h0M626 434h0M630 388h0M628 418h0M635 407h0M647 350h0M631 378h0M640 378h0M636 380h0M632 384h0M629 385h0M641 384h0M643 387h0M635 390h0M634 387h0M639 389h0M626 396h0M623 403h0M636 398h0M631 392h0M634 401h0M636 394h0M637 404h0M640 397h0M627 413h0M630 408h0M634 420h0M632 416h0M636 411h0M635 428h0M629 429h0M630 421h0M639 436h0M634 441h0M628 437h0"/>
<path stroke="#3b5d83" d="M305 395h0M377 349h0M310 402h0M319 399h0"/>
<path stroke="#2f8a87" d="M389 334h0M367 366h0M376 378h0M352 402h0M334 394h0"/>
<path stroke="#47b17a" d="M326 405h0M367 371h0"/>
<path stroke="#5cbc72" d="M361 418h0"/>
<path stroke="#347487" d="M328 374h0M314 400h0M306 412h0"/>
<path stroke="#38a680" d="M379 382h0M300 412h0M387 340h0M334 386h0"/>
<path stroke="#442063" d="M471 41h0M465 49h0M448 68h0M539 80h0M489 148h0M690 122h0M650 152h0M641 173h0M370 382h0M360 404h0M313 405h0M324 409h0M370 362h0M375 361h0M342 371h0M298 408h0M644 344h0"/>
<path stroke="#308587" d="M322 390h0"/>
<path stroke="#43457c" d="M343 376h0M339 397h0M367 379h0M334 399h0M645 382h0"/>
<path stroke="#45286a" d="M479 37h0M637 190h0M308 398h0M328 400h0M372 375h0M378 358h0M373 359h0M341 379h0M361 376h0M350 396h0"/>
<path stroke="#43175b" d="M487 32h0M516 60h0M580 78h0M474 126h0M513 183h0M553 132h0M503 160h0M678 133h0M676 146h0M698 128h0M175 362h0M183 358h0M180 365h0M173 366h0M184 365h0M179 360h0M184 362h0M348 358h0M339 382h0M303 421h0M345 385h0M362 368h0M318 389h0M312 413h0M336 406h0M371 356h0M348 378h0M368 375h0M319 393h0M295 416h0M307 417h0M312 409h0"/>
<path stroke="#3d5882" d="M284 394h0M323 403h0M378 345h0M347 401h0M371 379h0M302 402h0"/>
<path stroke="#400f53" d="M493 92h0M478 59h0M497 56h0M457 70h0M536 80h0M685 149h0M594 195h0M178 357h0M176 366h0M383 342h0M385 345h0M375 352h0M387 360h0M358 403h0M297 405h0M308 401h0M344 362h0M329 379h0M349 388h0M353 385h0M329 395h0M330 408h0M620 398h0M637 415h0M639 431h0M640 392h0"/>
<path stroke="#3fab7e" d="M372 365h0M335 357h0M290 419h0M383 336h0"/>
<path stroke="#317f87" d="M343 399h0M326 390h0"/>
<path stroke="#52b776" d="M364 375h0M330 384h0"/>
<path stroke="#2e9586" d="M365 364h0"/>
<path stroke="#453775" d="M589 134h0M341 366h0M339 397h0M271 387h0M380 343h0"/>
<path stroke="#3f5281" d="M693 140h0M637 147h0M384 331h0M367 359h0M358 377h0M353 390h0M344 380h0M375 382h0M325 395h0M332 403h0M318 407h0"/>
<path stroke="#2f9b84" d="M372 370h0M360 372h0M363 371h0M338 402h0"/>
<path stroke="#2e9086" d="M296 404h0M342 384h0M301 416h0"/>
<path stroke="#414b7f" d="M356 391h0M353 380h0M318 404h0M637 385h0"/>
<path stroke="#443d79" d="M564 56h0M315 395h0M357 397h0M311 397h0"/>
<path stroke="#376985" d="M380 349h0M377 355h0M382 359h0"/>
<path stroke="#453070" d="M502 62h0M574 66h0M654 133h0M330 390h0M338 362h0M342 404h0"/>
<path stroke="#356f86" d="M349 382h0"/>
</g>
<g transform="matrix(0.715 0 0 0.675 983.4 1536.2)" stroke-width="11.8" stroke-linecap="round" fill="none">
<path stroke="#d3d3d3" d="M522 41h0M475 103h0M495 28h0M508 37h0M465 49h0M478 59h0M493 62h0M453 60h0M500 31h0M477 53h0M453 69h0M539 80h0M487 142h0M520 166h0M560 128h0M589 134h0M533 156h0M560 54h0M561 57h0M575 80h0M485 146h0M492 152h0M505 162h0M563 126h0M637 147h0M655 145h0M673 143h0M682 145h0M634 148h0M587 196h0M590 193h0M630 388h0M632 384h0"/>
<path stroke="#400f53" d="M470 82h0M493 92h0M500 47h0M479 37h0M502 62h0M516 60h0M497 56h0M501 36h0M498 62h0M500 59h0M512 62h0M451 64h0M451 73h0M463 72h0M582 72h0M538 92h0M474 126h0M538 150h0M551 140h0M503 160h0M581 75h0M535 83h0M537 86h0M486 149h0M496 164h0M489 158h0M501 163h0M524 165h0M530 160h0M532 151h0M678 117h0M693 140h0M631 150h0M650 152h0M659 160h0M628 181h0M643 196h0M603 194h0M645 198h0M680 141h0M653 129h0M683 134h0M680 130h0M684 138h0M680 147h0M690 150h0M640 146h0M628 186h0M598 194h0M591 197h0M675 140h0M175 362h0M183 358h0M180 365h0M178 357h0M173 366h0M184 365h0M179 360h0M184 362h0M635 375h0M645 382h0M620 398h0M626 408h0M635 407h0M631 378h0M629 385h0M641 384h0M623 403h0M636 398h0M634 401h0M636 394h0M640 397h0M636 411h0M629 429h0M639 436h0M634 441h0"/>
<path stroke="#43457c" d="M385 345h0M343 376h0M308 398h0M284 394h0M349 388h0"/>
<path stroke="#3d5882" d="M367 359h0M297 405h0M290 419h0M378 345h0M336 406h0M380 349h0M344 362h0M342 371h0M348 378h0M302 402h0"/>
<path stroke="#414b7f" d="M375 352h0M372 365h0M370 382h0M322 390h0M308 401h0M378 358h0M300 412h0M365 364h0M311 397h0M310 402h0M312 409h0"/>
<path stroke="#308587" d="M379 382h0M372 375h0M356 391h0M375 361h0M334 399h0M367 371h0"/>
<path stroke="#442063" d="M504 33h0M487 32h0M471 41h0M476 47h0M473 68h0M508 64h0M457 70h0M462 70h0M480 41h0M497 34h0M508 41h0M503 38h0M504 47h0M468 45h0M474 44h0M471 48h0M476 64h0M455 65h0M565 60h0M580 78h0M570 82h0M536 80h0M477 134h0M483 149h0M553 132h0M566 125h0M542 145h0M578 69h0M476 130h0M512 178h0M535 153h0M540 148h0M690 122h0M704 135h0M678 133h0M688 134h0M676 146h0M661 150h0M641 173h0M655 184h0M588 200h0M646 203h0M670 140h0M698 128h0M594 195h0M645 151h0M680 122h0M694 125h0M654 139h0M699 138h0M701 132h0M674 137h0M679 137h0M691 137h0M649 145h0M660 155h0M624 189h0M641 149h0M387 360h0M364 375h0M305 395h0M342 384h0M350 396h0M349 382h0"/>
<path stroke="#3b5d83" d="M389 334h0M303 421h0M360 404h0M382 359h0M334 386h0M363 371h0M375 382h0"/>
<path stroke="#337987" d="M341 366h0M307 417h0M314 400h0M330 408h0"/>
<path stroke="#376985" d="M384 331h0M362 368h0M357 397h0M343 399h0M301 416h0"/>
<path stroke="#45286a" d="M508 46h0M467 53h0M468 78h0M491 67h0M494 32h0M499 52h0M499 44h0M490 34h0M469 72h0M455 74h0M556 51h0M574 66h0M575 76h0M546 102h0M482 137h0M499 166h0M507 165h0M495 156h0M569 63h0M488 145h0M503 166h0M518 168h0M530 154h0M550 135h0M557 130h0M667 123h0M652 124h0M685 149h0M637 190h0M635 194h0M659 162h0M620 187h0M637 153h0M652 158h0M678 143h0M656 154h0M617 188h0M312 413h0M324 409h0M338 362h0"/>
<path stroke="#317f87" d="M339 397h0M367 379h0M371 379h0"/>
<path stroke="#443d79" d="M383 342h0M348 358h0M328 374h0M347 401h0M353 380h0M377 355h0M373 359h0M372 370h0M376 378h0M352 402h0M329 395h0M306 412h0"/>
<path stroke="#396484" d="M367 366h0M338 402h0M326 405h0M318 404h0M318 407h0"/>
<path stroke="#453070" d="M511 174h0M548 137h0M515 170h0M498 160h0M330 390h0M380 343h0M370 362h0M344 380h0M334 394h0"/>
<path stroke="#43175b" d="M497 103h0M490 72h0M493 36h0M448 68h0M453 79h0M498 40h0M465 75h0M495 97h0M491 30h0M506 35h0M503 43h0M483 35h0M475 39h0M478 44h0M496 38h0M467 69h0M495 59h0M543 46h0M558 58h0M564 56h0M534 86h0M489 148h0M493 161h0M513 183h0M528 164h0M528 153h0M530 179h0M486 155h0M557 55h0M574 71h0M536 89h0M485 140h0M482 143h0M488 152h0M484 152h0M509 169h0M528 158h0M545 141h0M661 112h0M654 133h0M695 150h0M643 145h0M614 190h0M586 192h0M575 190h0M629 191h0M683 127h0M672 120h0M687 124h0M686 131h0M693 131h0M694 145h0M644 148h0M655 151h0M651 155h0M652 149h0M658 148h0M656 159h0M624 184h0M640 193h0M633 190h0M608 192h0M580 191h0M640 196h0M176 366h0M361 418h0M313 405h0M360 372h0M644 344h0M649 355h0M651 358h0M628 382h0M637 385h0M632 395h0M640 402h0M637 415h0M632 424h0M639 431h0M630 441h0M639 441h0M614 447h0M626 434h0M628 418h0M640 392h0M647 350h0M640 378h0M636 380h0M643 387h0M635 390h0M634 387h0M639 389h0M626 396h0M631 392h0M637 404h0M627 413h0M630 408h0M634 420h0M632 416h0M635 428h0M630 421h0M628 437h0"/>
<path stroke="#347487" d="M335 357h0M339 397h0M271 387h0M323 403h0M341 379h0M353 385h0M332 403h0M319 399h0"/>
<path stroke="#356f86" d="M353 390h0M315 395h0M345 385h0M318 389h0M330 384h0M383 336h0"/>
<path stroke="#2f8a87" d="M358 377h0M387 340h0M368 375h0M325 395h0M326 390h0"/>
<path stroke="#453775" d="M339 382h0M371 356h0M361 376h0"/>
<path stroke="#3f5281" d="M358 403h0M296 404h0M328 400h0M377 349h0M329 379h0M319 393h0M298 408h0M295 416h0M342 404h0"/>
</g>
<line x1="672.5" y1="1952.9" x2="1527.0" y2="1952.9" stroke="#555" stroke-width="2"/>
<text x="1116.0" y="1938.1" font-size="29.8" text-anchor="middle">Epidermis (EP)</text>
<line x1="1092.1" y1="1983.0" x2="1092.1" y2="2295.0" stroke="#2a2a2a" stroke-width="2"/>
<text x="885.5" y="1985.7" font-size="24.6" text-anchor="middle"><tspan font-style="italic">glossy14</tspan></text>
<text x="1305.2" y="1985.7" font-size="24.6" text-anchor="middle">ZM-<tspan font-style="italic">wda1</tspan></text>
<defs><linearGradient id="cb8" x1="0" y1="1" x2="0" y2="0"><stop offset="0.0" stop-color="#3d074a"/><stop offset="0.1" stop-color="#442063"/><stop offset="0.2" stop-color="#453775"/><stop offset="0.3" stop-color="#3f5281"/><stop offset="0.4" stop-color="#396484"/><stop offset="0.5" stop-color="#347487"/><stop offset="0.6" stop-color="#308587"/><stop offset="0.7" stop-color="#2e9586"/><stop offset="0.8" stop-color="#3fab7e"/><stop offset="0.9" stop-color="#5cbc72"/><stop offset="1.0" stop-color="#82ca61"/></linearGradient></defs>
<rect x="728.4" y="2014.3" width="45.6" height="137.2" fill="url(#cb8)"/>
<line x1="728.4" y1="2051.9" x2="735.9" y2="2051.9" stroke="rgba(255,255,255,0.75)" stroke-width="1.3"/>
<line x1="766.5" y1="2051.9" x2="774.0" y2="2051.9" stroke="rgba(255,255,255,0.75)" stroke-width="1.3"/>
<line x1="728.4" y1="2103.9" x2="735.9" y2="2103.9" stroke="rgba(255,255,255,0.75)" stroke-width="1.3"/>
<line x1="766.5" y1="2103.9" x2="774.0" y2="2103.9" stroke="rgba(255,255,255,0.75)" stroke-width="1.3"/>
<text x="748.0" y="2003.8" font-size="25" text-anchor="middle">Expression</text>
<text x="778.9" y="2027.6" font-size="20">Max</text>
<text x="779.2" y="2149.9" font-size="20">Min</text>
<line x1="672.3" y1="2296.7" x2="672.3" y2="2129.0" stroke="#000" stroke-width="2"/>
<line x1="671.3" y1="2296.7" x2="840.0" y2="2296.7" stroke="#000" stroke-width="2"/>
<path d="M672.3,2115.0 L666.8,2130.0 L677.8,2130.0 Z" fill="#000"/>
<path d="M854.0,2296.7 L839.0,2291.2 L839.0,2302.2 Z" fill="#000"/>
<text x="705.1" y="2325.6" font-size="24.2">UMAP_1</text>
<text x="660.1" y="2263.5" font-size="24.2" transform="rotate(-90 660.1 2263.5)">UMAP_2</text>
<g transform="matrix(0.715 0 0 0.69 567.6 1978.6)" stroke-width="11.8" stroke-linecap="round" fill="none">
<path stroke="#d3d3d3" d="M558 58h0M565 60h0M574 66h0M582 72h0M580 78h0M534 86h0M546 102h0M489 148h0M483 149h0M520 166h0M548 137h0M566 125h0M495 156h0M486 155h0M557 55h0M560 54h0M561 57h0M569 63h0M578 69h0M574 71h0M581 75h0M575 80h0M535 83h0M537 86h0M536 89h0M476 130h0M485 140h0M482 143h0M488 145h0M485 146h0M486 149h0M492 152h0M488 152h0M484 152h0M496 164h0M498 160h0M489 158h0M503 166h0M501 163h0M509 169h0M505 162h0M512 178h0M524 165h0M518 168h0M528 158h0M530 160h0M532 151h0M530 154h0M535 153h0M540 148h0M550 135h0M545 141h0M557 130h0M563 126h0M678 117h0M652 124h0M688 134h0M676 146h0M631 150h0M650 152h0M659 160h0M628 181h0M655 184h0M637 190h0M614 190h0M575 190h0M635 194h0M645 198h0M646 203h0M698 128h0M655 145h0M672 120h0M680 122h0M687 124h0M694 125h0M653 129h0M654 139h0M699 138h0M701 132h0M683 134h0M680 130h0M674 137h0M679 137h0M691 137h0M686 131h0M693 131h0M684 138h0M680 147h0M673 143h0M678 143h0M690 150h0M682 145h0M694 145h0M634 148h0M640 146h0M644 148h0M649 145h0M655 151h0M651 155h0M652 149h0M660 155h0M656 154h0M658 148h0M656 159h0M628 186h0M624 184h0M640 193h0M633 190h0M608 192h0M617 188h0M598 194h0M580 191h0M587 196h0M590 193h0M591 197h0M624 189h0M640 196h0M675 140h0M641 149h0M328 374h0M343 376h0M308 398h0M362 368h0M378 358h0M318 389h0M312 413h0M371 356h0M375 361h0M342 384h0M361 376h0M360 372h0M371 379h0M350 396h0M326 390h0M326 405h0M306 412h0M387 358h0M334 360h0M338 385h0M372 385h0M356 389h0M351 392h0M324 392h0M298 405h0M270 384h0M326 398h0M321 403h0M360 420h0M345 387h0M361 371h0M360 366h0M328 392h0M332 388h0M307 398h0M335 405h0M345 401h0M354 382h0M371 361h0M372 364h0M375 369h0M342 363h0M341 374h0M342 378h0M337 387h0M324 389h0M367 373h0M302 419h0M351 381h0M345 404h0M649 355h0M628 418h0M640 392h0M647 350h0M631 378h0M640 378h0M636 380h0M632 384h0M629 385h0M641 384h0M643 387h0M635 390h0M634 387h0M639 389h0M626 396h0M623 403h0M636 398h0M631 392h0M634 401h0M636 394h0M637 404h0M640 397h0M627 413h0M630 408h0M634 420h0M632 416h0M636 411h0M635 428h0M629 429h0M630 421h0M639 436h0M634 441h0M628 437h0"/>
<path stroke="#453070" d="M490 72h0M508 64h0M520 39h0M476 102h0M515 62h0M502 46h0M499 50h0M468 48h0M473 62h0M538 92h0M659 162h0M637 153h0M367 359h0M308 401h0M330 390h0M324 409h0M383 336h0M373 359h0M344 380h0M357 397h0M334 394h0M343 399h0M298 408h0M329 395h0M332 403h0M301 416h0M382 329h0M391 334h0M382 345h0M375 355h0M387 358h0M373 367h0M349 361h0M329 375h0M346 376h0M357 375h0M367 375h0M381 382h0M371 385h0M360 405h0M305 397h0M287 394h0M375 375h0M302 423h0M362 415h0M311 407h0M375 345h0M310 411h0M321 410h0M337 409h0M371 360h0M373 361h0M344 371h0M348 376h0M334 384h0M357 373h0M362 374h0M374 385h0M373 378h0M355 395h0M333 392h0M345 398h0M311 404h0M334 404h0M296 414h0M320 397h0M315 402h0M314 411h0M317 409h0M330 410h0M331 409h0"/>
<path stroke="#308587" d="M497 34h0M468 45h0M476 64h0M496 106h0M472 38h0M501 41h0M505 42h0"/>
<path stroke="#376985" d="M522 41h0M473 68h0M502 62h0M494 32h0M506 35h0M503 38h0M503 43h0M500 59h0M509 49h0M478 47h0M493 68h0M500 28h0M492 35h0M474 37h0M480 46h0M467 70h0M178 357h0M184 365h0"/>
<path stroke="#396484" d="M462 70h0M499 44h0M475 49h0M492 64h0M473 46h0M494 39h0M183 358h0M180 365h0M173 366h0"/>
<path stroke="#453775" d="M475 103h0M493 92h0M508 37h0M457 70h0M499 52h0M512 62h0M504 35h0M475 70h0M506 67h0M482 43h0M498 33h0M487 35h0M478 56h0M473 63h0M487 142h0M493 161h0M530 179h0M339 382h0M358 377h0M364 375h0M353 390h0M322 390h0M271 387h0M345 385h0M378 345h0M336 406h0M353 380h0M382 359h0M341 379h0M368 375h0M376 378h0M349 388h0M375 365h0M305 423h0M310 400h0M381 345h0M389 340h0M385 358h0M373 363h0M329 377h0M343 379h0M341 386h0M358 377h0M363 374h0M363 373h0M366 373h0M351 405h0M332 400h0M336 395h0M323 394h0M325 407h0M293 414h0M316 403h0"/>
<path stroke="#3f5281" d="M497 56h0M448 68h0M477 53h0M467 69h0M498 62h0M481 58h0M518 61h0M446 67h0M463 71h0M500 40h0M496 37h0M506 44h0M450 76h0M543 46h0M474 126h0M477 134h0M560 128h0M542 145h0"/>
<path stroke="#6ac16c" d="M539 80h0M507 165h0M513 183h0"/>
<path stroke="#414b7f" d="M495 28h0M467 53h0M476 47h0M453 60h0M490 34h0M451 73h0M499 103h0M504 63h0M459 70h0M466 80h0M495 32h0M509 35h0M505 36h0M469 46h0M498 58h0M466 72h0M499 166h0M511 174h0M515 170h0"/>
<path stroke="#3b5d83" d="M504 33h0M501 36h0M508 41h0M471 48h0M499 49h0M496 54h0M479 43h0M489 33h0M480 53h0M467 73h0M457 65h0M455 69h0M528 153h0M538 150h0M533 156h0"/>
<path stroke="#43175b" d="M463 72h0M464 47h0M470 68h0M454 77h0M463 75h0M496 60h0M453 64h0M551 140h0M503 160h0M704 135h0M695 150h0M641 173h0M594 195h0M375 352h0M341 366h0M370 382h0M339 397h0M284 394h0M328 400h0M356 391h0M360 404h0M315 395h0M313 405h0M380 349h0M377 355h0M334 386h0M375 382h0M353 385h0M325 395h0M312 409h0M318 407h0M342 404h0M377 352h0M340 368h0M340 380h0M282 395h0M375 376h0M292 421h0M337 398h0M359 391h0M378 361h0M313 402h0M381 337h0M381 334h0M369 355h0M375 350h0M378 361h0M345 359h0M367 376h0M364 379h0M366 376h0M374 380h0M369 379h0M349 391h0M351 393h0M352 400h0M339 402h0M311 399h0M327 394h0M329 405h0M370 371h0M306 418h0M318 402h0M644 344h0M637 385h0M639 431h0M639 441h0M626 434h0M635 407h0"/>
<path stroke="#317f87" d="M498 40h0M507 43h0M502 46h0M494 59h0M498 96h0M498 37h0M498 49h0M478 47h0M451 70h0"/>
<path stroke="#442063" d="M475 39h0M470 43h0M467 48h0M456 60h0M490 28h0M500 41h0M468 67h0M468 66h0M497 58h0M453 64h0M661 112h0M667 123h0M690 122h0M678 133h0M693 140h0M643 196h0M683 127h0M670 140h0M620 187h0M383 342h0M387 360h0M372 365h0M296 404h0M372 375h0M290 419h0M323 403h0M305 395h0M330 384h0M380 343h0M370 362h0M338 362h0M329 379h0M367 379h0M338 402h0M302 402h0M314 400h0M389 331h0M385 340h0M370 359h0M332 356h0M343 364h0M359 376h0M306 401h0M272 389h0M297 413h0M307 394h0M318 387h0M310 411h0M326 409h0M352 382h0M379 350h0M378 347h0M374 347h0M370 366h0M337 364h0M344 378h0M346 377h0M356 385h0M358 395h0M335 401h0M341 400h0M320 395h0M301 400h0M300 409h0M303 413h0M342 406h0M651 358h0M635 375h0M632 395h0M637 415h0"/>
<path stroke="#347487" d="M500 47h0M479 37h0M478 59h0M468 78h0M500 31h0M478 44h0M490 70h0M506 36h0M488 34h0M470 54h0M498 58h0M446 69h0M493 97h0M508 38h0M466 45h0M497 61h0M453 75h0M175 362h0M184 362h0"/>
<path stroke="#400f53" d="M643 145h0M661 150h0M637 147h0M652 158h0M303 421h0M339 397h0M361 418h0M319 393h0M342 398h0M337 399h0M331 381h0M368 354h0M381 358h0M352 383h0M628 382h0M645 382h0M620 398h0M640 402h0M626 408h0M632 424h0M630 441h0M614 447h0M630 388h0"/>
<path stroke="#3d5882" d="M516 60h0M483 35h0M523 38h0M490 70h0M482 37h0M478 39h0M501 40h0M475 46h0M510 64h0M463 75h0M528 164h0M589 134h0"/>
<path stroke="#337987" d="M470 82h0M508 46h0M471 41h0M491 67h0M491 30h0M494 27h0M467 50h0M496 62h0M505 64h0M476 42h0M494 37h0"/>
<path stroke="#45286a" d="M497 103h0M493 36h0M465 75h0M495 97h0M473 82h0M477 102h0M491 91h0M498 29h0M507 33h0M486 35h0M453 75h0M460 67h0M498 42h0M481 32h0M470 45h0M498 57h0M512 64h0M575 76h0M654 133h0M685 149h0M603 194h0M586 192h0M588 200h0M629 191h0M680 141h0M645 151h0M384 331h0M389 334h0M385 345h0M335 357h0M379 382h0M358 403h0M300 412h0M347 401h0M387 340h0M377 349h0M372 370h0M342 371h0M348 378h0M363 371h0M352 402h0M307 417h0M319 399h0M318 404h0M349 382h0M385 341h0M366 358h0M347 355h0M327 376h0M342 378h0M364 372h0M377 383h0M320 388h0M295 406h0M298 404h0M296 402h0M288 417h0M360 402h0M314 393h0M345 382h0M317 386h0M329 382h0M387 343h0M380 346h0M378 353h0M378 353h0M363 362h0M363 361h0M375 369h0M329 381h0M340 384h0M370 373h0M373 381h0M350 386h0M328 394h0M323 390h0M302 400h0M331 393h0M335 402h0M300 415h0M309 415h0M321 397h0M316 401h0M349 381h0M311 409h0"/>
<path stroke="#356f86" d="M487 32h0M465 49h0M493 62h0M495 59h0M455 74h0M494 39h0M477 61h0M500 60h0M460 71h0M465 81h0M494 35h0M507 46h0M454 64h0M456 71h0M179 360h0M176 366h0"/>
<path stroke="#443d79" d="M504 47h0M474 44h0M496 38h0M469 72h0M455 65h0M470 79h0M494 39h0M451 62h0M504 46h0M501 61h0M556 51h0M564 56h0M570 82h0M536 80h0M482 137h0M553 132h0M348 358h0M297 405h0M365 364h0M367 366h0M344 362h0M334 399h0M311 397h0M310 402h0M367 371h0M295 416h0M330 408h0M385 328h0M383 346h0M355 403h0M340 394h0M326 401h0M311 401h0M320 403h0M354 391h0M362 406h0M313 397h0M381 358h0M298 410h0M349 402h0M383 345h0M365 365h0M340 363h0M339 378h0M377 377h0M353 396h0M335 400h0M321 394h0M311 399h0M308 401h0M300 409h0M304 411h0M320 406h0"/>
<path stroke="#43457c" d="M453 79h0M480 41h0M451 64h0M453 69h0M491 92h0M508 40h0M462 75h0M494 29h0M506 38h0M499 34h0M481 33h0M453 75h0"/>
</g>
<g transform="matrix(0.74 0 0 0.678 977.5 1982.4)" stroke-width="11.8" stroke-linecap="round" fill="none">
<path stroke="#d3d3d3" d="M479 37h0M468 78h0M506 35h0M504 47h0M495 59h0M490 70h0M486 35h0M475 49h0M496 54h0M498 58h0M501 40h0M498 37h0M501 41h0M498 49h0M481 33h0M487 35h0M468 48h0M501 61h0M453 64h0M451 70h0M556 51h0M558 58h0M565 60h0M575 76h0M538 92h0M474 126h0M477 134h0M487 142h0M489 148h0M483 149h0M493 161h0M499 166h0M507 165h0M520 166h0M528 164h0M528 153h0M538 150h0M530 179h0M553 132h0M503 160h0M486 155h0M515 170h0M542 145h0M557 55h0M560 54h0M561 57h0M569 63h0M578 69h0M574 71h0M581 75h0M575 80h0M535 83h0M537 86h0M536 89h0M476 130h0M485 140h0M482 143h0M488 145h0M485 146h0M486 149h0M492 152h0M488 152h0M484 152h0M496 164h0M498 160h0M489 158h0M503 166h0M501 163h0M509 169h0M505 162h0M512 178h0M524 165h0M518 168h0M528 158h0M530 160h0M532 151h0M530 154h0M535 153h0M540 148h0M550 135h0M545 141h0M557 130h0M563 126h0M661 112h0M678 117h0M667 123h0M690 122h0M652 124h0M704 135h0M678 133h0M688 134h0M676 146h0M685 149h0M695 150h0M693 140h0M643 145h0M650 152h0M661 150h0M659 160h0M628 181h0M637 190h0M643 196h0M603 194h0M586 192h0M575 190h0M635 194h0M645 198h0M659 162h0M670 140h0M698 128h0M620 187h0M672 120h0M680 122h0M687 124h0M694 125h0M653 129h0M654 139h0M699 138h0M701 132h0M683 134h0M680 130h0M674 137h0M679 137h0M691 137h0M686 131h0M693 131h0M684 138h0M680 147h0M673 143h0M678 143h0M690 150h0M682 145h0M694 145h0M634 148h0M640 146h0M644 148h0M649 145h0M655 151h0M651 155h0M652 149h0M660 155h0M656 154h0M658 148h0M656 159h0M628 186h0M624 184h0M640 193h0M633 190h0M608 192h0M617 188h0M598 194h0M580 191h0M587 196h0M590 193h0M591 197h0M624 189h0M640 196h0M675 140h0M641 149h0M335 357h0M339 382h0M358 377h0M328 400h0M290 419h0M313 405h0M353 380h0M329 379h0M341 379h0M325 395h0M334 360h0M332 356h0M327 376h0M342 378h0M340 394h0M375 375h0M354 391h0M378 347h0M374 347h0M373 361h0M329 381h0M358 377h0M356 385h0M352 400h0M323 390h0M331 393h0M351 381h0M320 406h0M330 410h0M649 355h0M651 358h0M635 375h0M628 382h0M632 424h0M639 431h0M630 441h0M639 441h0M630 388h0M635 407h0M640 392h0M647 350h0M631 378h0M640 378h0M636 380h0M632 384h0M629 385h0M641 384h0M643 387h0M635 390h0M634 387h0M639 389h0M626 396h0M623 403h0M636 398h0M631 392h0M634 401h0M636 394h0M637 404h0M640 397h0M627 413h0M630 408h0M634 420h0M632 416h0M636 411h0M635 428h0M629 429h0M630 421h0M639 436h0M634 441h0M628 437h0"/>
<path stroke="#453070" d="M654 133h0M588 200h0M629 191h0M652 158h0M384 331h0M385 345h0M271 387h0M342 371h0M367 379h0M301 416h0M307 417h0M312 409h0M377 352h0M375 355h0M375 365h0M367 375h0M381 382h0M326 398h0M298 404h0M310 400h0M360 402h0M297 413h0M313 402h0M335 405h0M381 334h0M340 363h0M344 371h0M367 376h0M366 376h0M373 378h0M358 395h0M336 395h0M339 402h0M311 404h0M301 400h0M335 402h0M318 402h0M316 401h0M311 409h0"/>
<path stroke="#400f53" d="M566 125h0M655 184h0M183 358h0M180 365h0M184 362h0M176 366h0M632 395h0"/>
<path stroke="#356f86" d="M453 69h0M494 27h0M464 47h0M456 60h0M446 67h0M498 96h0M450 76h0M495 156h0"/>
<path stroke="#376985" d="M497 56h0M497 34h0M506 38h0M480 46h0M453 64h0M534 86h0M546 102h0M377 355h0M320 403h0"/>
<path stroke="#2f8a87" d="M500 47h0M465 49h0M493 36h0M516 60h0M498 40h0M496 38h0M469 72h0M500 59h0M453 75h0M479 43h0M490 28h0M492 35h0M478 56h0M467 70h0"/>
<path stroke="#47b17a" d="M462 70h0M471 48h0M476 64h0M506 36h0M451 62h0M465 81h0M499 50h0M468 67h0M498 57h0"/>
<path stroke="#52b776" d="M475 39h0M468 45h0M491 92h0M518 61h0M476 42h0"/>
<path stroke="#76c667" d="M500 31h0M494 32h0M463 75h0M493 68h0M466 72h0"/>
<path stroke="#443d79" d="M470 82h0M495 28h0M476 102h0M470 43h0M494 59h0M494 35h0M500 41h0M466 45h0M473 63h0M455 69h0M641 173h0M680 141h0M645 151h0M383 342h0M353 390h0M372 375h0M303 421h0M362 368h0M330 390h0M378 345h0M380 349h0M370 362h0M338 362h0M361 376h0M343 399h0M319 399h0M349 382h0M387 358h0M370 359h0M343 364h0M346 376h0M372 385h0M351 392h0M360 405h0M282 395h0M288 417h0M359 391h0M345 382h0M307 398h0M307 394h0M326 409h0M381 358h0M375 369h0M378 361h0M370 373h0M351 405h0M332 400h0M323 394h0M320 395h0M329 405h0M331 409h0M644 344h0M645 382h0M620 398h0"/>
<path stroke="#2e9086" d="M487 32h0M467 69h0M499 103h0M494 39h0M470 68h0M500 40h0M462 75h0M500 28h0M510 64h0"/>
<path stroke="#45286a" d="M631 150h0M683 127h0M308 401h0M383 336h0M371 356h0M348 378h0M385 328h0M366 358h0M362 406h0M372 364h0M329 377h0M341 386h0M337 387h0M353 396h0"/>
<path stroke="#2f9b84" d="M523 38h0M470 79h0M463 71h0M502 46h0M473 62h0"/>
<path stroke="#43175b" d="M564 56h0M637 153h0M175 362h0M178 357h0M173 366h0M184 365h0M179 360h0M640 402h0M626 408h0"/>
<path stroke="#414b7f" d="M465 75h0M499 52h0M451 73h0M463 72h0M472 38h0M470 54h0M482 43h0M494 29h0M470 45h0M475 46h0M467 73h0M513 183h0M389 334h0M339 397h0M315 395h0M345 385h0M300 412h0M330 384h0M382 359h0M302 402h0M329 395h0M306 412h0M383 346h0M387 358h0M373 367h0M342 398h0M320 388h0M272 389h0M296 402h0M305 423h0M314 393h0M381 345h0M337 409h0M352 382h0M371 360h0M370 366h0M334 384h0M357 373h0M321 394h0M300 409h0M325 407h0M321 397h0M637 385h0M614 447h0"/>
<path stroke="#43457c" d="M493 92h0M502 62h0M503 43h0M509 49h0M507 43h0M478 47h0M454 64h0M570 82h0M589 134h0M614 190h0M296 404h0M323 403h0M361 418h0M347 401h0M377 349h0M372 370h0M371 379h0M326 390h0M310 402h0M367 371h0M318 404h0M318 407h0M385 340h0M340 368h0M359 376h0M306 401h0M270 384h0M287 394h0M375 376h0M360 420h0M362 415h0M298 410h0M354 382h0M380 346h0M379 350h0M378 353h0M375 350h0M385 358h0M337 364h0M339 378h0M374 380h0M377 377h0M349 391h0M367 373h0M306 418h0M316 403h0M315 402h0M637 415h0"/>
<path stroke="#3d5882" d="M477 53h0M498 62h0M512 62h0M508 40h0M488 34h0M460 67h0M536 80h0M367 359h0M372 365h0M343 376h0M364 375h0M308 398h0M360 404h0M318 389h0M387 340h0M380 343h0M365 364h0M373 359h0M375 361h0M344 362h0M363 371h0M349 388h0M353 385h0M357 397h0M295 416h0M356 389h0M324 392h0M302 423h0M337 399h0M313 397h0M381 358h0M329 382h0M310 411h0M381 337h0M387 343h0M371 361h0M345 359h0M343 379h0M340 384h0M373 381h0M351 393h0M335 400h0M300 409h0M296 414h0M302 419h0M300 415h0M342 406h0M628 418h0"/>
<path stroke="#32a083" d="M508 37h0M455 65h0M494 39h0M481 58h0M492 64h0M498 42h0M474 37h0M512 64h0M463 75h0"/>
<path stroke="#308587" d="M480 41h0M473 82h0M504 35h0M500 60h0M489 33h0M509 35h0M506 44h0M497 61h0M453 75h0"/>
<path stroke="#2e9586" d="M478 59h0M505 64h0M504 46h0"/>
<path stroke="#5cbc72" d="M503 38h0M467 50h0M515 62h0M507 46h0M505 42h0M498 58h0"/>
<path stroke="#3b5d83" d="M453 60h0M457 70h0M507 33h0M499 49h0M478 39h0M498 33h0M499 34h0M574 66h0M539 80h0M482 137h0M548 137h0M387 360h0M341 366h0M297 405h0M305 395h0M336 406h0M344 380h0M368 375h0M350 396h0M352 402h0M319 393h0M326 405h0M382 329h0M389 331h0M340 380h0M357 375h0M364 372h0M298 405h0M326 401h0M311 401h0M361 371h0M360 366h0M331 381h0M383 345h0M373 363h0M348 376h0M346 377h0M363 373h0M362 374h0M352 383h0M311 399h0M308 401h0M327 394h0M345 404h0"/>
<path stroke="#453775" d="M508 46h0M508 64h0M482 37h0M459 70h0M493 97h0M473 46h0M456 71h0M511 174h0M560 128h0M551 140h0M655 145h0M348 358h0M328 374h0M379 382h0M370 382h0M322 390h0M356 391h0M378 358h0M367 366h0M342 384h0M360 372h0M334 394h0M338 402h0M311 397h0M314 400h0M382 345h0M347 355h0M329 375h0M377 383h0M355 403h0M345 387h0M318 387h0M321 410h0M345 401h0M389 340h0M369 355h0M363 362h0M363 361h0M365 365h0M342 363h0M341 374h0M342 378h0M374 385h0M355 395h0M333 392h0M345 398h0M324 389h0M302 400h0"/>
<path stroke="#337987" d="M497 103h0M490 72h0M476 47h0M508 41h0M490 34h0M451 64h0M453 75h0"/>
<path stroke="#317f87" d="M481 32h0M494 39h0M457 65h0"/>
<path stroke="#396484" d="M467 53h0M477 102h0M496 106h0M490 70h0M467 48h0M475 70h0M504 63h0M496 37h0M508 38h0M582 72h0M375 352h0M358 403h0M376 378h0M334 399h0M342 404h0M391 334h0M385 341h0M338 385h0M371 385h0M305 397h0M295 406h0M292 421h0M321 403h0M378 361h0M311 407h0M375 345h0M366 373h0M369 379h0M350 386h0M335 401h0M341 400h0M328 394h0M334 404h0M370 371h0M293 414h0M349 381h0M303 413h0M304 411h0M314 411h0"/>
<path stroke="#347487" d="M475 103h0M504 33h0M495 97h0M483 35h0M474 44h0M478 44h0M520 39h0M502 46h0M506 67h0M454 77h0M466 80h0M494 37h0M496 60h0M626 434h0"/>
<path stroke="#6ac16c" d="M522 41h0M491 30h0"/>
<path stroke="#3fab7e" d="M493 62h0M491 67h0M499 44h0M498 29h0M505 36h0M469 46h0M480 53h0M468 66h0M497 58h0"/>
<path stroke="#3f5281" d="M473 68h0M501 36h0M455 74h0M478 47h0M496 62h0M460 71h0M543 46h0M284 394h0M339 397h0M312 413h0M324 409h0M334 386h0M375 382h0M298 408h0M332 403h0M330 408h0M349 361h0M337 398h0M328 392h0M332 388h0M317 386h0M310 411h0M349 402h0M368 354h0M378 353h0M375 369h0M344 378h0M363 374h0M364 379h0M311 399h0M309 415h0M320 397h0M317 409h0"/>
<path stroke="#442063" d="M580 78h0M533 156h0M646 203h0M594 195h0M637 147h0"/>
<path stroke="#38a680" d="M471 41h0M448 68h0M453 79h0M491 91h0M477 61h0M446 69h0M495 32h0"/>
</g>
<ellipse cx="1003.2" cy="901.8" rx="28.6" ry="54.0" fill="none" stroke="#111" stroke-width="1.8" stroke-dasharray="6 4.5"/>
<ellipse cx="1438.2" cy="901.0" rx="28.2" ry="53.8" fill="none" stroke="#111" stroke-width="1.8" stroke-dasharray="6 4.5"/>
<ellipse cx="693.6" cy="1335.3" rx="14.3" ry="14.3" fill="none" stroke="#111" stroke-width="1.8" stroke-dasharray="6 4.5"/>
<ellipse cx="1110.7" cy="1328.5" rx="14.4" ry="14.4" fill="none" stroke="#111" stroke-width="1.8" stroke-dasharray="6 4.5"/>
<ellipse cx="800.3" cy="1789.7" rx="63.0" ry="38.0" fill="none" stroke="#111" stroke-width="1.8" stroke-dasharray="6 4.5" transform="rotate(-43 800.3 1789.7)"/>
<ellipse cx="1220.9" cy="1789.3" rx="55.0" ry="36.0" fill="none" stroke="#111" stroke-width="1.8" stroke-dasharray="6 4.5" transform="rotate(-35 1220.9 1789.3)"/>
<ellipse cx="910.0" cy="2014.2" rx="38.0" ry="19.5" fill="none" stroke="#111" stroke-width="1.8" stroke-dasharray="6 4.5" transform="rotate(-39 910.0 2014.2)"/>
<ellipse cx="1330.7" cy="2018.9" rx="38.0" ry="19.5" fill="none" stroke="#111" stroke-width="1.8" stroke-dasharray="6 4.5" transform="rotate(-39 1330.7 2018.9)"/>
</svg>
</body></html>
